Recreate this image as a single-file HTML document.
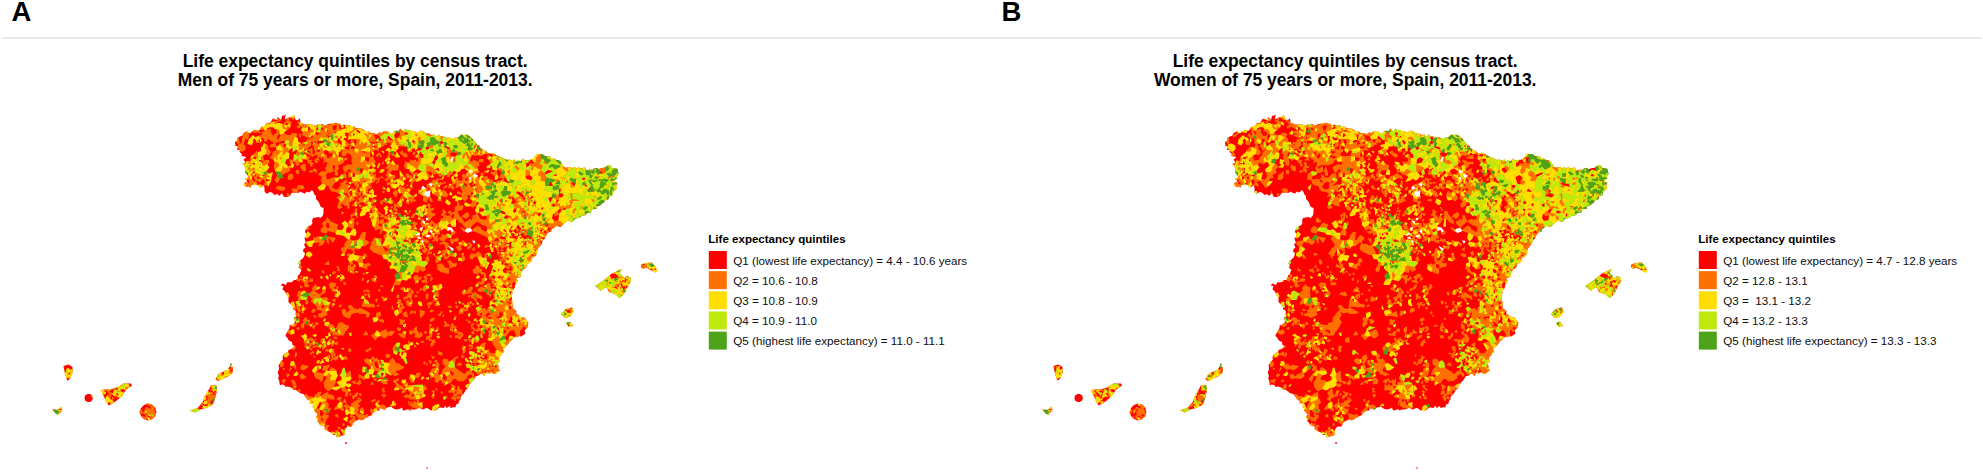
<!DOCTYPE html>
<html><head><meta charset="utf-8"><title>Life expectancy quintiles by census tract</title>
<style>
html,body{margin:0;padding:0;background:#fff}
svg{display:block}
text{font-family:"Liberation Sans",Arial,sans-serif;fill:#000}
.pl{font-weight:bold;font-size:27.5px}
.ti{font-weight:bold;font-size:17.45px;text-anchor:middle}
.lt{font-weight:bold;font-size:11.55px}
.li{font-size:11.65px;fill:#0d0d0d}
</style></head><body>
<svg width="1983" height="472" viewBox="0 0 1983 472">
<rect width="1983" height="472" fill="#fff"/>
<text x="11.5" y="20.6" class="pl">A</text>
<text x="1001.6" y="20.6" class="pl">B</text>
<rect x="2" y="37.1" width="1980" height="1.7" fill="#e6e6e6"/>
<text x="355.2" y="66.9" class="ti">Life expectancy quintiles by census tract.</text>
<text x="355.2" y="85.9" class="ti">Men of 75 years or more, Spain, 2011-2013.</text>
<text x="1345.2" y="66.9" class="ti">Life expectancy quintiles by census tract.</text>
<text x="1345.2" y="85.9" class="ti">Women of 75 years or more, Spain, 2011-2013.</text>
<g>
<g transform="scale(.5)" fill-rule="evenodd">
<path d="m460 730 2 1 1-2-1-2-2 1zm-315 15 0-11-8-5-10 3 3 15 5 15 5-5zm320 0 1-10-6-3-5 8-10 4-9 5-5 10 6 3 10-6 10-4zm-240 62 10-7 10-10 7-11 12-8-2-4-15 0-12 8-15 4-18 1 4 9 5 11 6 11zm-55 -16-1 5 1 5 5 3 5 0 4-3 2-5-2-5-4-3-5 0zm255 19 5-13 4-17-2-10-10 1-5 9-7 12-5 13-10 11-15 5 10 4 10-6 12-3zm-303 4-7 6-10-1 7 8 5 2 8-9zm166 -4-6 6-3 8 3 8 6 6 8 3 8-3 6-6 3-8-3-8-6-6-8-3zm1014 -270 10 5 2-5-5-9-7-6-14 2-6 3 0 4 4 3 7-2zm-792 -170 5-1 2 3 4 3 7-5 1 7 0 5 1 2 4 4 5-4 5 1 2 2 3 3 6-2 3 4 6-6 3 7 4 1 3 0 6-3 4-6 3 1 5-1 5 1 3-3 4 2 6 2 4-4 3 2 4-2 3-3 3 4 1 4 4 4 0 6 3 3 3 4 2 6 2 3 5 2 0 7 0 4-2 5-4 4-4-2-5 1-6 1-2 6 1 4-3 5-5 1-2 4-4 3-1 5 3 4 0 7-4 0 1 6 2 4-4 4 3 6-4 3-1 5 4 3-1 5-2 4-5 5-3 2-2 5 3 3-2 5 5 5-2 4-2 5-3 2-1 7-3 2-4 0-4 4-5 1-4-1-3 6-7-3-4 4 6 1-2 7 4 3 3 5 2 4 3 3 0 6 0 4 3 3 4 4 2 3 0 5 4 1 2 4-1 4 2 5-5 3 2 6-1 4-4 3-6 2 0 5-2 4-2 4-3 4-1 4 3 3 3 5 4 3 3 1 1 6 4 2-2 3-4 3-6 2-1 4-4 2-5 4-2 5 1 4-3 3-3 5-3 3 1 5 0 4-2 4 0 4 2 5-2 4 2 4 1 6 1 5 3-2 6 1 2 4 3-1 6 1 2 2 6 4 3-1 5 4 4 3 2 1 5 1 3 4 3 3 2 4 6 2-2 6 8 0-2 7 3 3 1 4 4 4 3 4-4 5 3 5-1 4 4 2 2 5 5 2 5 1 0 6 7 4 3 1 5 2 1 4 6 0 2 5 7-3 5-1 3-2 1-7 1-5 4-4 8 0 2-5 0-2 6-4 3-1 5-3 3 2 6-1 1-2 5-2 4-3 6-1 1-5 5-3 4-2 5 0 0-5 6 1 4 2 3-3 5-2 6 0 4 3 2 1 5 1 7-2 3-2 2 6 6-1 4-2 3 3 5-2 4 0 5-1 4-3 5 2 3 2 5-2 4-1 4 2 3 3 4-1 5 1 4-2 3-3 4-1 7 1 2-5 3 5 7-4 1 4 7-2 3 1 1-6 5-2 1-5 3-3 0-5 3-4 3-2 3-5 2-4 4-1 1-7 4-4 2-3 3-3 3-4 2-4 6-2 4-4 4 0 4 5 3-6 5 1 6-3 3 3 6 0 4-5 4 0-4-3 1-4-1-5-2-3 6-4-3-5 2-5 4-3-1-3 7-3-4-7 4-1 3-4 3-2 3-5 2-3 4-3 3-3 3-2 6 0 2-3 4 2 5-3 4-3-2-6 4-4 3-4-1-2 1-5-2-3-2-3-3-5-5 0-3-1-5-4-4-3 1-4-4-4-4-3 0-5 0-5-1-4 0-5-1-5 0-2 2-4-1-5 3-2 3-5 0-3 2-5 4-4-5-6 10-2 0-5 1-3 1-4 3-4 4-1 3-3 0-5 5-3 3-2 3-3-1-7 4 1 4-3 2-6 2-3-1-5 3-3 5-6 2-2 1-6 3-2 3-4 1-4 3-5 1-1 6-2 1-5 5-2 2-4 4 0 7 2 4-4 3-4 4-1 3-5 4 2 5 2 5-6 3-1 5-1 4-2 2-4 5 2 4-3 3-4 6 1 3-7 3-1 6 0 2-6 5-1 4-4 4-2 2-6 2 1 5-2 1-6 6-1 1-4 2-4 5-4 2-4-2-4 2-5-5-2 1-5 4-2 0-5 3-5-2-5 0-4-5-2-6 1-3-6-4-1-3 2-6 4-3 0-4 1-5 2-1-3-7 1-2 3-5-1-5 1-3 2-3-7-5 1-4 1-4-3-4 3-4-3-4 3-4-3-6 1-4 1-3-2-3-5-2-3-3-3-4-3-3 1-5-4-5 1-2-4-5-2-3 1-5-2-3-2-6-1-5 0-2 2-3 6-2 2-4 1-4 1-5 0-4 1-4-4-5 7-5-3-4 3-3-5-4 3-6-3-4 1-4-1-4-3-5-1-3-1-3-2-5-3-3-1-5-2-5 1-3-1-4-4-4-1-2-2-5-4-2-4-4-1-3-5-3-3-4-5-3-3-5-3-4-2-5 2-5-2-2 2-3 4-6 0-4 3-3 0-6-3-4 1-4-2-4-1-5 0-3-4-6 5-3-5-6 2-3-3-5-2-4 0-4-3-5-2-5 3-5 1-3-3-6 0-3-2-5 0-5-1-3 5-6-6-4 5-5-1-4 1-2 4-5 0-5-4-3 1-5-2-4 4-6-1-4 4-4-1-5-2-4 1-4-4-4 1-5-3-4-3-4-1-4 0-5-1-3-3-3 1-7-3-5 0-5-2-4 3-4-4-4 0-4-2-6 2-4 0-6 0-3 3-5 0-3-3-5 2-4-1-5 4-3-3-5-1-4 0-6 1-4-1-2-1-6-2-1-9-6 4-4-3-2-8-4 4-6 1-8 4 1-9-4 1-3 1-2 8-6-6-3 6-6-3-3 2-2 5-3 3-4-2-4 5-3 3-3 0-3 2-4 6-2 1-6-2-5 2-5 5-6-5-2 2-5 2-2 5-5 2-5 3 1 5-5 2-1 3 1 6 5 1-2 7 6 0-1 4 5 4-1 4 10 2-6 5 4 6-6 3 5 5 1 5 0 3 0 5 5 4 2 5-8 2 5 6-5 2-3 6 7 3 2-2 5 3 2-6zm704 205 4 9 6 2 8 3 7 7 8-7 5-9 5-10 5-8 0-6-8-4-6 5-5-7-5-4 6-8-7 3-13 6-17 14-16 11 5 4 6 5 4-4zm-70 40-12 3-10 10 8 8 10-3 7-10zm-12 31 5 7 9-1-6-9zm-439 242 1-2-1-2-3 1 0 2zm161 50 2-2-2-2-1 1 0 2z" fill="#ff0000"/>
<path d="m1307 540-5 1 5 2zm-6 -3-5-4-2 0 0-4-3-2-4 4-1-1 0-3-4 3 1 4-1 0 4 4 7-3 8 5zm-3 -6 3-3-2-3-3 1-1 3zm-37 30 1 2 0-4zm-18 -4 2 1 3-1 1 1 4 0-1 2 1 2 3 1 2-3 0-2-4 0 0-2 5-2-5-2-1 1 0 2-2 0-3 2-2-3-3 0-4-2-3 0-1 2 1 2-2 3 2 1 3-1-1-2zm14 6-4 4 4 1 2-4zm0 8-2 0 0 5zm-7 -1-2 2 2 3 3-1-1-4zm-3 -10-1 4 3 1 2-4-2-2zm-1 20-4 1 0 4 2 1 5 0 1-2zm-20 -8-3 3 1 2 3-1 3 1 0-4 5 2 0-3 1-2 6 0 1-3 1 0 2-3-4-3-1-2-2 0-2 4 2 3-1 1-5-2 0 2-3 3-1 1-1 2zm18 -33 2-2-2 1zm-5 38 1 1 5-1 0-3-2-1-4 1zm-5 -12 1-1-2-5-4 2 3 4zm-5 -196 3 2 2-3 0-1-5-1zm2 -18 0-2-9 3 1 1 2 3 5-2zm-9 209 1 0 1-5-4-2-1 3zm-5 23 6 1 1-1-2-3-2 0-1-2-3 1zm3 -211-2-2-4 0-1 1 3 4zm0 -17-2-2-3 2 1 5 3 0zm-8 214 4 2 2-3-2-2-5 1zm0 -228 0-6-2-1-2 1-12 3 4 6 3-3 2 7 2 1 7-4-1-3zm-11 12-6-2-1 2 1 4 4 0zm-5 217-1-1-1 1 2 1zm-6 -195 1 6 1 0 2-6-1 0zm-3 15 2 5 3 0 1-3-5-2zm-3 13 5 1 1-3-2-1-1-4-4 3zm-22 12-2 4 4 0-1-4 3-1 0-3-7 1zm-29 -4-3 3-3-4-4 2-2-1 0-4-6-1-3 0-3 1 0 7 8-1 1 5 6 0 6-2 2 2 10-2 1-1 1-6 3-2 0-4 12 0-1-4-11-2-1 1-1-11-4-1-1 4 2 9-2 0-2 3 1 8-1-1zm21 5-1-2-8 5 1 3-2 1 2 5 3-1 1-5 3-1zm-20 -49 3-2 4 4-1 7 9 0 1-4-7-4 2-4-1-2-7 3 0-2-2-4-4 4zm11 285 2 0-3-3zm-5 -31 0 3 4 0 2-1 0-2-2-1 0-2-4-2 1-1-3 1 0 2zm1 -188 2 2 3-1-1-5-3 1zm0 196-4 0-1 3 5 1 1-2zm-18 -294 9 9 3 0 3-3-2-6-5 0-3-1zm13 297-2 3 4-1zm-4 -11 2-1 0-3-2 1-2 2 0 2zm-1 -265-4-1-4-4-3 3 1 3 5-1-3 3 1 3 2 0 1-4 2 3zm-7 96 5-6-4 0-2-4-5-2-11 2-1 4-9 1-2 7 7 3-3 5 2 2 2-1 1-5 4-2 3-3 3-1 5 2zm-1 -77-5 0-2 2 1 1 5 3 3-2zm-3 20-2-2 0-6-7 3-1 3-3 2 5 5 6 0zm-10 -35 3 5 6-3 0-2-3-2-5 0zm-2 66 2 7 9-4 0-2-4-4-3-1-3 1zm-20 16 0 5 8-1-1-3 8-5-8-2 0 6-4-4zm4 19 0 4 6 0 1-3-6-2zm3 -134-6-6-2 3 0 2 6 2zm-37 5 5 1-3 7-9-2-1 1 0 14 9-3 3-3-2-6 7 0 0-8 4 0 1 3 8 4 1 1-4 2-2 6 2 4 5 1-3 8 11 2 5-8-4-6-1-5-7-4 4-9-2-2-4-1-2-3 2-2 2-7-1-2 1-3-1-2-5-2-4 5-1 1-1 10-3 1-2 3-4-2-4 2zm27 137 4 5 3-2 2-4-2-2-2 1-1-2-3-2-6 0-1 3 1 3zm-11 -18 3-2 3 1 0 2 1 1 4 0 1 1-4 2-1-2-3 1-1-1-3-1-1 1 1 6 6 2 0-2-3-2 1-2 3 4 1-1 3 1 3-2-1-3 6-2-2-3-6-2 0-7-3 1-2-1-3 3-6 0 2 6zm10 -16 0 3 1 2 6-5-3-2-2 0zm-31 42 2 3-1 3 2 4 5 1 5 4-1 3 3 3-3-1-1 1 1 3 4 0 2-2 2 2 2 0 0-3 8-9 0-2-3-3 0-1 4-1-2-3 1-1-1-2 3-2-1-2-3-1-3 3 0 6-2 1-3-1-2 1 2 3 0 2 1 2-3 1-2 0 1-3-2-3-3 0-9-4 2-1 1-2-2-2-3 1zm26 -59-2-4-5 6 6 1zm-54 -10 3 8 4 3 3 0 2-3 2 3-4 5 1 2 5 3 1 6 5 2 3-4 3 3 2 0 0-5 1 0 2 2-3 3 2 4 4-5 0-4 1 1 1 0 3 2 3-3 3-4 3 2 3-3 0-2-7-2-5 3-3 4-5-1-3-3-1 0-2-5 5 3 1 0 1-6-2-1-5 4-2-1-1-3 5-2 0-4-7 2 0 3-2 0-2-1-3-5-3 0-1-2 6-4 4 1 2-1 3 3 4-4-5-3-2 1-2-3 4-2 0 4 4-1 2 3 0 1 1 2 3 2 2 0-1-7 0-1-2-5 0-1-3-5-3 0-2-1-2 6-4 4-1-2-5-4-5 4-5 2 0 4 4 4zm26 -13 0-2 2-1 2 2-1 1zm-1 38-4-1-2-6 2-3 3-2 1 2-5 4 4 2zm-14 -33 4-2 2 1 0 2zm40 70-4-2 2 5 2 0zm-4 -10-4 3 4 3 2-1 0-2 0-3zm-20 55 3 8 4 1 5-6-1-4 2-1-2-3 2-1 3 2 1-1 3 1 2-5-3-1 0-1-2-1-4 1 1 2-2 1-3 0-1 3-1 1-1 2-3 0zm10 -103 2 1 2 0 2-2 2 2 2 1 1-4-1-2-4 0-2-1zm1 62 1 1-2 3 5 1 1-3-2-2 0-4-4 1zm2 -91-2-4-5 4 0 3 3 1zm-4 79 3-4-2-2-4-3-2 5zm0 -140 0-3-3 1-5 6 3 1zm-101 305 4-2 0 5-2 1 1 5 2 1 0 5 5 0 2 3 4-1 4 1 1 5-3 0-2 4-3 0-3-6-1 0-4 3 0 4 3 3 2 0 6 3 1-5 5 2 2-4-2-4 2-1 5 2-1 1 2 4 2 2 4-4 1-3 1 0 2 3-1 1 3 3 3-1 6 4 2 3-7 4 0 3 4 3 2-1 5-7 5-5 4 0 2 0 4 9-3 4 0 1 1-1 6 0 2-2 5 2-3-4 0-9 4-2 1-3 1-2 3 0 2 2-2 5 0 1 7-9 0-2 1-6-2-2-3 2 1 2-2 2-2-1 3-3-2-2-3-1-1 3-3 0-2-2-3 2-1 3 3 1-2 4-3 1-2-2-12-1-4 3 1 3-5 1 1-4 3 0 0-13 3-1 1-6 4 0 5-3 0 5 3 1 1-3 3 0 1-3-6-4 1-4 0-1-1 1-6-6 1 0-2-1 0-7-3 2-1 0 2 6-3 2-3-1-5 2-2-3 2-5 2 0 3 2 3-3-1-4-5-2 5-1 5 3 1 0-1-6-4 1-2-5-3-1-3 2-2 4-4 0-1 6-2 1-5-3-2 1-1 5-2 1-1 2-6-1-1 5-4-2-2-3-3 0-1 5-3 2-1-1 0-4-8 1 2-7-4 0-4 1-1 3 5 4-6 5-2 6 5 3 3-1zm25 -7 6-2 1 3-3 2-2-1-4 4-1 1zm-4 7-6 7-3-1-1-2 1-3 2-2 4-1zm-5 8 6-1 1 5 3 1 1 4-3-1-1-1-2 0-2-4-1 0zm24 4-3-3-4 0-1-2 4-1 3-2-1-4 2-3 5 2 5-3 2 6-2 2-3-2-4 3 2 3 5-2 4 7-4 2 1-6-5 1 0 3-2 3-4-1zm5 6 5-1 1 3-1 2 0 4-1 0-5-3zm38 -187-2 1-3 6 3 2 3 0 1-1 3 1 0 4 3 1 2-1 3-5-1-1 2-3-2-3-6-2-1 4 4 1 0 2-3-2-4 3-1-5zm-2 36 3 3 3-1 0-4 3 1 1 4 5-2-2-3-3-1-1-2-2 0 0-3 2-1-1-4-7 0-1 4 2 2 2-1 1 4-2 0zm12 -117-4 0 3 7 2-1 1-3zm-14 258-2 0-2 3 0 2 11 1 2-2 3 2 1-1-3-5-1 1-2-1-2 0-3 6zm9 -103-2 5 1 2 4-3zm-4 -14 3 3 4-5-2-1zm-3 -69 8-1 1-2-3-2-5 0-2 4zm4 -61 5-2-3-6-5 2-1 3 0 2zm-8 142-5 1 1 4 2 3 3-1 2 6 1-1 3 1 1-2-1-4-5-1zm-2 -187 4-3 0-5-6-5-4 2-1 2zm-26 188 0 5 5 0 2 4-3 1-2 6 2 1 5-1 1-3 3 2-2 3-5 5 0 1 6 3-1 3-2 0-4-5-4 3-4-2-4-5-3 6 3 2 2 5 2 0 1 4 3 1 4 6 3-2 0-5-6-1 3-4 4 4 1-1 4 3 3-5 9-3-3-6 6-1-3-2 3-6-1 0-1-2-3-2-1 2 3 2-2 4-1 0-1-4 1-1-4-5-2 5-1-2-1-1 4-3 1-4-1-2-2-1 1-4-3-1-2-4-5 1-2 1-1 2 3 2-1 3-1 0-2-3zm7 9 4-4-1-2 2-2 3 2-2 3 3 2-6 3zm8 -99 0 5 7-5 3 0 2-2 2-2-1-5-5-2-3 1 1 2-2 5-4 2 0-7-7-2-1 5zm8 15 0 5 3 3 3-3 0-3zm-1 -73 0 6 6 1-4-7zm6 124-3 0-3 2 2 4 2 0 1-1zm-6 -130 1 1 2-1 1-2 0-3-6 2zm3 102-4-2-2 0-1 5-1 1 3 4 4-4zm-8 170 7 2 0-1-1-4-2-1-1 0-3 2zm0 -324-1 2 1 1 7-1 0-4-1-1-2 0zm-3 167-1 5 6 0 0-3zm-2 -100-2-4-2 0-1 7 5-1 1 2 6-2 0-4-1-1-2 0zm-19 126-2-2-3 3 4 2 5 1 1-2 5 3-6 0 0 1 2 5 3-2 1-3 0-1 2-3 0-6 1-2 3-1 1-2 3 0 3 4 1 0 2-6-4-1-1 1-1-2 2-3-5-1-2 3-4-4-3 4-2 0-1 3-4 1-1 2-2 0-2 4 2 1 3-1 0 4zm6 -11 0 3-1 4-1-3zm9 -3 0 1-3 3-1-3zm0 174-1 2-4 1-3 6 5 4 1-1 4-6 0-2 2 0 6-5zm4 -99 3 1 2 0 1-3-4-3-3 2zm-1 -107 2 3 3-1 0-2-3-3zm-1 -28-6 1-1 3 3 5 8-4 0-2zm-1 -105-5 5 6 6 1-11zm-63 112-11 9 1 2 11 4 10 5 2 0 7 4 5-3 3 1 1 7-6 3 4 5 3-1 4 1 0 2-3 1 0 3-2 1 2 4 2-2 0-2 2-2 0-1 4-1-1-3 1-1 2 3-2 1-1 3-2 2 2 4 3 2-2 2 1 7 1 0 5-4-4-5 1-1-1-5 2-3 4 3-3 5 1 2 7-2-4-4 4-1 0-1 1-1 2 1 6-2-7-4 0-2 7-1-2-6-7-2-4 0-1-1-2 1 1 2 4 1 1 2-2 1 0 2-3 2-4 2 1-5 2-1-3-6 2-4 3-2 1 0 1-2 5-2 0 3-2 2 4 4 2-4 3 0-4-10-3 2-4 0-6-5 1-2-2-2-4 4-1 1-3-1-5 3 3 3-1 5 5 0 0 1 0 2 3 4 2 0-2 5-3-2-3 2-2-2 3-2 0-3-4-5-2-8-1-1-5 6-6-5-1 1-10-6 0-3zm54 -52 0 5 1 1 5-1 1-1-3-3zm-2 180 1 4 3 1 2-4zm-4 -164-2-3 4 0 2 2 5-3-2-4-4 0-1-3-3-1-1 1-2 5-2-1-6 1 4 6 3 1 0 3 3 3zm-1 -67 0 2-3 1 0 5 7 1-4 3 3 5 3 0 1-1-2-7 4-3-2-7zm6 34 2-2-2-7-3 5 1 4zm-24 301 1 4 9 14 2 0 7 6 2-1 3-4-3-5 3-1-6-6 1-1-4-7 1-2-2-9-7 2-1 3-6 2zm3 -333 1 3 2 1 4-4 2-2-2-2 0-6 3 0 3 1 0 2 3 1 5-3-5-6-5 2-1-3-3 0-1 5-3 1-2 4-3 0-3-2-1 4 2 3zm17 222-4-3-2 1 1 4 3 1 1 2 4 0 1-1 0-2zm2 22 1-4-5 1-1 2zm-4 -279 3 0-5-1zm0 130 3-7-4-2-5 3 2 5zm0 -44 2-3-4-2-2 4 1 1zm-2 -34 1-2 0-3-5-2-5 5 1 4 5-3zm1 218 0-5-4 4 1 3 1 0zm-53 143 2 4 2 0 4 3 1-5 4 1 2-3 3 3 4-2 1-4 3 0 2-4 2 2 2 4-5-1-2 3 1 2-4 5-3 1-2-1 0-3-5 5 2 3-4 3-6-1-1 0 3 6 3 0-1 3 5-4 4 0 4 5 1-2-3-3 2-1 0-3 3-4 1 0 0 4 1 2 0 1 2 0 0-1 1-1-1-3 2-2 0 3-1 2 2 2 4-2 3 2 5 0 2-1-1-3 3 1 1-1 5-1-4-4 0-4-4 2-5-3-3 0-1-1 2-3 1 0 4-3-2-5-4 1-2-1-1-2 4-1 3-3 1 5 2 1 6-1 1-5-7-5-1-5-5 2-4-1-3-1-1-6-2 0-3 6-3 1-1-1 0-4-4 0-1 3 2 2-2 4 5 1 2-3 5 0-4 3 5 3-2 1-1 4-3-1-3 1-3-1-2 0-2 4 3 2 4-1-1 3-4 1-5-1-1 4-4 0-2-4 6-1-1-4-1-2-6-8-2 3 0 5-1 1-1 5 3 1zm39 -13-7 1 1 2-4 2 3-5 0-2zm-19 29-4-2 2-2zm6 -5 1-3 2 0 0 3zm9 2 1-2 4 1-4 3zm-3 -11 0 5-2-1 0-1zm20 -135-3-3-2 1-1 3 1 2 3-1zm-8 -275 7-1-2-4-4 0-1 3zm6 405-2 0 0 1zm-5 -329 4 1 1 0-1-5-3-1zm2 332-2 2 1 3 3 0 0-3zm-16 -170 5 3-2 6 6 1-5 5 6 1 7-4-2-4-3 3-2-1 3-6-2-4-10-5-2 3zm7 -249 0 3 6 2 1-2 3 0-8-5zm6 277-1-1 4-6-1-1-5 0 0 3 1 3-2 1-2 4 0 2 3 1zm-5 80 1 3 2 1 4-2 0-3-1-1-1-6-4 3 0 4zm4 -246 2-1-2-4-2-3-3 2 1 5zm-105 24 8-2 1 3 3 2 3 0 3-7 3-1-6-7 4-3 2-2 2 3-2 4 0 5 4 1 4-1 3 5 8 4-1 2 8 8 8-1 2-4 11-10 13 9 1-1 4 1 3 6 7 1 4-5-1-3 7-5 0-2-2-4-1-1-9 7-3-8 4-8-1-3-3 0-5 5 2 6-7 2-2-2-4 0-7-12-5 4-4 1-1 9-5-3-3 5-3 0-2 2-2 1-7-12-2 1-5-10 3-3 3 0 3-1 3-5-1-4-8 0 1-4-4-5-1 0 0 9-5 4 1 7-2 2-5 1-1-3-4 0-3 2 5 5 0 3-4-1-1 1-4-2-1-2 3-3-5-7-3 2 0 7-4 3 4 2 2-1-1 5-3 0-2 2 1 3zm105 152-2-2-8 8 3 1 4-2 1-1 2 0zm-34 -13 4 1 2-1 6 1 3-5 4 2-4 4 1 3 2 2 2 0 3 5 2-1 1-4-2-2-2 0 0-7 4 4 4-1-1-2 1-4-6-3 0-8-4-2-3 2-2 4 1 2-2 3-3 0-2-3-1 0-6 2-1 2-3 1 0 2zm10 -229-1 8 1 2 0 1 5 3 0 4-4 0-1 1 5 4 1-5 4 0 3 1 3-2 0-1 1-4 3-1-2-7-3 2-5-3-1-3-3-2-4 1zm8 6 3 4-1 2-4-5zm11 -35 0-9-1-2-8 5 3 5 2 2zm-1 346-1-11-2-2-6 5 0 1 2 3-2 5 2 3 5 2 1-5zm-16 -293 2 3 3 1 1-1 3 2 4 0 0-5-1 0-5 0-5-1zm1 -76-1 5 7 2-3 8 3 1 4-6-4-3 1-3-2-1-3-3zm0 194 9-3 0-2-9-1-1 4zm0 31-1 8 2 2 4-13zm-2 -17 2 1-1 5 4 2 2-4-2-3 2-2 0-2-4-1zm5 -167-3-3-2 3 1 3 3 0 2-1zm-6 205 1 5 2 2 2-2 0-5-3-3-7-2 4-3-4-3-3 0 0-4-7-3-2 7-5 2 2 8 9 2 1-3 2-1 3 3 2 3zm2 147 3-9-4-1-7 4-1 4 5 3zm-15 -130-3 5 5 0 1 1 2-1-2-6 3 5 4 1 4-3 3-6-1-1-1-5-6 2 0 5-1 2-5-1zm-2 96 2 4 3-3 5-1-2 5 2 3 4-1 3 0 2-2-5-6-2 1-2 0-1-4-3-2 5-5-3-3-6 1-1 3 4 4-5 5-4-5-1 0-3-3 3-2 2-4-1-1-6 3-1 2 1 2 0 1 1 5 2 1 1-2 2 5zm16 -314-6-2-1 5 1 1 4 2zm-33 -18-3-1-6 4 1 5 3 1 3-2 6 5 1-1 1-6-5-1 0-4 6-1 1 4 6 4 0 1 2 2 4-3 1-3 3-2-1-7 9 1 0-7-8 0-2 5-3 0-1-1-7-3-1 3-3 1-2-3 2-3-1-4-3-1-4 2-1 3 3 2 1 5-1 1zm-32 33 2 8 6-3 1 1-1 8 4 0 3-3 4 2-1 3 4 4-2 5-6-5-3 2 0 3 9 3 1 8 6 5 6-6-1-6 0-1 6 0-2 7 2 1 6-5-3-3-2 0 0-3 1-3 3 0 4-4 0-2-4-2 0-2-4 0-1-3-2-1 0-5-2-3 2-1 0-6 3 0 0 5 2 2 3 1 2-4 2 6-2 1-2-2-3 4 2 4 3-5 3 6 1 3-1 4 2 2-3 2 2 5 4 0 1-2 6-1 2-6 1-2-1-4-3-2-1-2-3-2-1-3 0-5 3-2-1-3-3-1-1-3-5 3 1 2-2 3-1 0-1-3-3-2-3 1 0-3 5-1 1-3 2 1 5-3 5-1-3-5-1 0-3 2-2-2-4 2-5 8-2-1 0-3-3-1-2 5-8-2-2 1-1 2 1 6-3 5-6-2 1-2-3-4-4 5-1 4-4-3zm32 -7 0 6-4 0-2-2 3-3zm-17 15 7-3 1 1 3-2 4 2 1 4-1 1-5-2 0 5-1 1-2-6-2 1zm49 45-8-2 4 6 4-3zm-3 -111-3-2-3 2 1 2-1 4 1 2 7-1 1-2zm2 -4-7-5 2 4 4 1zm-6 224 0 9 6 1-1-4zm-35 59-2 1 1 4 2 2 7-2 10-2 0 4-2 1-2-1-3 2-1 1 4 2 2-3 1 2 0 3 4 0 3 2-1 2 4 3 1 0 2-3-2-2 1-2-4-1 0-2-3-1 3-3 2 2 0 1 1 3 5 0 3 3 4 0-1-8-4 0-3-3-3 0-2-4-4 1 0 3-2-3-3 0-1-3 3-1 0-3 1-3-3-2-5 2-1 3-3 1 1 4-2 1-1-4-1 0-2 5zm25 112 1 3 5 2 0-1 4 4 5-2-1-3-8 1-2-5zm1 -182 4 2 8-1 1-3-4-6-3-2-5 3-1 2-9-2-1 4-2 0 0 7 6 2 3-4zm9 208 0-6-2 0-1 3zm-8 -79 1 6 5-8-3 0zm5 -247-5-3-3 4 5 3 3 0 1-2zm-5 313 1 4 1 1 2-1 1-3-3-3zm-22 -397 3 1 3-3 5 0 1 3 4-2 3 2 1-1 2 1 5-3-2-2-1-5-3-1-3 3-2-2-5 1 1-3-1-2-5 2 2 3 3 0 1 2 4 1-1 2-3-1 0-1-3-1-2 3 0-4-5-1-1 2-3 2-4 1 0 8 3 3 2-1zm20 365-4 6 7 4 3-2 1-2zm0 -387 0 1 2 2 2 0 2-2-2-1zm-6 116-4 4 0 2 4 5 9-5-1-2 3-5-5-3-4-1-1 1zm-79 341 3-3 3-1 2 3-4 0-2 4 0 3-5-1-2 3 1 2 6-1 0-1 2 1 1 3-2 4 6 4 3-2 0-2 5-2 2 3-2 4 1 0 6-1 2-3 6 3 4 1 6-9 4 0 6 5 5-1 4 1 9-7-1-4 8-4 3 6-1 1 3 4 0 2 4-7-4-1 2-3-1-4-5-1 0-3-2-7-3 1 1 6-5 0-5 6-2-1-5-4-8-5-4-4-9 1-4-3 1-8-2-5-8-2-3 3 0 8 6 5-6 7-3 9 2 1 6-2 0-2 10-1 1-4 7 6-3 5-5-6-8 6 2 4-3 6-4-4-5 1 0-2 1-1-2-3-2-1-2-3-1-3 3-4-2-6 2-6-2-4-3-2 1-3-2-2-5 3 1 3 3 0 0 4-3-1-3 5 4 0 2 2-4 2-1-1-4 2-2 7zm12 -10-2 4-3 0 1-4zm72 -242-6 5 6 4 1-8zm-8 122 1-3-3-3 2-2 2-1 2 5 4-2-2-4-3 0 0-3-2-1-2 0-2 2-4 0 0 5 3 1 0 1zm1 49 3 4 4-1-1-7-2 0zm-4 29 3-1 3 5 2-2 0-4-2-2-4-2-4 3zm5 32-3 5 2 2 4 0 0-3zm-1 -11 3-3 0-4-4 1 0 5zm2 -17-6-3-1 2 2 3zm-3 -202 3-4 0-4-7-4-1 3 3 2-1 2 0 2-3-1-1 6 3 1zm-5 182 2 6 1 1 4-3 0-3zm6 -34-4-3-2 2 0 3 2 1 3-1zm-14 -216-5 5 10 5 5-6 1-3-3-4-1-1zm-7 192-4 0 1 4-1 3 1 2 5-2 3 1 1-1-1-3 2-1 3 0 0-1 5 0 0-5-2-1-1-5-4 3 3 3-1 4-3-7-3 3-2-2-3 2zm1 0 2 0 0 3-1 1zm9 22 5 0 0-1-2-4zm-4 37 3 4 3 0 2-4-2-1-5 0zm0 22-2 2 0 5 3 0 3-5 1-3-2-4-3 1zm5 -242-11-5-1 1 8 9zm-8 53-2 4 4 7 5-5-3-7 0-5-3-1-4 4zm-12 -18 3 6 4 2 3-1 2-5-3-2 4-3 3 0 2-6-2-4-3-1-3 5 0 3-4 2 0 1zm14 116 3 0-1-4-3-1-2 4zm-3 100-1 2 2 4 5-1 0-3zm4 -13 1-5-3-1-1 7zm-16 -28-2 7 2 1 5-2 1 4 5-1 0-2 3-3 2-4-3-4-3-1-4 0-2-4-2-2-2 3-2 0-1 4 4 2 4-2 0 6zm11 -1-1 3-2 2-2-1zm-21 118 2-2 4 3 0 5-3 1-2 3 0 2 2 1 3-1 3 5 2-2 1-5 2 1 1 2 5-1 1-4-4-2-3 0-3 3-1-1 0-2 4-1 0-2 4 1 0-3 3 3 4-1-2-4 1-6-4 0-4-8-2 2-1 8-5-4 3-4-4-3-7-2 3 7 4 2-2 3-3-3-2 1 0 2-5 2 2 4zm12 -4 0 5-2 0-2 0 1-4zm0 -51 10 1 0-6-6-1zm-5 -247 8-1 2-5-1-1-3-2-7 4-6-3-1 6 3 8 4-3zm4 132 2 1 4-5-6-1-2 1zm3 96-9 5-2 4 5 6 2-4 0-5 7-3zm1 -411-7-1-1 5 6 1zm-7 304 3 4 2-2-1-4zm5 28-4-2-2 2 3 4zm-7 27-2-2 0-1 4-1 1 1 4-3-4-3-1 2-1 0-1-6-3-1-3 6 1 1-2 3-1 4 6 5zm-33 -132 1 3-1 8 8 5 13 4 3-1 0-10 9-3 4 0 2-3 1-3-1-2-7 1-5-6-8 1 0 1 4 2 0 4 2 1-1 7-8-2-4-6-1 0-1-2zm34 -215-2 0-2 11 6 1 3-4-2-8zm-6 151 1 6 6-1 2-4 0-2-1-1-2 0zm-15 48 2 1-2 3 1 1 3 2 3 0 2-3 1 0 4-4 2 0 1 2 5-1-1-2 2-5-10 0-4 2-1 6-4-2 0-4 3-2 2-6-2-3 5-4-2-6-8-4 2-5 8-3-5-7-4 2-5-2-1 0-2 6-4 2 2 5 9 2-12 3 5 4 6-3 2 8 2 2-2 2-5 2 0 4 1 1-4 3 2 5zm19 -132 4-4-5-5 0-1-7 0-2 5 1 2 3-1 0-4 1 2 0 2zm-8 -26 2-1 0-3 5-1 1-6-4 0-3-3-4 6-1 3 0 4 2 1zm1 -35 1 1 5-7-5-4 0-1 3-3 1-3-3-5-3 1-3 0-3 7 2 2-4 8 8 0zm5 357 0-5-4-1-1 2 2 4zm-8 -63 0 2 2 1 3 0 3-2-4-3zm-3 33-1-3-3-2-2 3 3 3-3 6 4 1 1-1 5 0 4-2-3-3-3 0zm-11 -254 10 3 5-4-4-7-1 0-1-2-3-2-7 1-1 2 5 3zm4 -17 0 2 3 0 6-3-1-4-3 1-1 2zm9 420-3-4-5 1 0 2 7 2zm-41 -420-3 1 0 7 4 1 2-2-2-7 5 1-2 5 5 2 3-3-5-5 6 1 1-1 3 2 3-1 1-6 3 0 2 1 3-1 3-3 5 0 2-2-6-2-1 1-1 2-4-2-2 2-4-2-1 4-2-1 0-2 3-2 3-3 5 0 1-1-1-2-4 0-1 2-3-3-3 4-4-1-2 0-2 4-4 2-1 2 5 2 4-1 1 1-1 3-4-1-2 1-4-5-5 1zm36 -23-3-5-3 1-1-4-6 2-1 1 1 2 0 3 4 2 3-2 0 1 3 1zm-3 283 1-6-2 0-2 3zm-3 -353 3-5-1-4-5-1-2 2 1 3 3 4zm1 505 1-1-2-4-2 0-1 5zm-3 -158 3-4 0-2-3-1-2 5-5 2 1 2 5 1zm-6 73 0 7 5 2 4-1 0-5zm7 -304-6 0-2 1 0 3 9 1zm-41 53 4 3 5 2 0 1-4 4 6 1 1-3 3 0-1 5 3-1 2-3 3 5 4-3 0-5 2 0 2 4 5 0-3 4-3-1-2 2 6 6 1-3 5-1-2-6 5-2-2-6-3 0 0-8-2-1-4 3-5-3-1-2-4-2-1 0-2 5-3 0-1 3-4 0-3-2-4-5 4-3-5-2-2 3 0 2-1 5 1 1zm29 6 2-5 4 3-1 2zm-15 -4 0-1 3 0 1 2 3-1 0-3 1-2 2-1 0 8-6 3zm23 -170-3 4 1 3 5 0-2-7zm-3 229-1-1-6 2 4 4-3 6 4 4 7-6-6-5 6-2-1-3zm-4 -120 5 1 4 0-2-7 0-2-3-3 3-2-1-4-4 1 2 5-3 1-1 1-4 0-2 5zm-1 199 1 1 5 3 1-2 0-4-1-1 0-8 3-12-1 0-7 3 4 8-3 1 0 4-5 2 1 4zm-1 10 2 2 0 3-3 1 0 4 5 2 3-3-3-3 3-2 1-2 0-1-3-1 0-4-1-1-3 4-1-2-5 2 1 4zm4 52-1 4 0 2 2 1 3-1-1-5zm-10 -178 2-1 1 5 2 1 1 1-5-1-1 4 6-2 3 0 3 3 1-9-2-4-8 0-4-6-1 1-1 5-2 1-2-1-3 2 1 2 3 2 4 0zm1 -125 11-3-7-8-2-4-14-7-3 16 7 12 5-3-1-1-7-8 8-1zm11 428-2-1-5-1 4 6zm-24 -99 5 0 2 3 5 0-1 3-3 3 2 6 6-4-1-3 4-1 0-3-2-5-4 2-6-3 1-2 3 1 1-6 2-1-2-3-5-1-1 1 1 4-1 2-6 1zm13 -170 5 4 1-4-1-2-2-1zm-9 -75-1 2 1 2-1 2 2 2 4-2 0-2 3-3 1-2 4-1 2-4 0-1-6-1-3-2 2-3 3 0 2-6-7 2-1-2 0-6-1-2-5 0-1 3 3 5-4 3 0 3-1 2 2 4 2 1-3 4zm9 284 6-3-9-5 0 1 2 6zm2 62-4 3 4 4 3-2 0-2zm2 -123-2-3-5 2-2-1 4-5-2-2-3-1-1 16 1 0 3-2 1-3 5 2zm0 -16 0-5-2-1-7 3-1 3 2 2 3 1 2-3zm-3 157 3-5-4-2-3 1zm3 -177-7-2-1 1-2 4 1 1 4-1zm-1 -331-6-4-5 7 1 4 7-1zm-9 257-5 1-2 3 10 2-2 10 1 0 6-6-5-4 1-2zm-7 -276 8 3 7-4-1-1-3 1-8-4-2 0zm9 333-4 1-4 3 1 2 4 1-3 4 2 2 1 0 3-4-1-2 0-2 3 1 3-6zm-6 -205 4-2 0 5 3 2 3 0 0-4-4-5 0-2-6 1-3-4-4 0-2 2 1 5-2 2 1 3 1 1 7 2zm-7 96 0 3-2 0-2 3 3 5 3 1 3-3 0-2 2-1 1 3-3 5 1 2 5-4 2 2 2-1 1-4 0-1-4 1-1 2-1-1 2-2-1-2-1-1-2 1-2-4-2-1zm11 232 3 1 2-6-6-2-1 2zm-3 -239 1 4-2 1 3 4 2-2 1-3-1-5-2 0zm-13 -6 1-1 3 2 3 2 1 2 2 1 1-3 4 0 1-2-5-4 0-1-4 1-1-2-3-1 0-4 5 1 6-4-1-3-5 2-1-1-2 0-3 4-2 1-3 7zm14 31-1-1-5 3 0 8 4 3 4-6zm0 75-2-2-4 3 1 4-1 1 2 6 1 0 3-7zm-3 -21 3-2-4-4 2-4 0-1-3-5-2 0-2 1-1 3 3 4 0 1-6 0-1 4 4 2 2-1zm-1 164 3 0-1-4-4 1zm-8 39 1 12 3-1 6-3-5-7zm-6 -188 6-2 2 3 5 0 1-6-1-1 2-6-1-1-4 1-1 3-2 0-1 6-3-4-4 5zm14 85 1-1-1-3-4-1-1 4 1 1zm-5 62 3-1 1-4-5-1-1 1zm-3 -185 7-4-2-7-13-3-1-1-5 2-5 12 1 1 6 1 4 1 3-7zm-6 84 2 8 2-1 6-7 1-6-2 0-8-3-1 0 1 7zm2 58 8-1 0-2-7-2zm-3 -307-2 2 0 6 6 2 7-7-5-2-3 5zm-23 391 1-5-4 0-2 1-4 0 2 6 1 0 1 2 6 2 11-5-3 12-4-3-3 1 0 2 4 3-4 4-4-2-6 5 3 3 6-1 4 4 2 1 4-2 3 2 3-2 2 5-2 2-3-5-3 5 1 1-4 3 2-4-2-3-2 2-2 7 2 1 5 4 4-1 3 4 4-3 7 2 1-3-8-5 1-4 0-1 1-8-6 0-2-7-1-1-6 5-2-2 4-5 1 0 2-3 4-2 2 3 4 0 0 3-6-1-2 3 5 1 2 0 2 6 3 1 2-3 0-4 2-2-6-5 1-1-5-2 1-2 3-3-12-4-1-2zm0 0-1 2-3-1 0-1zm23 -275 4 4 4-3 0-2-2 0-2-4-4 1zm-8 171-1 9 4 0 3 2 3-2 3-1 3-3 0-5-5-2-1 4-1 0-1-6-3 0 0-9-2 0-5 5 0 4-8-2-1 5 2 5 3-1 6-4zm5 -101-1-1 0-3 3 1 2-2 5-3-3-5-3 4-2-3 1-2-5-1-3 1-2 5 3 8 0 3 1 2zm5 -82-2 5 6-1 0-1-2-2zm1 -211-3 1-4 2 1 7 1 2 6 0 2-1 0-1-3-4 1-4zm2 149-3-8-1 0 0 8zm-7 9 1 6 4 0 2-4-1-1-3-2zm-18 -105-7-2-2 0 1 5-3 4 5 6 2 0 2-9 2-1 2 2 5 3 1 2 8 4 2-1 3-6 4-4-1-2 0-10-1-1-2-6-2-1-4 7 3 2 0 6-3 0-2-4-7 2-3-2zm22 420-7 1-3 6 1 3 6 1 4-7zm-6 -274-6-2-2 1-1 6 0 1 14-3 1-2 0-4zm1 110-2 2 1 4 5-1zm-12 -210 2-1 1-6 4-2 2 1 4-7-10 1-3-7-3 1-6-5-3 2 3 9 5-1 2 2 3 0 0 2-3 3 1 3-2 2 1 3zm6 -102 2 4 1 1 4-3 0-2-3-2-2-1zm-13 68 8 12 2 0 4 2 5 0 0-3-2-4-6 4 0-3-3-4-3 3-1-7zm16 113 3-1-1-4-4 0-1-3-3 2-2 3 2 2 0 1-2 3 5 2 2-1zm-3 140 0 4 3 1 3-2-2-4zm5 -105-1-5-3-1-4 7 3 1zm-6 206 1 5 1-1 3-3-3-3zm-2 -405 3 4 1-1 2-2 0-3-2-1zm-2 106-6-1-2 3-1 4 2 4 3-1 2 4 1 1 3-3 3 0 2 0 1-3-2-1-3-1 4-4-2-3-3 0zm-6 5 2-1 1 0 1 2zm12 231 2-1-1-5-1-1-3 2-4-2-2 0-1 8 7-4zm0 -197 1-4-7 1 1 3-4 3 3 3 5-2-1-2zm-1 -128-2 0-2 5 2 3 2 0 2-5zm-5 202 1 1 4-1 0-3-2-2-1 1zm4 258-8-11-3 4 6 9 4 1zm-14 -171-8 3 3 6 2-1 1-3 3 1 2-3 3 2 0 1 1 4-1 2-5-5-4 5 2 3 0 3 5 3 6 0 0-6 2 0 0-3-1-3 0-1-3-3 2-4 0-4 2-1 2-3-1-3-1-1-3-2-2-4-6 1 3 5 3 0 1 5-5-4-1 1 1 4-3 2zm9 15-3 2-2-2 2-2zm-3 -112 0 4 1 1 6-2-2-2-1-8-4 6zm2 -43-3 8 4 3 3-3-3-7zm-4 -147 1 0 6-2-2-5-1 0-5 5zm7 512-8 2 2 3 6-3zm-9 -333 1 5 8-1 0-1-4-4zm-19 -109 3 4-1 2 3 4 2 1 1 4-1 3-1 0-2 2 0 4 4-1 0-3 2 0 3 3 2-2 0-4-3 0-2-2 2-1 0-3 2-2 4 0 1 2 3 3 1-7 3-2-1-3-3-2-2 2-2-1-3 2-2-1 1-2-4-2-2 2-1 0-2-3-4 1zm20 7-2-2 2-2 1 3zm-1 98 5 0 1-4-3-3-2 1zm3 -54 3-4-2-3-3 5zm-2 265 4-5-3-5-2 0zm0 -289-5 3 2 3 4 1 2-4zm-1 400 1 9 1 0 1-8-1-1zm-12 -277 2-2 2 3 3-2 5 2 3-4-4-4-4 3-3-1-3 2-6-2 0 4 2 1zm10 -101-2 2 2 3 3 0 1-2zm-1 -53 3 2 1-4-4 0zm3 104-4-2-3 3 1 2 2 1zm-11 152 1 4 2 2 7 2 1-1-3-12zm-1 73 0 3 3 2 8-6zm2 -394-1-6-6 5 3 4 8 6 5-1 0-5-6-4zm-10 461-2-1 0-3 4-3 0-4-7 3-2 0-3 3 0 2 5 3 1 6-1 2 6 2 1 2 5-1 2 2-2 5 2 3 6-4 1-5-2-3-4-1 0-3-1-1-5 0zm-34 -486-5 0-2 2 2 2 4 2-1 3 2 2 4 2 2-4 6 0-1-4 4-1 1 1 2-1 3 4 5-8 1 3 1 4 2 3 4 2 9 0 0-1 5 2 2-2-4-6-3 4-2-2-4-1 0-2-2-1-2-8-6 0-1 3-6 1-5-2-3-3-3 2 0 7-1 1-1-1 0-7-6 1zm49 387-5-4-4 4-2-2-3 1-1 2 5 3 0 2 8 3 1-1 1-3zm-10 -30-3 1 2 4-2 6 8 1 0-4 3-2 2-5-4 1zm-3 -378 2 3-1 2 1 4-4 6 6 6 2-2 1-7 5 1 1-2-1-6-2-3-1 2-6-7zm0 356-2 4 1 8 7-3 0-5 6-5-4-4 0-4-5-2 2-3-3-4-5 1 1 3 2 2-5 3 4 2 2 0 5 3zm2 -37 8 2 1-6-2-1-5 1zm-25 161 7 10 4-1 2 3 3 0 8-3-8-5 3-3 5 0 10-6-13-9-3 1-7-11-5 2-4 8 1 3-1 3-2 3zm30 -257 2 0 2-4-5-4-2 1zm3 6-6 1 1 3 3 2zm-11 -131 6 5 3 0 1-12-6 1-2 3zm7 45-3 1-1 2 0 2 4 1 2-1zm-3 105-2 4 1 2 2 0 3-2 0-2zm3 36-5-1-2 1 3 13 4 3 1 0zm-3 23 1-4-11-3-4 8 1 2 11 0zm-7 -120 7 0 1-4-1-3-4-1-2 2 2 2-4 3-1-1-3 5 3 4 4-2 0-1zm8 -20-6-1-2 2 2 3 1 0zm-8 231 2 4 4 0 1-1 1-5-7-2zm-8 -240 3 4 6-1 1-1-2-3-2 0 0-3 3 0 3 2 2-4-1-1 1-2-6-3-1 2-4-1-2 1 2 4-1 4zm11 170-4 3 0 4 1 2 5-2-1-6zm-22 -247-1 4-2 4 1 4 3 2-8 4 3 3 6-1 0-4 4 2 5 0 5-5-1-4-4 0-7 3 0-6 5-6 10 0 3-2 1-7-2-3-5-1-4 1-4-2-2-3-7 4 2 3-1 1-2 2-3 1 2 3 2-1 3 2zm10 45 6 9 2-1 3-8-2-2 0-3-3-2zm-1 109 7 7 4-2 0-3-4-1-1 1-3-3zm4 -200-1 1 1 4 5 1 1-2zm-27 140 7 0 0 2 3 1 2 1 3 0 0 3-3 0 0 4 4 1 2-1 0-3 2-2-1-2-4-1 1-2 3 0 0-4 3 3 2-1 3 2 1-1 3 1 2-1 0-3-4-3-1 2-2 0-2 1-1-2 2-2 5 1 0-1-4-5-4 1-3 4 3 2-3 2 0-3-4-1-3 4-4-1-4-3-3 0-3 6zm28 42-2 4 5 3 2-1 0-3-2-3zm0 46 0 5 4-2zm-15 -205-1-1 1 5 6 2 0-4-3 0-3-2 6-1 0-8 3 0 0 2 5 1 2 2 3-5-5-1-1-1-4 1-6-6-1 5 1 2-1 2-3 1zm17 372-3 1-3 5 0 3 2 2 3-1 2-2zm-10 -232 2 2 2-2 3 2-6 2 0 2 2 1-2 6-2 1 6 4 1-1-1-4 2-2-1-3 3-2 0-4 2-3-1-2-4-1-2 3-1-3 3-1-1-3-2 0-3 2-1 4-4-1-1-3-6 1-2 2 6 5 1-1 4 1zm0 -88 5-2 1 1 3-1 1-4-4-3-2 3-4-1-2 2-3-1-3 1 2 6 5-2zm8 292-9 0-4 3-4-7-14 7 3 7 7 5 4-2 4-4 7 1 6-8zm-5 -51-1 7 5 2-3-9zm-2 -210 0 6 2 1 2-1 2-5-2-2zm-1 107 5-1 1-2-1-2-4-1zm6 -96-4 0-2 3 3 2 2-3zm-6 -38 2 3 3-1 0-4-5 0zm-39 112-3 12 8 7 2 0 9 5 4 0 2 1 5-2 9 0 1-1-2-9 4-2-1-7-1-1-3-1-6 5 7 6-5 5-6-10 0-2-3-2 0-13-8-1 8 14-5 1-4-2-2-13-3-1zm29 225 1 3 1 2 4 0 4-4-2-3-6-2zm-39 -438 3 8 3 2 4 0 4 1 1-1 4 3 3-3 0-4-4-1 1-4-4-3 5-2 3 1 5 4 9-6 8 1 1-1-3-5-2 0-5-1-4 4-6-1-4 3-9-2-4 0-4-4-1 6-6-3-3 3zm5 4 1-7 6 0zm35 480-2 2 2 3 4 1 1-1 0-1-3-4zm-7 -353 0-1 4 1 2 0 2 3 3-2 0-3-3-2-8-1-5 4-1 1 2 2 0 3 5-1zm2 358 0-2-6 1 0 4 4 1 2 3 4-1 3 1 1-1 0-3zm8 -169-5 3-4-3-4 0 5 10 2-1 1-4 4 2zm-7 -117 1 1 6-3-1-7-7 4zm-9 338-7-2-1 3 0 2 3 2 5-3 6 2 4 2 4-4-4-6-6-1-1 1-2 1zm13 -23 0-2-5-1-2 1-2 0-1 1 1 2 2 0 1 1 1 3 1 0zm-3 -14-4-2-1 6 2 5 5-2 0-1-5-2 4-2zm-19 -325-2 3 3 6 7-3 3 1 1 3-2 0-1 6 2 1 6-9-2-5-2-2-4-1-2-2 2-4 6 4 4 0 2-3-3-4 0-5-7 1-3 4 0-1 0-9-2-1-3 1-1 2 1 7-2 2zm19 -70-3-1-1 1 0 2 1 3 3-2zm-4 -4 4-2-2-4-3 5zm0 260-8 1 2 4 7 3 3-4zm-2 -312 0 2 4 0 1-1 0-5zm4 431 1-3-2-2-4-2-3 4 0 1zm0 -185-6-2 0 4 5 0zm0 -216 0-2-6-2 1 5zm-33 372 7 5 4 1 2 7 4 1 2-1 4 4 3 0 2-5-3-5-1 0-5 2-1-2-2-3-1-4 1-5 4 0 2 7 5 2 0 3 4 1-1-9-4-1 1-5-4-1-3-5-4 2-3-5-4 2 0 4 4 2-4 5-1 0-3-6-5-3-1 0-5 4 0 2zm25 -423-3 1 0 2-3 1-2 3 4 2 2-3 2 0 2-1-2 5 4-1 1-1zm-15 116 0 3 2 3 5-4 2 4 3 2 6-1-2-4-1 0-2-1-1-1-2-1-3 1 0-3-2-2 2-1 1-2 0-2-2-1-2 0-3 0-2 1 0 2-5 2-1 1 3 3zm18 210-1-8-9 3 0 8 3 3zm-16 -288-2 1-4-1 1 6-2 4 1 1 5 0 2 2-4 2-1 4 1 3 4 1 3-5 5-2 1 5-2-1-3 2 2 3 3-3 2 0 1-6 2-1-2-4-4 3-2-2-2-1 1-6-5 1-1-2 1-2 3 1 2-2 0-4-1-1zm10 239 5 2-1-7-4 3zm4 29-3-2-4 2 2 3 1 0zm-5 197 4-3 1-3-2-2-5 3zm3 14 1 0 0-2zm-75 -514 3 5 5-1 2-5 6 0 4 6 0 10 2 4-4 3-4-2-8 4-2 0-2 4 5 10 4-2 1-3 4-3 1 1 2 4-6 2 1 4-1 1 1 6 4-2 0-4 5-5 5 3 7 3 5-3-3-5 0-3-6 1 0-5 6 0 7 2 0 2 5 2 1 2 4-1-1-3 5-1-2-5-6-3 1-1 5 0 2 2 4 1 1-3-3-3 3-3 2 3 4-2-1-3-3-3 0-1-1-4-3-2-4 2 1-9 5-1 3-4 7 1 2-1 0-5-3-1-6 2-1 2-4-2-1-3 1-1 2-5-6-1 0 1-6 4 1-9-7 4-1-1-2-3-2 0-2 6-1 1-1-2 2-7-7-4-1 2 0 6-1 6-3 1-1 2 2 4 5 1 2 3-3 4-5-6-2 1-1-2-3 0-2-2 4-5-3-4 5-1 1-4-4-5-1 1-2 5 1 4-4 6 1 2-2 5-3-2-4 0 1-4 3 0 3-2-1-1 6-3-7-2 0-1-3-2-3 4 2 3-1 2-3-1-2 3 3 3-7 1 1 2 3 3-2 3zm52 -5-2 2-7 0-3-4 1-1 10-3 0-2 5 1 1 2-2 5zm-13 21-1-1 2-9 16 1-1 7-4 1-4-4zm26 -34 3 3 2-1 2 1 2-2-1-5-4 1-1-1-3 2zm6 307-4 2 1 3 3 3 2-7zm-3 73-1-3-7 2-1 3 4 3 4 6 6-7zm3 -118-4-2-3 2 3 4 4 0zm-1 209 0-6-7 4 4 3zm-4 -196 4-1 0-2-2-2-2 1 0-4-3-1-4 2 3 5 3 0zm-2 233-1 2-3 0-1 3 4 2 1-2 4 0 0-5zm0 -393 1 0 1-4 2-1-1-2-4-1-1 2-3 1 1 4-1 3 4 2zm0 414-1 1-3-3-3 1 1 6 4 5 0-3 6-3zm-7 -211-2-2-8 1 1-3-2-2-3 0-3 12 2-1 13 2 1-1 10 1 1-4-4-4zm6 -179-6 7 2 4 4-1 3-4zm1 340 0-4-3-1-4 5 2 1zm-6 -74-11 6 3 4 2-1 9-6zm-11 -318 1 5-1 2 1 1 4 0 1-2-1-2 3-4 4 0 2-4-6-3 0-3 3 3 2-1-1-3-3-2-1 2-3 1 1 4-4 0zm5 163-1-6 3-2 5-1-3-5-3-1-2 2-5 1-3-2-2 9 4 2 2 0zm-1 49 2 3 3-1 2-1-2-4zm-143 -279 5 4 3-1 3-8-6-5 7 1 2-2 1-3 2 0 1 2 3 0 0 3 2 1 3-1 5 3-3 3-2-3-3 2 0 2 5 2 0 2 4-2 0 4 6-2 0-1 6-2 0 5-1 1-2 3-3 1 0 5 5 2 3-1-3-4 0-1 6 2-3-7 4 0 2 4 1 0 1-6-2-2 3-4 2 6-2 6 2 1-2 8 6-5 3 3-2 2 0 5-3 3 2 7-8-1-9 6 9 6-3 6 4 8 6 4 3-1 3 2 3 7 6 4 3-1 10 5 2-6 4-3 3 4-2 2 6 2 1-1 3 3-1 2 3 2 0 2-1 1-3-3 0-1-2-2-2 0 0 4-2 0-2 4 1 1-5 3-2-1-4 4 0 6-2 1 1 5 5 1 5-3-4-5 3-3 5 4 5 1 1 6 4-1 1-2-2-2 2-4-2-2 0-1 6-5 2 1 4-3-2-4 3-2 3 3 3-6 3 2 2-3 0-4 3 1 4-2-4-3-4 1 0 2-6 1 0-10 4 1-1-8 7 2 1-1 2-3-1-3 1-1 2 0 1 3 2 0 3-3 2 1 2-1 1-4-7-2-1 1-3-2-4-5-3 5-4 2 0 1 1 4-1 1-1 5-1 0-1-2 2-3-5-3-4 3-2-2-3 0-2 3 1 3 6 0 0 4 4 3-4 6 2 2-3 3 3 5-1 2-6-1-1 0-2-1-2-6 0-4-2-1 0-4 1 0-1-5-2-2-4 2 1-4 3-3-1-3-7 2-1 3-5 0 0 8-2 0-3 5-6 1-6-5 4-7 5-3-4-9-1-1-2 2-3-1-4 3-6 0-1-8 3-4 3-1 2 1 7-3-2-11 0-1 4-1 1 3-2 10 2 1-1 6 7 2 0-8-2-1 4-6-2-6 7-3 2 0 5-8 4 1 1-4-2-2-6 2-2 0-1 3-4-3-1 5-2-1 0-9-4-5 0-1-2-4-1 0-2-3-3 0-2 3-6 0 0 2 1 3 7-1 0 2 4 2 1 4-3 1-2-1-4-2-3 5-3-1-2-3 1-2-7-5 2-2-1-3-1-1-2-6 6 3 1-3-2-4-4-1-2 4-2 0-3 6 1 1 0 3-5 1-2-2 3-3-1-2 3-3 2-1-2-6-3 1-2-6 4 1 2-2 0-3 4-4 2 5 5-3 2 3 1 1 1-4 4 2-5 2 0 2 4 3 2-1 0-8-5-4 0-1 2-1 4 4 3-4 3 1 2-2 1-6 4 2 4-3 3 1 2-3-4-5 2-8-4 0-4-2-6 2-6 0-3 4-1-4-3 4-8-1-1-2-4 2 4 1-1 3 4 4 0 2-2 0-4-2-1 0 1 9-5 1-1 3-5-3-3 3-3-5 5-4-3-4-5-1-3 4-3 0-2 1-4-1-3 2-2 7 2 1 4 2 3 1 3 2 3-1-1-5 5 2 3 1 0 2-6 1 0 2-2 0-2-1-4 5 2 3 0 2-4 2-3 2-1-1 3-3-1-2-2-1-3 4-1 0 0-4-5 0 1 4-2 1 1 8-2 3zm126 80-5 0 3-4zm-17 13-1-3 3-2zm2 -6-2-1 3-3 1 1zm-73 -87-3-2-1-5 0-9-4 3 0 1-3 0-1 2-3-3 3-1 2-3 2 0 2-5-1-3 1-2 5 1 3-2 0 6-5-1-2 2 4 5 0 7 2 1zm39 -49-1-1-2-5 0-1 3-3 6 0-2 7zm-9 4 0 2-3 2 0-1zm-7 -8 5 3-1 3-2 0-1-1-2 0 0-5zm-31 10 2 0-1 3zm82 362 3-2 11-2 1 3 14 0 0 7 5 0 3-8-3-3-18-9-2 3-9-1-5-7-4 0-3 2 1 4 3 3-7 7-1-6-4-3-5 3 1 7 4 6 11 5zm23 -45 2 1 2-2 4 0 1 2 4 0 1-1-3-5-4 0-3 2-2-2-1 1zm5 -120-5 0-6 7-2 7 8 4 0 9 4 2 9-8-6-5-3 0 2-15zm3 -56 1-3 3 0 1-1 0-3-2-2-2 0-2 3-2 0-3 2 1 4 2 2zm-24 420 1 0 4 7 3 0-3 5 4-1 3 2 4-1 2-4 4 0 5-2-1-6-10 2 0-1-9-2-2-2 3-7-2-1 0-2 5-3-5-5 7-5 0-3-1-2-6 3 5-4-3-1-3 0 0 5-6 2-3 3-4 2 0 7 4 2 2-1 0 1 0 5-2 1zm26 -162-5-4-5 8 4 1 6-1zm0 -275-4-1-2 5 3 1 3-2zm-10 128 2-6 2 1 5-1-2-4-5-3-2 6-8-1-5 11 1 2 3 2 9 0zm-1 233-8-4 0 8 2 1 4-1 3 4 5-1 3-3-8-3zm9 -163-3-3-3 2 0 2 3 3zm-30 -328-6 1 0 5-2 3 1 2 7 2-2-6 4-2 0-2 3-1 0-3 4 2 2-3 7-1 0 3 9 2 0-1-7-4-13-2-3-3-2 3 0 3zm14 145 8-2 0-2 4-3-1-3-4 0-1 2-1-3 2 0 1-3 2 1 3-4-2-1-3 0-1 2 0 1-5 2-1 2-4 2 0 1 3 3-1 3-1 0-3-5-1 1-1 3 2 3 0 2 1 0 4 0zm10 139-4 2 4 4 2-3zm-4 17 3-1 2-4-4-2-2 6zm0 252-5 5 1 3 8 1 0-4zm2 -435 1-1-1-4-2-1-4 3zm-4 413 1-3 0-2-6 0 3 5zm-4 -384-1 3 1 3 3 1 2-3 0-2zm-15 354 0 1 6 6 3-2 6 4 5-5-3-8-8 9-1-5zm-8 -265 8 3 4 3-2 3 0 2 3 1 3-5-2-2 1-3-1-1 0-2 2 3 7-1-3-3-6-1-1 1-7-2 4-12-6-4-3 1-7 9 0 6-7 3 0 4 3 6 4 3zm20 -55-3 5 3 4 2-2 0-4zm-6 348-3 1-2 1 1 6 2 1 4-5 2 0 2-3 2-4-2-3-5 3zm7 -358-3-2-2 1 2 5 3-1zm-21 17 1 4 11 6 1-1-1-2 2-11-2-2 3-5-6-3 1-3 6-1 0-6 1 0 3-5-1-4-2 0-3 4 1 5-3 0-1 4-4-3 1 4-4 1 4 4-1 1-2 5 5 2-3 4-5-1zm14 42 5-6 0-5-7 1 1 10zm-4 342 2 4-2-1-9 8 3 3 3 1 0 2-3 2 0 2 4 0 3-6-1-2 8-5 0-1-1 0-2-3 1-2-1-3-4 0-2-4-4 3 0 4 4 0zm-10 -298 1 9 3-2 2 0 1 0 1 0-2 3 0 2 3-1 3 2 1 0 1-1 1-2-3-4 3-2-1-3 3-2-1-6-4 1-2 4-3 0-1-3 2-1 3 0-1-8-6 2-1 3 2 4-4 1zm9 -123 7 1 0-4-2-2-3 1zm1 -30 3-2-1-4-3-1-2 2zm-2 441-3-4-4 1 0 3 3 2zm-1 -37-2 0-2 5 5 0zm0 -83 1-2-1-4-5 0-1 4 3 4zm-12 51 1 1 11-1 1-1-2-12-8 6zm7 -503 2 3 3-2-4-2-2 0zm5 259-2-3-6 0 0 4 5 3zm-16 302 4 3 2 5 2-1 2-4 3 1 2-1-2-5-4 1-1-4zm8 -533 2 2 5-3-5-2zm-5 494-6 3 0 1 2 6 6 1-2 9 6 0 1-1 0-6 2-1 2-3-5-3-1 1zm-26 -114-2 0-1 6 5 0 0 6 2 0 5-1 6 2 2-1 7 0 4-8 2-1 6-9 0-1-11-4-3-4-9 2 0 3-2 2 0 2-4 6 9 1 2 4-2 4-3-4-5-1-1-2-3 1-3-3 6-2-3-7-1-1-3 0-5-3-5 7 4 1 2 4 5-4zm27 -401 6 1-2-6-3-1-1 1zm0 454-3 2-1 5 9 0 0-1 0-3zm3 -362-3-4-6 3 3 7 6 1zm-4 447-4 8 8 1-1-6zm1 -233-4 1 1 4 3 1 3-1 0-2zm-2 297 2 1 1-5-3 0zm0 -9 2-3-2-3-3 1 0 5zm-1 16 1-2-2-4-3 0 2 6 1 0-1 3 4-1 0-1zm-2 -439 4-3-5-4-2 7zm-1 383-5 4 3 5 7 1-4-10zm2 -251 0-3-1-1-4 0-2 2 2 5zm-2 -272-2 1-2 7 5-3zm0 321 0-1-6 1-1 3 4 3zm-12 250-3 6 1 1 4-1 1 5 3 3 6-2-4-5-3 5 0-8-1-3zm11 -65-5-2-5 5 8 5zm-2 -404-8 3 1 3 5 2 4-5zm-1 463-2-1-3 2 2 4 5 0zm-4 -548 5-2 0-2-5 0zm-2 225-1 4 3 2-2 2 2 4 1 0 3-3-1-3-2 0 1-4zm-3 -241-1 2 3 4 4-5 2-4-1-2-2 0-2-3-3-1-5-3-2 4 1 2 4 4 4 0 2 2zm3 521-3 2-3 6 2 1 7-2 2-1zm3 -255 1-1-4-3-3 1 1 5zm-2 16-3 2 3 5 2-3 0-3zm-18 110 3 6 3 0-1 3 2 2 2-1 1-3 2-1 4 3 2-2 2-4-3-2-4 2-1-1-4 2 0-3-5 1 5-5-3-1-5 1zm12 150 8 4-1-8-5 2zm-13 -370 16 4 3-6-1-3 2-8-10-4-2-2-2 0-8-9-3 8-4 1-3 4 3 6-5 4-1 6 2 2 9 2zm1 -16 2 8-3 3-4-4 1-8zm11 -171 3 2 4-1 1-4-3-1-3 1zm-7 432 2 4-1 2 3 4-2 0-3 5 4 0 2-4 5 4 4-3 0-3-4-5 0-3-2-2-1-8-4 0 0 5zm5 9 0-3 4-1-1 2zm1 -39 6 2 2-5-8-1zm7 -91-5 0 0 7 1 1 5-6zm-11 148-2 1-2 6 14 1 0-2zm-3 -160 0 4 4-1-1 4 5 4 3-6-4-4 4-2 2-6-6-2-7 0-1 2-2 3zm3 205 4-5 5-10-1-3-8-1-2-2 3-7-7-6-5 7 1 5-6 8 1 4 0 5 8 9zm-9 -307-2 6 2 7 3 3 1 0-1-13 9 11 6-10-15-3zm18 72-3-2-4 2-1 3 1 2 6-2zm-3 53-4 2-1 3 6 2 2-4zm-34 201 6-4 1 4 11 1-11 5 2 3 5 1 1 3-4 8-3 1 5 7-1 2-5 4-2-3 0-11-2-1-6-2-4 3 0 2 7 8-2 3 3 7-2 3 4 4 2 4 3-3 1 1 6 0 4-11 3-1 0-7-5 1-1-3 5-1-6-6 5-1 1 7 1 1 6-12-7 2 2-4-2-3 2-2-5-5 0-4 3-3 4 3 9 0-1-6-1-2-10-3-1-4-6 2-9 6-1-1 3-6-1-2-4 1-2-1-2 5-3 0-2 3 0 4 3 0zm7 37 3 1 2 5-4 1-1-6zm21 -228 0 6 3 2 2-5-3-3zm3 256-7 1 6 3zm-32 -243 4 0 6 2-1 4-6 1-1 3 1 4 6 2 5-3 7-3-2-7 8-2 0-1-4-4-4 7-2-2 3-5 5-3 0-5-10 2 0 2-4 5-3-5 6-3-1-5-2-3 9 0 4-2-5-5-11 2 2 4-5 9-4-8-6 6 1 4 3 1zm25 89-2 0-3 4 0 3 4 3 2-2 1-3zm-13 27-2 2 1 4 9-1 0-2 6-6-3-4-5 3-4-1-2 1zm5 -206 8 0 0-1-1-8-9 7zm8 320-8 0 1 3-3 2 0 4 5 0 0 2 5 3-4-6 0-2 4-4zm-8 -147 6 0 2-3-6-3-3 5zm-7 -4 4 0 2-4 2 1 2-3-2-3-2 3-2-2 2-3 0-1-3-2-2 2 2 3-1 1-2-3-4 1 3 4 1 1zm-20 -101-3 5 6 4 2 0-2-8 5-2 5 0 4-2 0-5 10-4 0-7-7-2 0 2 1 3-5 7-11-7 6-7-3-7-1 0-7 8 1 5-7 6-1 3zm12 -106 6-1 2-1 1 0 1-2 4-4-2-4-4 0-5-4 0-2-4-2-3 3-4-1-2 3 0 3 4 4 3 2 4-1 2 2zm11 47-5 4 5 4 1 0 1-2zm-15 205-5 1 2 8 3 4 6 2 3 4 3 1 4-14-3-2-1-2-12-2 9-7-4-4zm16 -62-4-5-3 3 0 5 3 1 3-2zm-34 3 2-4 3 2 2-2 5 2 1-1 1-1-1-3-5-3-9 2 0 2-4 2-2 3 3 4-1 6 9-7 1 1-3 5 1 5 4-1-1 4 4 0 1-2 0-2-3-1-1-3 3-3 1 1 2-1 3 1-5 2 1 3 5-1 1-1 4 1 6 2 0-3-9-3-1 1-2-1 1-5zm14 -435 1 3 3 2 3 0 2-6 2 0-3-1-5 4zm6 472-2 2 0 2 4 3 2-3zm3 -36-4-3-2 3 2 2 4-1zm-2 -36 2-2 0-1-2-3-5 1 1 5zm-1 -308-1-4-7-1 0 4-5-1-4 4 6 2 4-4 6 4zm-6 339 3 1 2-4-2-1zm-2 -50 3 5 3 0 1-4-5-2zm-4 -7 3 2 4-1 0-2 4-3-6-3-3 2 0 2zm9 50 1-1-6-4-1 3 3 3zm0 38-1-1-5 1 4 4 1-1zm-2 -63-5 5 3 4 1 1 2-5 1-4zm0 55-4-2-2 3-3 0-1 4 4 1 2-3 2 0zm-10 95 1 0 2 7 6 0 0-2-6-5 5-3-3-4-6 1-2-2-1-1-4-3-2 3-1 0 7 10 3 1zm1 -467 5 2 0-5 3-1 1-2-5-1 0-1-4 0 0-1 4 0 1-3-1-1-4 1-3-1 3-5-7-2-2 2 0 5 3 1 2 6 2 0 2 2zm4 318 3-2 0-3-4 0zm2 -93-5 0-2 2-1 4 2 1 6-1zm-25 96 5 5 2-3 1-5-1-3 4 2 0-6 6 2-4 5 7 1 0-2-2-4 1-5-6-1 0-3-2-1-4 1 0 2-3 2 2 4-1 2-4 2zm7 -88 1 5-1 1 2 3 3 1 7-3-5-4 0-2 3-3-4-4-4 1-2 2-1-2 0-2-1-1-5 1-6-2-2 3 0 2 6 3 2-4 4 1-1 2zm12 -317-10 1-6-2-2 3-3-1-6 4 2 4 2 0 6-4 5 4 3 0 5-3 1-1-1-2zm-4 212 3-4-2-5-1 1-5 9zm1 274 0-2-13-3-3 5 0 4 6 3zm-6 -125 5-1 1-6-4-3-1 1-2 3zm-3 0-2 0-4 3 2 4 2-1 1 4 4 1 2-5-5-1zm3 -277 1-2-3-3-8 4 0 4 2 4 5 4 3-1 1-2zm1 421-8-6-5 3 1 5 3 4 9-3zm-2 -451-1-1-6 2-1 2 5 2 3-3zm-14 84 0-7 13-1-2-7-12-1 0 7-11 0-1 3 3 3-1 3 2 0 5-1zm4 -68 4 4 4-4-2-2zm3 309 5-1-2-4-1-1-3 3zm-2 -56-1 1 0 5 6-3 0-1zm3 -16 1-3-1-2-4 3 0 4zm-5 -18 3 0 2 0 0-2-3-6 1-2-5 0 2 3-2 5zm0 88 4-6-3-1-1-6-2-3-3 0-3 2 3 4-2 1 3 4 2 5zm0 -358-2 1 3 7 2 0 1-6zm-3 320-3 5 6 3-3 1 0 7 3 1 3-5-1-4 2-3 0-8-6-3zm5 195 0-2-5-2 1 6 2 0zm-8 -149 7 1 0-4-3-5-2 1-3-1-1 3zm3 4-1 3 3 4 2-3-2-6zm-2 -391 5 2 1-2-2-5zm1 414 4-1 0-5-2 0-5 2zm-7 -339-8-3-1 9 4 2 3-3 2-4 3 4 0 3 4 3 4-2-1-4 1-2-3-9zm10 27 0-8-6 0-1 3 3 6zm-74 -81 0 2-1 2-2-1-5 2 5 7 3-3 2 0 2 2 1 6 4-1 4-5 6 5 4 2 0 2-7 3 0 4 3 1 4-1 6 1 1-1-3-8 5-2 2 2 2-3 9-2 1 0 7 0 1 3-2 4 2 5 7 0 1-1 0-6 3-7 0-3 3-2 3-5-3-3-8 0-3 4-3 0-4 0-7-4-7 2 1-4-4-6-3-1-1 1-1 5 2 4-5 0-2 5-5-7 0-8-7 2-2-1-5 4-5 2-1 1zm36 2 1 1-1 4-2 2-2 5-2-5 2-7zm30 436-1 9 2 1 3-5 0-3-1-2zm2 62-3-6-5-2-3 4 4 2-1 3 3 2-1 4 1 3 4 0 3-5-2-3zm2 -118-1-2-5 0-2 6 3 1 4-3zm-4 79-6 4 9 8-1-11zm-6 -31 2 4 3-1 3-6-2-3-2 1-1 3zm7 -78 1-3-2-3-3 2 0 4 0 1 2 1zm-8 -381 4 2 2-2-1-2 1-1-1-4-1 1 0 4-3-1zm-3 122 4-1 3-4-1-6-4-2-5 2-2 9 2 2zm-2 382 1 1 5-6-3-4zm-14 -488 2 4 9 3 5-7-5-4-1 1-2 3-3-2 1-3 5-3 1 1 0 1 5 3 1-2 1-5-2-2-3 1-1-1 2-2-1-4 3-1 0-1-7 3-2 6-3 0-1 5-4-1-1 1zm18 407-5-2-3 5 2 3 6 2zm-7 -328-3 3-6-4-2 1-1 7-5 3 7 7 8-5 2 1 5-5 1-3-3-4zm5 415-6-1-2 4 2 3 1 1 5-5zm-1 -360-4-2-2 2 2 6 1-1zm-33 -85-2 8-4 2 0 3 7 4 3-6 1 0 3 9-4 1-2 4 0 8 2 4 10-8-6-9 2-3-1-9 3 0 7-10-1 8 4 2 5-6 4 0 1-5-1-4-6-3-3 2-1-5 3-3 0-1-6 0-2 1-3 0-1 3 8 9-1 1-11 0zm23 406 7-4 1-3-2 2-6 4zm-2 49-3 3-1 2 6 5 0-5 3-2-1-3zm-1 -526 4-2 2 0 0-1-5 1-1 1zm-12 140-3 5 12 5 5-1 2-2 1-5-13-2zm15 364-4-1 2 5 3-2zm-5 -2 3-3 1-3-1-5-6 1-2 4 2 6zm1 -416-5-6-2 6 4 2zm-9 -83-1 0-2 5 1 1 2 0 1 3 4-1 1-1-2-3-2 0zm-2 132 4-5 2-6-6-4-5 8zm-3 -124-2-1-3 1 0 1 3 5 5 0 2-3-2-5zm-5 -4 5 1 0-1-4-2-1 1zm-10 11 7-3 0-1-2-2-2 3-2-1-1 1-1-2-4 5zm-27 116 7 5 0-1-1-5-1 0-1-3 2-1 1 2 4 2 3-2 0-3 4-1 3 5-2 3-1 3-5 0 0 5 6-4 0-1 10 3 0-2-5-7-1-6 3-3 7 0-8-6 5-2-7-5 0 7-2 0-2 4-2 0-1 3-5-2 1 4-3-1-3 1-1-2 0-2 2-1 3 1 3-6-5 0-2-3-4 2 1 3-1 2-3 1 0 4 2 1 1 3-3 2-2-2 0-2-2-1-5 0 1-6-4-1-1 0 3 4-4 1 2 3 2 0-1 3 2 2-3 3 0-3-3 0 0-1-3 2-2 4 3 1 1 3 3 1 1-2 5 4 2-7 3 1 1-1zm33 -62-6-7 2-3-4-5-3-1-3 8 4 3-1 9 7 3zm-14 28 4-2 3 0 4-6-1-4-5 0-5 1-2-10-4 3-1 6 6 3-4 4 3 5zm1 49 0 1 1 2 1-1zm-1 -123-1-2-3-3-2 2-2 4 3 1zm-7 79 2-4-2-1-4 1 1 2zm0 -72-3-4-2 0-6-1-5 2-2 1 1 0 1 2 8 1 1-2 5 3zm-10 21 8 0 0-7-2 0-4 3zm0 27 1 5 4 0 1-11-1-3-3-2-4 5-3 1-1 3 3 3zm-17 14 1 1 5 0-3 4 1 1-3 3 0 3 6 1 0 1 5 1-3 4-1-1-2 6 4 3 4-2-2-5-2-1 6-3 1-4 0-3-3-2-4 1-2 3-2-4 3-2-1-2 4-3 0-1 3-1 0-3-3-1-1 2 1 3-4-1-1-2 3 0 2-6-5-1-1 1-1 5-2 0zm-19 -34 3 7 1 0 0 1 4 3 3-1 5-4 0-8-4-2 4-12 5 2 3-9-2-3-4-4-6 3-2 4 1 3-2 2-1 12-4 0-1-11-4 0 1 4-4 4 6 4zm15 64 3 3 0-1-2-3zm3 -13 0-2-3-2 1 6zm-33 388 1 3 0 4 2 1 3-2 0-4-5-2zm-1 15 3 2 3-4 1-3-3 0-1 1-8 0 4 4zm1 3-11 2-2 3 1 1 10-4zm-4 -1-2-3-5 1 2 2zm-12 -1 1-3 3-2-7 3-1 6 5 1 1-2zm-12 9-1 2 4 2 2 0 2-3-5-2-1 4zm2 26-5 2 1 4 2 0zm-6 -10 4-1 0-2-4 0zm-13 17 0 9-2 3 1 6 3 1 4-5 2-4 3 0 1-3 3 1 1-5-2-4-7 1-1-1 5 0 0-4-6-2-3 2 3 3zm11 14-1 3 1 2 3-8zm-3 -29-1 3-1 1 1 3 4-1 1-2-1-3zm-1 -1 2-3 1 0 1-1-4 1-2 2zm-10 18-2 0-2 4 3-1zm-10 18 4 1 0-3-3-2-2 2zm-5 8 0 3 5-2-4-1zm-3 0 1-2-3 1zm-113 7-2 0 1 4 2 0 1-2 2 0 2 1 1-1 1 3 1 0 2-3 3 2-5 2 1 2-1 1-5-3 0 5 1 1 2-1 2 2 5 0 1-9 1 0 4 2-1 2 2 2-1 2 1 2 4-1-1-3 2-1 1 1 3-2 1-7-2-2 1-3-4-1 2-4 1 0 0 3 2 2-1-6-4-3-1 1-1-1 1-1-1-2-9-2-5 1 5 2 1 2 4 0 0 5-2 0-4-3-3 0-3 5 1 2-4 3-2-1 1-4-3 0-1-1-1 4zm25 8-4-3 1 0 1-1zm-14 -7-2-1 1-3 2-1 1 1zm-35 -51-3-3-5 2 1 2-1 3 2 2zm-14 18 3-3-3 0-1 2zm-4 -19 3-2 1-2-5 3zm-7 14-3 4 4 2 1 2 3-2 0-4-3 0zm-4 -9 4-3 1 1 3-1 0-2-9 3zm-4 16 0 5 1 1 3-4-1-2-2-1zm0 -18-2 1-1 2 4-1zm-16 4-1 3 2 1 2-1 0-4 1 0 3 5 4 4 0 2-4-2-3 4 7 4 3-3-2-2 4-1-1-2 1-3-1-1-5-1 0-2-1-3-12 0zm10 23-5 0 2 4 2 0zm-13 -17 3 7 1-1-1-3 0-2-2-1zm-2 -6 1-1-4 0zm-68 -31 4 1-1-6-3 0-1 0zm0 3-3 2 1 2 2 1 3-3zm0 -22 2 0 1-2-4 1zm-6 11 1 5 2-3zm0 -11-2 1 1 5zm-10 95 1 0 3-3-2-2-3 2zm-11 -2 1-2 2-3-5 0-1 1z" fill="#ff7000"/>
<path d="m1306 541 0 2 6 3 3-6-1-1-2-1-1 2-3 0 1-2 4-2-3-4-2 0-3 1-7-3-2 4 4 4 4-1zm-16 -12 1-1 3 1 2 0 1-3-10 1zm-31 27 3 1 0-1-4-2zm0 12-5-2 3-2 2 1 0-4 3 0-3-5-2 2 0 2-1 2-3-1-1 4-7-1-1 3 2 6 3-1 2-2 6 2zm-4 7-5 2-1 3 2 2zm-2 -19 1-2-2-1-2 2zm-57 14 2-2 2 3-1 3 3 1 1 2-2 4 1 1 4-4 2-1 0-5 3 0 1-4 4-1 1 1-1 2 2 1 1 2-7 0-3 4 5-2 2 4 4-1 2 0 0 2 1 3 3-3 8 2-1 4-6-2 0 3 6 3 5 0 1-2 3 0 2 3 3-2 3-4-5 1-2-2 0-2-2-2-2-7-5 1 1 5-5-3-5 0-3-3 2-7-2-1-3 2-1-3 4 0 1-4-3-5-3 2-2-2-7 5 1 1-2 2 2 3-2 5-7-4 5-1 1-3-1-1-10 7zm20 -8-4 4-1-5 3-1zm20 -3 0 4-3 2 0 1 6 2 1-3-2-2 2-3 1 0 1 2 2 1 2-3 3 0 1-2-2-2-3 1-2-1-5 0-1 1 1 2zm7 -5 4 1-2-4zm0 -13 2-4-7 3 0 4 4-3zm-5 2-2 0-5 3 0-2-5 2 3 2 2-1 1 2 3 1 1 3 3 0 1-3 2 0 2 1-4-4-2 0zm-8 -163 0 1 1-1 0 1 4-6-3-4 1-1-1 0-3 3 3 3 0 3zm0 -13 1-3-1-1 0-2-3-1-5 2 3 4zm0 203-2-2-2 2 0 3 2 0 2-1zm-8 -194-4 1 1 5 3-2zm-2 179 1-2-2-2-3 2 0 2zm0 30-1-2-2 0 1 1zm-21 -226 4 1-1-4-1-3 0-1 6 2 3 4 3-5 2 2 3-1 0-3-3-3-3 3-4 0-1-3-1-1-4 1-2-2-4 3-2-3-1-1-3 4 0 4 5 1 1-2 4 1-2 3zm8 15 4 1 1 1 5-2-3-3-2 1-2-2-3-1zm8 20 1-2-4-2-2 2 2 2zm-1 6 0-2-4-2-2 0 1 6 1-2 2 1zm-28 -9 6 1-1 3 4 2 2-2-1-3 1 0 3 2 2-2 2 3 4-1 1-2-1-4-4 0 0 3-2 0 0-3-7-1 2-3-5-3-3 0-1 2-6 0 0 8 2 1zm13 186 0-3-4-2-1 1 0 2 4 3zm-2 -213-2-2-4 0 0 2 4 2zm-4 36-1-2-5 0 1 2 2 2 2-1zm-23 -1-3 5-2 0-3 5-2 0-2 3 2 1 5-1 2-2 1-4 6 5 0 2 3 9 4-1 1-4-3-2 3-2 1 0 0 4 3 2 2-1-1-2 1-2 1-3-1-3-3-1 0-4-2-4-2-1-1-2-11-1zm11 12-6-1 5-2 1 0zm6 -49-5 2 3 6 3-2 0-4zm-7 -19 3-4-5 0 1 4zm-72 19-5 3 3 7 4-4 1 0 3-4-4-4 1-1 5 0 4 4 5-1-1-3 2-1-1 8-5 1-1 1 4 3 1 4-2 1 2 3-2 2 4 3 1 8-5 3-3 0-1 4 0 1-4 6 6 2 0 4 3 1 4-2 3 4 3-4 1-5 3 4 3 0-1-8 2-3-7-4 3-8 2-1 6 1 5 0 3-1 6 1 1 2 9 2 0 2 11-1-2-9-3-1-6 7-3-5 1-6 7 2 2-8-1-2-3 4-4-4-2 0-2 4-2 1-5-9-1 0 0-5-3-4 4-1 2-1-1-8-1-2 1-1 2-8-3-3-4 4-5-4 5 12-1 1 0 6-7 2-1 3 1 1 6 0 0 3 0 6-3 8-7 0 1-6-4-4-1 0-5 3-3 0-1-1 1-1-1-4 3 1 3-3 3 4 3-4 1-5-2-4-4 1-2-9-9-8 4-1-5-8-3 3 0 4-10 6 4 12-6 1-1-2-6 7 9 3zm18 -5 3-6 1-1 4 3-1 3-2 0-2 3zm0 -2-4 1-1-1 2-2zm-2 16 4-1-1 3zm5 2 2-1 0 2zm43 -11 3 0 0-3 1-1 2 3 1-1-1-4-2-1-2-1-4 2 0 3-3 1-3-1-1 8 1 1 4-4 2 0zm-6 -21 5 2 1-5-2-3-6 1zm-27 75-1 1 0 4-2 6 6 4 3-1 0 4 3 3 3-3 1-6 3-2 5 3 5-3 2 1 3-2 0-5-3-2-1 1-6-1-1 1 1 2-4 4-4-5-3 2 0 5-3 0-1-3 1-2 0-3 7-5-4-3-1-4 11-4-1-1-13 0 1 4-3 2-1 7zm28 13-3 1 4 2zm-7 2 0 2 2 1 1-4zm-16 185-1 4 3 1-2-6-1 0zm-12 11 1 2 4-1 0 2 4 0 1 2 3-4-2-1 3-4-3 0-2 3-7-1zm5 18 1 3 0 1 2 3-5 2 10-1 0-3-4-5-1-2-5 2zm0 -303 5-1 2-5-3-2-6 1zm-15 101 2 4 8-1 3-5 7 2 0-2-4-2 1-5-8-4 2-2-1-8-5 0-3-2-4 8-2 1 0 2-1 12zm15 188-1 1-2-1-2 1-3-2-1 1-1 2 3 3 5-1 1-2 1 2 3-1 1-2zm-11 -2 0-3 3 0 1-5-2 0-3 4 1 1-3 0-2 2 3 2zm-118 -297 2 6-2 3 1 3-1 4 2 6 9-5 3 2-3 5 1 3 9 2 2-1 2 1 4-1 7 6-2 4-7-2-1 4 0 3-2 2 1 6 4 0 4 2 2-3-1-7 1-1 6 3 4-6 2 2 0 2 4 3 4 0 1 5-3 3-3-1-3 3 3 4 0 2 2 2 5-5 2 4-6 3 4 3 5-3 1 2 0 4 2 1-2 3 1 2 0 3-2-1-2 1-4 0-1-1 4-4-1-3-6 0-2 4 3 3-5-1-2 3 4 3-1 5-3 3 4 4 6 0 1-2-5-2 0-1 2-2 4 4 5-3 11 3 1 4 1 0 4-2-2-5 4-1 3 3 1 1-5 2-2 6 3 2 4 0 1 1 5 1-5 4-1 2 2 3 11 0 1-5-4-6 2-8 3-1 1-4 2 0 2 0 5-5-1-6-12 2-3 6-4-3 4-6 0-3-2-2-5-10-3 7-7-4 5-4 6 1 3-2 3 1 3-7-4-6-3 0-2 1-8-2 1-6 2-3-1-3 0-6-11-2 3-7-5-2-2-3 1-5 5-3-1-2-8-3-2-3-4-1-1 8-7 0 2 7-2 3 6 5-1 5 7 3-4 7-5-2-1-8-8-2-2-5 0-13 2-5-1-8-4-1 1-5 1-1-4-3-1 0 1 2-2 0-1 2 0 4 3 1-2 4 5 9-11 0-4 4-5 3-6-6 2-4 4-1 0-2-3-6 1-2-1-5-1 2-6-3-2 0-1 2-2 1-3-3-5 3 3 4 4-3 2 4-6-1-3 4zm79 84-3 4-2-3 3-3zm-9 4-4-1 3-3 1 2zm-61 -90 3 0-2 8-4-2 0-4zm2 18-5-4 5-5 1 1zm86 47 2 12 5 0 1-7-5-5zm8 -9-5-6-2 8 5 0zm-13 -67 2 2 3-1 5 0 1-1-3-2-5 0-2-3-2-1zm-39 116-3 4-2-3 2-3-1-3-2 0-1 5-2 2 3 4 2 0 1 4 3 1 1 4 2 0 1 3 3 1 5 1-3 3 2 3 1 0 2-1 0-1-2-4 1-1 2 0 1 2-1 2 4 3 1-2-2-3 2-1 1 2 4-2 1 3 3 3-5-1-1 4 2 0 4-3 4 0 2-7-4-1-5 1-1-2-5 0-1 0 1-3-4-1-2 1-2 1-1-5 4-1-1-4 4 0 0 2 3 1 3-1 1-1-2-6-6-2-7-7-2 5-3 2-3-2-3 3zm5 9-4 1 0-4 2-4 2 1-1 3zm24 -109 5-5-1-3-6 5zm-25 132 1 2-1 5 3 2 4-1 3-2-2-4 3-1 0 4 4-2 0 2 3 1 3 2 3-1 1 2 2-4-2 0-1 1-4-5-4 0-2-2 2-3-1-1-1-1-5 2 0 1-2 1-4-3-1 2zm19 -137 3 2 3-5-3-1zm2 148-4-1-1 2 2 3 3-1 1-1zm-13 -1 5 2 1-5-2-1zm-9 -157 4 5 3-1 2-10 1 0 4-6-4-1-3 3-4 7-5 2zm9 180-3 4 0 2 4 1 2-4-1-3zm-5 -19-1 2 2 4 5 0 0-3-2-3zm-55 18 2 4-3 2 2 4 4-3 0-2 1-2 3 1-1 1 1 5 3-2 0-2 3 0-1 2-2 6 10-6 1 1 4 3 0 1-7 0-3 2 1 4 3 1 2-1 4 2 1-6 2 1 3-4 3-1 3 1 0 5-2 0-3 4 0 2-1 1-4 2 2 4 4 2-1 2 4 3 2-2 0-5 7-4-1-2-3-1-3-6 3-2 3-1 0-2 2-1 1-3 3 1 2-2-1-1 4-2-1-3-4 0 0-2 6 1-5-4 1-4-5-4-5 0-2-5-4 4 2 1-1 5 4 3-2 3 1 3 4-1 0 1 5 2-3 3-3-1-1 4-3-3-3 0-2 2-2-2-2 1-1-4 3 0 0-3 4-3-1-5-6 4-2-2 2-3 2-1 0-5-2 0-3 2-2-1 1-2 2 1 1-3 6-1 0-2-4-4-2 2-3 0 0-2 4-1-2-3-2-1-2 2-3 2 0 4-2 1 0 3-4 4-2 3 2 3 3 3 0 1-4 0-1 3-3 1-2-2-2 0-1-1-1-2-1-2-4 4zm42 23-3 2-2-2 1-1zm-18 -20 3-1 1 1-1 3-2 1zm26 16-4 5 3 1 3-2-2-8 4 1-1-2-3 1zm-8 -58 2-2 3-8-8-5-2 1-2 5-1 5 2 2zm0 -11 1 4-2 0zm3 -65-1-5-3 0 0 4zm-7 12 3 0 2-2-3-3-3 2zm0 244-3-2-2 3-4-1 2-5-6-4-1 2-3 0-2 3-1 0-1-6-6 3 1 7 2 1 2 5 2 0 2 6 2 3 2-1 1-9-3-1 0-3 1-1-1-2 3-3 0 1 3 5 0 4 2 1 3-1 1-2 3 1 0 1-3 3 4 3 3-3-1-3 2-1-3-5zm-3 -3 1 0 0-2-4 0zm-6 -235-7 4 1 3 4 1 3 5 2 1 3 0 0-6-1-7-4 0 0-4-3-2-5 3 0 1zm-34 -5-2 1-1 5-1 1 1 4 4 0 2 3-4 2-1-2-6 0 0 2 2 3 5-1 0 3-3 3 7 4 0 4-8-2-2-3-5 5 4 3 3-4 3 9 6-7 11 3 1 6 5-3 2-3-1-2 2 0 4 1 1 5 3 0 2 5 5-2 0-4-4-2-1-6-5-2-1-2 4-5-2-4-1 0-3 3-2 1 1 4-5 3-2-4 3-6 0-3-8 3-2-2 0-4 4-3-1-1 3-6-2-3-5 1-2-3-2 1zm7 6-5 1 0-1 0-3 3 0zm30 48-5-4-3 2 3 6 3 1zm-6 85 3-3-3-3-2 1zm2 11-1 0-2 0-3 6 2 2 4-1zm-1 -222-7 3 0 3 5 5 3-4zm-6 70 5-4-2-2-6-1-1 2zm-45 62 1 4 4 1 5-5 1 1-1 2 7 6 5 0 1-1-6-5 3-2 4 5 0 1 3 8-3 1-1 4 0 2 2 2 2 5 1 0 5-3 2 1 2 0 2-2 1-5-8-1-3-2 5-4-2-3 5-1 4 3 2-2 1 5 3-1 0-5-4 1-6-5-5 4-3-4 1-3 5-8 2 2-6 7 6 1 6-4 4-8-2-2 0-6-3-1-6 4-1-4-7-5-1 2 2 8 4 2 0 1-7 4-2-5-4 0-5 2-1-5-5-1-6 1-1 2-7 5 2 3zm26 -4-3 2-1 1-1-1 0-3zm-20 1 8-4-5 5-2 0zm40 106-5 3 2 6 4-7zm-22 -46 5 3 0 2-3 1-2 0-2 3 0 2 4 2 2-1 5-1 0-2 3-2 1 1 1 2-5 2 1 2 3 2-1 3 3 2 0 1-1 4-3 3 0 2 2 2 1 0 2-4 2 3-1 1 1 5 2 0 3-5-3-2 3-8-2-2-3-8-2 0-1-2 5 0 1-2-5-3 2-2-6-3 0-1-4-1-3-3-3 1zm17 -191 2 0-3-5-1 1zm-1 249 1 3 1-5zm-4 106 4-4-9-3-2 3-1 5zm1 -288 1 0 2-7-2-1-8 7 2 4zm-34 -16-2 3 4 4 2 3 6 1 0-6-5-1-1-3 2-4 4 3 6-2 6 1 0 2-1 6 2 2 6-1 6 0 0-2-3-4 2-5-9-1 0-3-7-4-9 1-2 2-2-1-5 3-2 2zm23 201 4 8 4-1 0 3-3 5-3 0-1 2 2 6 6-5-1-1 2-6-1-5 3-1-6-2-1-2-4-2zm6 77 4 1 1-5-6-2-1 1zm4 -42 0-4-1 0-5 5 4 1zm0 -39-3-2-5 5 7-1zm-15 -2 6 1 2-3-3-3-2 0zm2 52 6-2-1-6-2-2-4 0-2 6zm2 -175 3-1-3-7-2 4 0 2zm-25 78-1 1-6 3 4 4-1 5 7-2-1 5 1 3-4 2-3-6-4 5 2 2 3 2 1 2 2 1 2 4-2 3 2 5 3 2-6 2 3 4 3-4 1 3-4 2 3 7-4 6 2 1 4 2 3-1-3-8 3-3 1 3 0 6-1 1 2 3-5 2 1 1 2 3-1 2-3 0 0-2 1-1-3-3-4 1 0 2 1 2 0 4 4 0 2 2 3 1 2-2 1 0 5 1 0-1 3-4-1-2 1-1 2 4 3-1-3-5 4-3-1-2 1-4-3 0-1-2 1-1 1-4-11 0-1-2-3-1 1-3 3 3 4-5 0-3-2-1-3-5-8-4 4-3 2-1 3 3 5-3-3 7 5 2 6-5 0-1-3-7-6-2-2-5 4-4 1-5-2-2-6 0 2-4-3-4-4 2-2-4-8 1zm23 57-2 2-2-1-1-2zm-17 -17 2-2 3 0 0 2-2 1zm7 32-1-1 1-2 0-2 4 0-1 5zm-7 -53 2-6 2 3zm11 83 1 4 3 2-6 2 0 2-2 3 2 4 3-2 0-3 3-1 0 6 5-3-4-8 2-3-3-7zm3 61-7 1 0 2 5 6 2 0 5-5zm-13 13-2 0-3 2 0 3 0 6 7 5 1-2 4-4 0-3 6-3-1-3-4 5zm13 -192-1-4-6 0-1 3 2 2 4-1-2 2 1 4 2 1zm-11 150 1 5-2 8 3 9 7-9 0-3-7-4 2-3 4-1 2-2-3-2-3 1-2-2-2 0zm5 -174 2 1 3-1-1-3-3-1zm0 -91 1-6-2-2-3 3-1 4-1 0 0 5 3 0 1-3zm-5 -74 1 0 4-4-6-1-1 1zm0 158 0 2 3 5 1-4 0-2zm-15 -68 0-4-3-1-2 3-3 1 0 1 0 5 2 1 3-1 3 2-3 6 8-3-2-5 3-1 2 2 4-2-2-4 1 0 1-5 1 0 1 4 2 2 2-2 1-4-4-1-2 0 0-3-4-3-5 0-1 3-1-1-5 2-1-2-1-1-6 3 1 1 5 2 2 0 0-2 6 0 1-1 2 1 1-1 2 3-2 2 0 2-4-1-2 1 0 3-3 0zm7 31 6-1 6-2-2-2-6-2-1 0zm7 279-5 1 2 5 3 0 3-2zm-12 -394 1 1 6-4 2 6-7-1 0 2 2 4 5 1 1-4 1 0 3-6-1-2-1 1-4-2 0-6-1-2-6-2-2 3-5-2-4 6 3 2 6-5zm14 90-3-1-3 4 6 2zm-2 -59-1-4-2-3-2 1-2 3 0 1-1 5 3 1zm-1 387-5 0 1 3-3 1 3 1zm-7 -250 3 3 2-1 1-4-2-1-4 1zm-5 -30 2 8 4 5 1 0 3-1 0-3-1-2-4 0 1-4-3-4-2 0-3-3-7-1-2 5 6 6zm5 143-7-5-2 1-1 6 1 4 5-4 4 1 2 2 3-5-3-2-1 0zm-5 -267 7 2 3-1 0-3-5-4-1 2-3 1zm1 340 5-2 1-3-1-4-1-1-6 2-1 5-4-1-3 3 3 4 6 0zm-2 43 1 1 5-1 1-2-1-6-10-2-1 2 1 1-3 6 1 0 5-2-1-2 6-1-2 1zm-3 -274 10-8-3-2-10 0zm-18 202 3 1 4-2 3 5 5 1 2-4 2 0 2 3-2 3 1 2 1 1 3 0 1-3-2-3 4-2 0-2-5-2-2 1-1-4-2-1-2 0 0 5-8-1-3-4 0-7-3-2-3 2-2 4 2 4 0 3zm26 -7-2-4-2 0-1 3 0 1 5 2zm-6 -272 2 5 3-1 1-5zm0 128 0 5 5 0 0-6-3-3-1-1 2-3-2-4-5 3 0 1 2 4 0 3zm-2 -28-5 4 3 8 1 1 6-4-2-7zm-6 38 2 1 1 4 5-5-2-3-4-1-2 2zm6 219 1-1-2-5-4 4zm0 -392 1-1-2-5-4 1-2 2 1 4zm-14 42-1 2 0 1 4 5 3 1 0 4 2 1 3 2 2-1 2-3-3-1-1-3 2-4-4-2-1 1-3-1-1-2 2-1 0-1-4-3 1-1 4 0-1-5-4-2-1-3-5-4 5-4-1-2-4-1-3 4 1 3-2 1-1 6 1 1 0 2 3 2 1 3 4 2zm13 368-1-1-3 0 0 2 2 1zm-1 -222-3 0-1 1-4 11 1 2 2 0 6-12zm1 -183-3-2-4 4 1 2 3 1zm-6 399 5 0 0-5-3 1zm-9 -39 4 1 0 4 2 1 3-1 4-6-8 1 0-7-4 1-4-3-3 2-2-2-2 1-1 1 3 6 1 0 2-4 4 2zm6 45-2 0-2 3 3 3 3-6 3 1 0-2-1-1zm-19 -9 1 5 0 1 6 1 5-3-2-3 3-3 0 2 3 1 5-3 2-4 0-2 1-3-1-2-3 0-2 4-3 2-2-3 0-4-3-2 3-2-4-3-1 4-4 1 1 4 7 2-3 3-3 0-2 4-3-3-6 2 0 1 3 2zm9 1-3 3-2-1 2-4zm10 -184-1 1 0 5 1 2 3-1 2-3zm2 22 2-3-1-3-3 0-3 2zm-7 -46 0 4 4 1 2-8-3 0-3-4 3-2 6 1-1-5-3-2-3 1-4-2 0-1-8 1 4 11zm8 -109-2-2-2 0-3 4-4 0-4 2 8 8 3-2 1-4 3-1zm-2 -118-5-4-1 0-2 5 3 5 4-2zm-7 409 1 4 3 0 1-3-4-1 0-2 2-4-3-2-3 2 2 3-2 1 0 5zm-5 -298 8 2 0-1-1-5-5 0-1-5-1 0-6 7 0 1-3 8 4 6 4-2zm-1 -24 4 1 2-4 0-2-6 1-1 2zm2 -95 1 1-2-4zm-4 201 5-3-4-6-2 2 0 2zm1 -193-2 5 3 3 2-5-1-2zm3 250-4-3-4 4 0 3 6 0zm-7 56 4 1 1-4-5-2zm-21 -269 5 3 2-3 4 2 1 2-5 1 0 4 3 2 5-8 4-2 3 2 2-3-1-4-4 2-2-1-1 0-3-1-2-3-3 1-1 6-6-5-4 2zm22 -49-2 0-3 7 2 2 4-3 0-3zm-4 110 5-3-6-3-2-2 3-3 2 0 2-1-3-9-1-1-5 5 2 3-3 4 2 2-6 4 5 5 1-1zm-6 308 0 3 3 3 2-3 3 5 1-1 2-4-1-1-1-4-3 0-2 2-2-1 2-4-5-2-4 6 2 2zm6 -349 3-4-1-2-1-1-2 1-2-3-3 4 3 1 1 3-2 3 1 3 2 2 3-1zm-1 277-2 5 1 1 3-2 1-4zm1 -334-3-6-1 0-2 2-3 1-1 3 1 1 5-1 2 2zm-8 1-1 3 5 2 1-4zm0 379 2 6 3-1 0-6-4 0zm-5 -321 1 4 3 0 4-4-3-2-3 0zm1 -82 5 0 0-4-2-1-4 4zm4 433-4 1-1 1 4 5 2-5zm-1 -405-3 0 2-2-1-3-3-4-5 2 0 3 5 0 0 5 2 4 2 1 3-2zm-10 422 3 5 7-4 0-1-4-3-6 1zm10 -321-11-5-2 5 4 4 7 0 2-2zm-2 357-9 5 2 4 3 3 1 0 1-7 3-3zm-4 -46-1-4-4 0 0 5 3 1-1 2 4 1 4-2 0-1zm-2 -375 0 6 2 1 3-7zm-5 269 2 0 3-2 0 4 2 1 2-2 1-5-3-1-2 1-4-1zm6 -297 1-3-1-3-4-1-2 7-1 1-1 5 5 2 6-4 0-3zm-7 174 3 2 5-1 0-4-6-4zm6 -195-2-9-4-1-2 3-2 0-1 6 9 3zm-4 -5-1 2-2 1 0-3zm-2 406-4 0 5 5 0-4 2-1 2-3-1-1-4-1zm-14 -352-6 6 3 3 4 0 2-3-2-6 6-2 2-4 6-2-1-5-3-6-8 3 1 5-9 5 1 2zm12 21-8 3 1 1 5 3 4-3 0-3zm-3 -62 4-1 1-3-2-1-5 1zm4 219-4-7-4-1-2 1 0 5zm-1 -125-1-3-10-2-2-3-7 3-1 3 1 1 6 0-1 5 4 1 2-2 7-1zm-6 -82 6 0 0-8-2 0-6 3zm3 -45 2-1 0-1-2-1-2 2zm1 214-6-1 1 6 5-2zm-14 -206 4 7 1 0-2 5 4 2 2-1 1-3-2-3 0-4-3-2 5 0-3-5-5-1-4 4zm-1 381 1 2 2 0 3-3-4-3zm-4 -207 7 1 1-1 0-14-4-1-4 2-4 7zm7 187 1-3-1-1-2-1-2 3 0 1zm-4 -289-1 0-3 3-1 4 8 7 1-6-3-1zm-5 426 3 4 2-1 2-4-5-1zm-4 -387 6 1 1-2-4-6-1 1zm-1 -22 2 3 6-1-5-3zm-2 -92-5 8 5 3 2 0 3-6 0-2 4-2-6-3zm4 344 0 5 5-1-2-4zm-7 -300-1 2 5 7 4-1 4-4-4-5-1-5-8 0-1 1zm7 90 2-2 0-3-8-7-3 7 6 5zm2 96-1-4-5-3-1 7 3 3zm-8 247 7-6 0-3-11 1 0 2zm5 -415-3-1-2 5 2 5 5-6zm-15 122 1 1 4-4 5 1 1 4 2-1 1-7-3-2 5-5-3-3-1-3-7 2 2 4-5-1 1-3-4-3-1 1-3 5 0 8 3 1zm7 311 8-5-6-4-3 3 0 6zm-37 -442 11-4 4-6-6-5 7-5 2 1 4 1 2 5 6 1 5-2-2-9 6-1-4-8 1-2-6 1-2 2 2 3 1 4-5 0-3 3-3-6-2-1 1-3-5-8-2 6 1 3 2 3 0 2-7 2-3-2-6 2 5 9-4 3-6-3-5 1-1 10 1 2zm29 -36 7 0-1-8-7 5zm-3 48-2 1 0 5 6-2 0-2 5 0-1-7-5-3 0-3 2-4-7-2-4-4-1 0-5 15 1 4 8-3 1 0zm4 17 0 1 2 0 3-4 0-1-2-1zm-2 395 1 3 4-1-1-6-2-1-5 4zm-3 -369 2 9 3-1 3-6-5-3 1-4-3-1-3 3-1 1zm-1 196 3 0 5-5-2-7-4 0zm1 -79-3 5 0 2 3 0 5-4-1-2zm-3 169 6-2-5-2-2 2zm-3 -391 9-2-1-3-5-3-2 1zm7 393-4-1-2 3 2 3 5-1zm-1 -303-3 1-1 2 6 3 0-5zm-6 237 4 5 3 0 1-2-3-5zm6 202-6 1-7 4-1 7 1 1 4 0 10-8zm-7 -343 4 1 4-5-2-1-4 0-2-3 3 0 1-5-2-1-1 0-2 5-2 1-1 5 4 2zm-4 278 2 3 5-1-2-4 4-1 1-5-4 0-2 6zm-1 -163 4-1 3 2 4-1-4-9-6-1-2 1 0 2zm8 78-5 4 0 1 3 1 3-1 1-3zm-2 -68-3-1-3 3 0 4 2 1 3 4 4-4-1-1-4 0zm-7 -202 2 0 2-4 4 0 1-2-3-4 0-1-3-3-1 1-6 0-1 0 5 5-2 2zm3 339-4 4 2 2 4-4zm-5 -260 4 6 1 0 2-7-6-1zm5 319-4 3 1 2 3 2 1 0zm-7 -125 3 2 5-2-1-2-6-2zm7 88-3-4-3-1-4 3 4 5 5 2zm-7 -397 2 4 5-2-3-5zm-1 101 0-2-4 0-1 2 3 5 2 1 7-3 0-2-4-1zm5 38-4 1-1 3-2 2 0 3 5-1 1 0 3-4zm-15 266 8 3 0-5-2-1zm1 -307 5-1 2-2-2-2-8 2zm-6 22 4-4 2 1 5-3 2-8-5 0-1 3-4-1-2 2 3 3 0 2-4-1-2 1zm0 -129-10 5-1 3 3 4-2 1-4 7 1 1 11-4 2-3 6 4 5-2 1-3-6-13-2 2zm-43 -60 6 5 2-2 2-4 1 5 4 2 0-4-4-4 4-3 1 7 3-1-1 5 2 2 2 0 3-5-2-1-1-4 3-1 3 3 1 1 0 3-3 3-2 0-2 4 3 3 2-1 2 6 4-5 2-7 6 0-2-3-4-1-2-10 5-3 2 1-2 4 3 4 4-1 2 4-3 3 1 1 6 4 3 0-2-5 0-2-2-2 1-2-5-2 5-9-6-2-2-3 3-3-6-2-10 4-3-3-5 0-4-2 0 5-1 3 4 6-4 2-1-1-8-2 0-1-6-1-1 8-1 1-6-5-2 1 3 8 2 2zm30 -10-2-4 2-2 3 2 0 2zm7 157 5-5-4-2 0-9 2 7 3 2 4 0 0-8 2 8-4 6 1 1 4 1 3-5-2-3 1-1 0-4-3-3 3-5-7-1-3 4-3-1-8 4 0 4 3 2zm2 -41 6 3 2-1 1-8 1 0 1-7-2 0-2 2-5-1 0 2-5 1 3 7 3-6 3 2zm-17 99 0 1 0 7 2 2 1 3 1 1 4 0 0-4 2 0 1 2 2 1 4-5-2-2-6 0 0-1 4-3 1 1 5-1 4 2-1 2 3 1 1 1 1-4-3-1 1-3-3-3-7 2-2 1-3-3 3-3 1-2-2-2-4 2 1 5-4 1 2 7-3 2zm16 296 5 5-1 2 0 4 6-1 1-2-1-4-3 0 0-3zm5 -31-2 1-1 5 1 1 6-4-2-3zm0 17-8 9 0 2 4 2 1-2 5 1-1-11zm-24 -263-3 0-2 4 6 2 3-2 5 3 7 1 4 8 2-1 1-3-1-6-2-2 3-2 1-2-4-2-3 4-2-1-5 2-1-3-4 0-1-2-2 0zm24 298-1-1-7 2-1 4 9 6zm-3 -192 3-2-1-4-2-4-6 0 0 5 2 2 0 1zm-4 -154 4 4 3-2-4-5zm2 25 2 1 2-4-3-1zm-3 -45 4 1 0-4-4-1-2 3zm-5 350 3-5-2-3-4 3-3 3 4 3 2 8 7 0 2-1-2-7-3 0zm1 -105-1 3 3 3 4-2zm4 -253 1-1-2-4-4-1-2 1 0 2zm-14 100 8 1 5-2 0-1-4-7-8-1-2 2zm4 -73 6 1 2-1-4-4-3 1zm-1 -126-6-2-7 8 7 0 0 6 4-2 2 3 8-7-7-4zm7 55-2 1-3 3 3 3 3-3zm-3 364-9-3-1 5 8 11 3-9zm-28 -292-2 4 8 3 3 4 1 3 3 2-3 3 2 3 2-1 2-5 1-1 3 2 4 0 1-6-3-2 0-4 6 2 1-4-4-3-2 1-2 2-3-2 3-7-2-3-7-2-2 2 1 6 2 3-1 4-5 3-1-7zm14 319 1 3 3 0 5 4 3-15-12 5-4-1-2 4 2 2zm4 -229-5 1 3-6-2-3 7 1-1-5-9 2-7 6 5 5-4 9 2 2 5 0 3-4 4 0 2-1-2-6 2 0 5-6-1-1-4-1-3 2zm-5 152 5-3-1-6 7-2 1-5-5-1-5 6-4-2-7 3 1 5 4 1 2 3zm11 -186-3-1-4 3 2 2zm-5 -158-4 6 4 1 3-4 1-2zm-1 247-2 3 1 3 5-3zm3 -305-3-4-1 0-2 1-2 3 0 2 2 2zm-2 145 2-2-1-2-1-1-3 1-1 3zm-8 54 2 0 3-3 2-1-2-5-2 1-2-2-2-1-1-3-3-1-1 7 3 0 1 2 3 1-1 3zm1 -118 3 3 2-1-2-5zm-5 204 7 0 2-3-2-5-1-1-3 6-3-7-2 7 1 2zm0 -191 2 0 1 3 3 2-2 2 0 5 4-2 1-2-2-3 0-4-2-2 2-1-2-3 3-2-1-2-5-1-3 3 0 2-2 2zm6 380 0-4-4 0-1 3zm-6 -331 7-4-2-3-3-1-2 1-2 4zm5 -21-3-1-4 2 4 3 1 1 2-2zm-1 88 0-3-4-1 0 5 3 0zm0 203 0-7-6 0-1 4-3 3 0-9-2 0-3 7 4 3 0 4 5 1 4-3zm-28 -339 0 3 4 1 1 1 7-5 1 0 1-3 3-1 1 4 4-2 1-2 1-3-3-4 7-4-6-6 0-1-7-10-1 0 0 8 2 4 5-1 0 10-3 0-5-4-3 1-1 4 0 3-1 2-6 0-1-1-5 2 0 4zm27 392 0-7-4 2-4-1-1 3 0 3 2 2 5 0zm-6 -116 0 4 3 2 3-2 0-6zm3 -150 2-2-1-4-4 1-1 2 1 1zm-2 -101-3-1-1 1 3 5 2-2zm0 133 1-3-3-1-3 2 1 2zm-13 -60-3-4-4-1 0 3-1 2 1 3 2-1 3 3 2-1 3 1 0 2 2 1 8-5 0-6-4 1-6-6-1 1 0 5zm5 -71-2 5 4 1 4-2-3-6zm-8 161 11 2 2-3-4-4-9 3zm8 -127-1 1 4 2 2 0 0-4zm-1 -59-3 6 1 1 1 3 3 2 3-2-3-4 1-2zm2 73-4 3 0 1 2 3 3-5zm1 43-4-3-1 2 3 5 1-1zm-4 -181-2-5-3 0 0 5-2 3 0 2 9 0 1-3zm3 299-1-1-2 1-2 4 3 4zm-3 -83 3-2-1-4-5-2 1-2 0-2-3-1 0-2-2 0-3 2 0 2 1 1 2-1 3 3-1 4 2 1 0 2zm-1 76-3 5 1 0 5-2zm-18 -159 0 2-2 2 0 4-2 2 1 2 5 2 2-5 2-1-1-3 2-2 1 5 3-1 3-4 1 1 6-3-3-4-3 1-1-2 0-4-3-1-7 7-2-1zm10 337 1 1 9-1 0-1 0-2-7-3-1 0zm10 -152-2-9-7 2-1 5 4 7zm-19 -332-4 0-4 5 0 1 6 0 5-3 2 4 3-1 5 3 1-5-4 0-1-3 6 3 3-3-1-6-4-1-1-2-1-4-2-5-5 10-3 2 3 4 0 3-1 1zm17 249-1-15-6 1-1-1 1-2 1-5-4-4-1 0-4 4 2 7-4 2 1 6 8-1zm-6 -118 1 1 2 0 1-3-2-3zm-25 29 2 5 4 2 1 0 1 2 1 9-5 2 1 4-6 11 1 1 6 1 5-4 3 0 3-3 0-3 4-1 2 4 1 0 4-2-8-7 0-1-5-3 3-1 2-7-2-1 0-1 7-3-5-3-2 2-2-2-3 2-4-1-1 1-4-4 1-1-1-5-4 0zm17 9-3 6-1-2zm-1 17-5 1-1 0 4-5 2 1zm3 329 3 2 1-2 4 0-1-6-4 3 3-4-3-3-2 1-2 7-3 2 1 3 1 0zm2 -306 4 1 2-3-3-4-4 4zm-9 -237 11 3 4-6-2-3-4 4-5 0-5-3-1 0zm10 62 4-1-4-7-2-1-3 5 0 2zm1 239-7 13 5 2 3-14zm-2 -62-2 1 2 5 3-3 0-2zm-3 -77 2 3 3-2-3-3zm-2 -71 0 5 4 1 2-3-1-4zm-3 -13 0 8 6-2 2-1-7-5zm1 143 1 8 3-2 2-5zm-2 20 1 5 5-1 0-5-5-1zm-1 -104 4 3 3-1 0-6-1-2 1-1 0-2-3-1-1 4-1 1 2 3-2-2-3 1zm-3 336-3 4 12 6 1-1-7-10 0-5 2-3 1-3-1-3-7-1-2 0-2-1-4 1 0 2 4 2-1 2-2 0 0 4 1 1 2 0 1 3zm3 -302 4 1 1-4-2-1-3 1zm-1 -117-1-3 3 1 3 0 1-3-1-1-4 0-5 2-2 4 4 2zm5 61-1-8-4 0-2 3 0 4 1 1 4 1zm-4 -61-1 5 5-4zm-9 196 8 1 3-4-9-7-5 2zm3 -97 0 10 6-6-2-3 3-2-1-2-1 0 2-4-3-2-2-1-2 3-2 1-1 1zm5 179-5-4-3 6zm-2 -199 1-3-2-2-3 0 0 4zm-4 344-4 7 2 2 5-2-2-7zm-8 -399 2-1 2 0 5-5-3-2-6 1 0 3-3 2zm6 -39 2-3-5-3-1 1zm-4 -15-2-3-5 2-1 2 0 1 2 2 4-1zm-8 382 6-2-2-7-5-5-5 7 1 4zm5 83-6 5 1 2 6-3zm-6 -422 3 2 2-7 2 0-3-5-2 4 2 1-3 1zm1 478 4 2 1-4-2-1-5-6-3 4 2 4zm-1 -170 3-4-1-3-4-2-6 1-1 2 2 8zm-13 -213-3 4 3 2 5-6 2 5-2 3-4 1 0 2 2 3 0 6 4 5 3-3 1-8 2-2-1-7 4-2-1-5-2-1-2-4 3-1 0-4-4-3-3 2 2 3 1 2-6 5-6-2-1 4zm11 387-4 0-1 3 3 4 4-3 1 0 0-3zm-23 -467 5-4 3 1-2 3 1 3-2 4 6 1-1 3-1 1-2-1-3 3-6 1-2 3-1 1-1 5 3 1 0 3-5-3-2 1 0 4 2 3 4-2 2 2 0 1-2 2 1 3 2-1 2 2 5 2 0 1-2 2-4-1-1 2 1 3-4 3 0 2 4 1 3-3-1-2 2-3 2 3 2 0 1-5 2 0 6 2 1-3 4 0 3-2-2-2-4 0 0-7-2-5-3 0-1 3-2 0-2 2 1 4 2-1 3 1-1 3-4-3-2 1-1-1-4 0 0-2-1-1 1-2-1-6 2-4 3 0 1-1-2-4 4-2 3 1 2-1 0-7 4-2-2-3-6 0 1-5-3-1 3-9-6 1 1 4-2 0-2-2-5-2-4 9 3 2zm19 207 0 5 3-1 3-6-4 1zm-15 200 6 0 0-8 1-1 5 2-2 2 3 4 6-3 0-2-7-1 4-9-1 0-1-4-1 0 0-3-3-2-2 0 1 5-4 2-1 1 0 2-2 3 2 4-3 4-2-3-2-1-2 5zm15 -429-1-4-1 0-4 3 3 3 0 3 0 2 6-1 0-4-1-1zm-5 10 3 6 5-4 0-1-6-3zm6 -43-1-1-5 1 0 1 6 3zm-4 16 2 0 1-5-2-3-3 1zm-2 -42-5 0-2 10 9-9zm1 559-1 1-2 3 3 0 1-3zm-23 -411 4 2-4 6-2 5 2 3 10-3 0-2 2-4 5 0 2-2 0-3-2-3 6-1-2-8 1-3-5-1 0 2 0 2 0 1-4-2 0 2 2 3 2 0 1 1-1 3-3-3-3-1-4 3-1-2-2 1 0 2zm22 308 0-7-5 1 3 7zm-11 -394 6 4 3-3-1-3-7 0zm-9 -29 16 2 2-6-1-2-7-2 0 2-10 3-1 2zm17 292-1-3-3 0 2 5zm-7 -29 1 1 3-1 1-5-2-1zm-37 -288 7 2 1-1 9 1 2-2 6 3-3 7 1 2 2 0 2-7 1 1 2 3 2 1 7-4 1-2-3-8-5-5 2-2 5 3 2-1 1-5-5 0-10-3 0-3-9 1 0 1 7 5-1 3-7-4 0-2-2-1-2 0-1 3-3 1 0 1-4 2 2 6-6-1zm10 -5 0-5 3 0 1 2zm25 273 1 2 1 1 4-2 0-2-3 0zm-7 46-3 7 3 0 4 0 0 4 2 3 5-4-6-4 1-2-3-3zm0 154 8-1-1-5-6-2zm7 -231-4-2-2 6 4 0zm-9 -201-1 11 1 1 8-5 0-7zm5 510-7-2-1 3 7 5 2-5zm-9 -290 6 2 3-9-1 0-9-1zm-9 -38 5 1 6 3 2-4-8-10-1 7-5-1zm-9 -146 1 5 3 1-1 5 1 1 3 1 2 2 4-3 4 2 3 0 1-1-2-4-5 0 0-1 4-5 0-2-7-2-2 6-4 0 0-9zm-5 169 4 6 4-1 4-3 7 3 5-11-1-1-8-1-2-1-3-2-4 2zm20 -221-5-1-2 4 6 7 4-6zm-5 128 0 6 3 0 2-4 0-1-3-2zm-1 -21-1 4 2 1 0 4 2 1 3-3-2-4 0-2-2-2zm4 61-2-7-4-1-4 4-3 5-8-1 0-2 1-6 3-4 0-4 0-2-6-6-7 6 3 3 2 4-3 5-4 2 8 6-2 4 9 8 4-1 1-8 10 2zm-9 -74 7 2 0-3-2-5 3-3-2-2-3 0-3 1 0 3 1 2zm-15 431 2 3 0 4 1 1 4 0 2-3 5 2 1 0 6 0 1-1-4-5 2-1 0-6-1-2-2 1-3-2-4 2 0 4 3 3-3 2-2-1 0-3-3-2-2 1zm19 -529 2-2-1-4-2-2-5 2 0 1 2 3zm-66 1 2 0 2 7 2 1 1-1 4-1 5 3 4-1 0-5 2-1 1 4 2 0 2 2 2 1 1 3 0 1 5 6 1-6-1-1 0-3 4 0 1-5 8 0-4-4 1-2 3 1 2-3-2-3 2-3-1-3-3-1-1-1 2-3 2 0 2 0 0-3-3-3 0-4 1-1 7 1 1-3 4-1 1 0 3-3-1-3 2-3-3 0-4-2-2 2-2-3-4 1-2-1-1 3 3 1 1 4-4-1-5 1-2 0-3 4-3-1-7 6 2 4 3 1 0 4-4 0-2-2-2 0-1 5 5 3 3 0 2-2-1-4 5 2 1-6 3 2-1 2-3 2 0 2 4 4-1 2 1 3-1 1 1 4-3 1 1-5-3-3-6 8-2-3 0-4-2-1-4-5 1-3-4-1 2-3-4-2-2 3-1 3 5 3-2 2 1 2 6 3-2 3 1 2-2 2-4-5-3 1-1 4-4-1 4-3-2-3-1-7-4 2 5 5-5 1 3 5-1 1-6-3 2-3-1-4-8 1 2 6zm55 152 6 2 3-5-6-2-2 0zm5 -48 3-4-1-2-5 4 2 2-2 2 1 4 1-1zm1 -21-5 3 0 3 6-2zm1 165-2-1-2 1 0 2 1 2zm-7 124 3 6 3 0 0-7zm-31 108-1 1-1 3 9 3 9-6 1 1 6-2 2-2 7 3 2-1 3-4-2-3-9 0 2-5 4 1 5-5-1-5-10 1-1 0-8 0 0 5-2 2-8 3 6 8zm36 7-5-5-2 4 4 3zm-4 -411-2 0 1 5 2 0 2-3zm-9 466-2 0 0 3 5 4 3 0 0-4 2-4-4-2zm-1 -437-1-1 1-3 2 0 0-5-3-1-1 4-4 1-1 1 5 3-6 3 0 1 2 1zm-2 469 3 2 1-6-2 2zm-1 -356 3 0 2-2-1-2-4-2-4 5zm-1 41-4 1 1 4 3 0 2 1 3-1 0-4-2-2 0-1-6-3-1 1zm-1 -296 6-4-4-3-1 1-3-3zm4 128 2-3-4-4-4 3 0 1zm1 476-3-3-3 0 0 4 2 1 2 0zm-6 -164 5 3 1-3-4-1zm1 12-2-1-3 3 1 3 4 6 1 1 3-2 1-4-5-3zm-12 -243 1 3 13 2-6-11-5-1zm14 339-4-2-5 4-2 5 4 5 2 0 5-4zm-9 -210 2-4 3-2-1-6-1-1-2 0-3-4-4 1-1 1 0 2 6 2-2 3 1 1-5 6 1 0zm0 277-3 2 1 2 4-3-1-1 3-5 0-2-4-2-1 1zm4 -549 0-6-1-3-3 0 0 8zm-3 232 3-2-1-3-1 0-3 0-1 3zm-9 -200 4 9 3-1 3-4 0-4zm9 354-4 5 2 2 1 0zm-20 37 6 5-3 7 2 3 9 0 5-11-2-2-1-6-13-1-3 1-3-2-9 9 7 4zm14 -432-1-5-4-2-1 1 0 7 2 1zm0 553-5-4-1 0-1 3 1 2 5 0zm-2 -257 1-2-3-2-3 1 4 4zm-1 71-2-1-2 3 0 4 5-2zm-7 26 2-3-4-5-2 4zm0 -154 1-1 0-4-1 0-3 4zm-1 112-3 0 0 1-1 6-5 0 0 5 5 0 1-4 5-1zm-6 -63-3 2 2 3 0 3 1 0 5-1 2-4 0-1-4 0zm3 79-1 1-3 4 1 3 2 2 4-1 1-3zm-9 -31 6 3 5-7-2-3-3 1-4 0zm3 73 7 1 0-6-3-2 0-3-2 0-6 3-1 1 5 2zm2 -100 1 0 4-6-1-2-4 1-3 5zm-2 -70 0 2 5 5 1-1 0-5-2-3-3 0zm-1 -290 3 0 2-4-2-3-3 1zm5 596-6 0 5 3zm-32 -53-2-7-2-1-2 2 3 2-1 6 7 0-1 6 3 3 0 3 4-3 1 0 7-14 2 2 11-5 0-1-10-2-2-5-6 5-2-3-3 0-9 5 7 7zm23 -526 7-1-3-4-4 2-3-4-5 5 0 3 7 1zm3 292-2 0-3 5 7 3 1-6zm3 67-3-3-3 6 3 2zm0 -268-7-4-10 8 4 6 8-1 3-3zm-5 315 3 2 2-4 0-1-3-2-2 1-1 2zm-7 134 4 0 2-1 5-7-2-5-5 0-6 11zm11 29-1-2-6 0-1-1-3 3 7 4zm-2 -536-2-7-1 0-4 5 2 2 4 1zm-5 405-1 4-2 1-1 4 2 1 3-2 3 0 1-1-4-7zm1 -467 2 0 1 0-2-3zm-3 307 4-2 0-1-4-3-2 1zm1 135-2-4-1-1-3 2 0 3 5 2zm-1 38-6 0 1 3 3 4 2-1zm-10 -23 3 2 3-4 2 1 2-2 0-2-4-1-1-3-2 0-2 5zm8 -131 1-1-1-2-2-1-3 1-5 7zm0 -278-1-6-2 0-2 4 0 2zm-2 421-5 2 5 5 1-1 0-6zm-4 119 0 4 4 3 0-1-3-3 2-3-4-7-1 2zm-4 -106-6 7 1 4 3 2 4-2 2-5 2-8zm-4 -64 3 4 2 1 3-3-2-3zm-9 -400 1 6 2 0 3-3 1-5 3 5 4-4 2-14-4-1 0-3-5 0-1-2-4 0-4 3 1 2 4 2 1 3 5 1 2 3-4 4-4 0 2 5zm2 213-6 1 0 6 6 5 5 0 2-7 5-3-4-4zm6 171-1-4-4-1 0 5zm-6 -150-4 1-3 3 0 4 6 4 2 0 4-4 1-2-2-3zm-4 39 6 1 1-2-5-5-3 1zm1 -80-4 6 1 7-2-1 2 3 4-2 5-6zm-2 98 2-3 1-1-3-4-3 2-2-1-2 0-1 4 0 3 3 3 1-2-1-3 2-1zm-7 -296 2-2 4 1 3-2 0-8-5 3-2 0-4-2-3 6 1 2zm3 403-5 4-4 0 6 7 2 4 5-3-1-4 2-3zm-4 -355 0 5 1 1 5 1 1-10-6-1zm-4 279 11-7-5-3-6 3zm1 29 3 3 5-4-3-1-1-4-3 1zm-11 -321 9 7 2-1 0-2 6-2-1-1 1-3 0-1-3-1-1 1 0 2-2 2-6 0 1-2 0-5-1-1-1-3 4-1-4-6 0-5-4-4-4 2 0 4-3 7 0 6 6 1 1-1 4 0-4 5zm4 17 2 8 6 1 2-1-1-3-4-4zm6 -65 3-4-4-1 0-2-3 3 1 2zm0 357-3-2-3 4 2 3 4-1zm-8 2 3-8-4 0-2 2zm0 132-8 8 3 2 4 0 4-4zm-2 -101 0-4-1-2-3 1 2 6 1 0zm-3 -36-3-2-3 1-2 3 5 7 0 2 1 0 3-2 0-3-1-1zm1 123-2-5-1-1-5 0-2 8 1 2 4 0zm-2 -82-3 3-3 1 0 2 2 1 3 0 2-6zm-7 15 0 7 1 2 7-3 0-5-2-3-2-1zm-1 -425 3-1 5 1 1-4-1-3-5 4-3 1zm-4 98 2 1 5 0 2 1 4-5-1 0-2-6-4 3 1 2zm11 284-1 0-1 2 3 0zm-10 -317 8-6 0-2-6-1-2-4-4 1-2 5 6 3zm-9 -48 5 3 2-5 4 4 2-1 0-4-5-3-1 4-6-2zm-13 71 4 7-9 8 0 3 3 2 6 0 5-3 1-7 1-1 6 4 4-3-1-3-5-5-6-1-2-1 0-5-3-1 2-4 3 4 2 1 5-1 1 1 6-2 1-10-2-2-5-1-4 6-1 3-4-1 2-3 1-11-7-9-7 6 1 5 1 0 9 1-6 9-1 0-2 1 1 9-1 1-3-8-2 1-2 6 3 5zm18 391 6-6-3-5-7 4-1 6zm3 -130-2 0-2 2 4 8 2-1 1-2zm-49 -328 0 2 4 2 2-2 1-2 7-3 2 1 2-1 4 4 8 1 3 6 0 3 1 1 7-2 1-3 5-4-8-3-1-3-1-6-5-2-3 0-2 2-4 0-3-5-5 2 0 2-6 2 1-3-2-1-1 1 2 3-4 0-4 3-3 0-2 2zm44 -23 1-4-1 0-1 3zm-30 127-8 2-1 0 5 9 5-9 0-2 1-2 0-4 3-10-3 0-10 4 7 5-6 0-2 3zm-39 -29-3 2 3 6 2-4 4-1 2 2-1 5 2 4-6 1 2 6 5-6 3-1 2 2 4 1-3 5 2 1 5 2 2-4-5-5 1-5 4 2 6-3 2-2 0-1 4-4-4-6-3 0-4 3-2-1-2-4 1-1-5-4-2 1-3 0-1-5-2-1-1 2-5-2-1 0 3-4-2-3-4 2-1 4 4 1-2 5-3 1 1 3 5 0 1-1-1-2 0-1 2 1 0 2 2 1-2 5-2-4-5 2zm21 -5-2 2-4 0-1 0 2-3zm5 9 0 1-1 2-2 1 0-4zm-7 -3 1 1-1 2-3-1 0-1zm-5 6 3 2-5 0zm-1 -21 3 2 4 0 0-6 6-4 4-2 1-9-4-3 3-7-4-3-4 8-2 1 0 7-6 2 0 3-1 4 5 3zm-5 -44-4-4-9 9 0 1-2 8 8 3 4-7-2-3 4-4 4 6 4-4 3 0 0 7 4-5-7-9-1 0-4 2zm7 98 4 3 2-1 0-4-4-1-4 1zm4 -113 1-4-3 5zm-8 111-4-5-3 4 4 2zm-10 -24 1 0 3-5-6 0 0 3-6 1 1 6 3 1 0 6 5 1 0-6-3-2zm-11 -3 4-5-1-2-3-2 3-3 3 1 3-3 0-2-6 0 3-5-1 0-5 1 0 3-2 1-3 0-2 1 4 5 2 8zm0 -80 5 4 2-2-5-3zm-2 93 3 4 4-2-3-2zm2 15 0-2-4-1-1 3 4 2zm-56 378-4 8 2-1 0-2 2-1 1-2 3 0-1 3-2 6 1 2 11-6-1-1 2-2 5-1 0 2 2-1 0-1 2-1 3-3-3-2-1 0-3-2 4 0 1-5-3-2-2 3-2 0 0 2-4 1-1 1 0 3-1 3-2 1-1 1-3-1 1-3 0-3zm14 -2 4 0 0 1-3 0zm-18 31-1 0-1 1-3-1-2 2 0 2 3 2 2-3 4 2 0-3zm-4 -8-4 1-2 3 1 2 3 1 2-2zm-2 37-4 3 1 2 2-2zm-21 9 2 2 5-2 8-3-2-5-4 4-1 0-2 0-2-1-2 0-1 0-1 1zm6 -23 5-4 1-4 0-3-1-1-7 11zm0 16 3-1 0-7-6 1 0 2-2 2 0 2zm0 -15-3 1-2 6 2 0 4-2 1-3zm-28 27-1 1 4 2-1-3 4-1 0-2-7 2zm-83 17 1-1-4-3-2 1-1 2 2 2 0 2 4-1zm-62 -66-3 2 1 3 1 1 3-3 2 1 0 3 4-1 1 1 3 1 1-4-1-1 4-2 3 3 2-3-1-4-3-2-7 0 1 4-3 3-2 0-2-3-3 2zm-2 22 4 2 3-4 0-1 2-1 4-5-3 0-2-2-2 0-2-1-2 2 0 3-2 3zm-1 4-1 3 3-3zm-5 -5 3-4-1-4 0-3-5-1 0 3-1 2-2 0 2 5 1 0zm-20 6 6 10-1-4 6-1 0 4 6-2 0-3-2-3-3-1-5-5-4-2zm11 -18 1-2 1-1-4 1zm-10 3-3 0 0 5 4-2 0-2zm-5 4 3-7-3-2-2 1-3 0 4 8zm-24 6 4 2-2-6zm-47 -49-3-1-3 2 4 10 2-2 2 2 3 0 2-2 3-8-2-2 2-2 0-6-2 3-4 0 0-2-3-1-4 2 3 4zm0 1 6-1 0 2-3 3-2-1zm-20 76 3 1-3 4 2 2 4-4-1 0-1-2 2-1 1 2 3-3-3-2 2-1-2-5-2 2 0 2 2 2-1 2-5-3z" fill="#ffde00"/>
<path d="m1304 528 2 2 2 3 3 0-1-2-6-4-2-2-4 0 2 4zm-11 6 4 0 2-4-3-2-2 1zm-32 31 1-2 0-7-2 0-2-2-5 1 0 3 4 1 2-1 2 2-3 1 0 3zm-7 -10 0-2-2 1zm-10 35-1 2-1-4-3-1-1 2-6 0 7 8 9-9zm-2 -8 5-1-1-4-2-1-4 2 0 2zm-3 -33 0 4 4 2 2-3-3-3zm-1 21 0 4 1 1 4-2-2-4zm3 -22-2-2 4-6-2 0-4 4 0 4 2 1zm-104 -121 2-5-1-5-6 0-1 3 1 7-1 2 0 2 7 3-1 5 4 3 0 1 4 1 3-3 0-3 0-1 2 1 10-3 1-3 2-1 0-1 2 1 2-1 1 2 4-2 0-2-2-3-3 1-3-1-4 3-4-2 5-5-1-2 2-3 1 2 3 2 1-1 0-4 7-2 1-3 7 2 0-4-2-1-5 2-1 1-7-6-1 6-1 2 0 2-3 1-3-3 2-3 2 1 2-6 2 0 4-5-1-3 10 1 1 1 2 2 4-3 1 2 3 0 1 1-3 1 0 2-5 0 0 5 3 1 1 2-1 3 3 1 0 3 3 0 2-6-2-1 0-2 4 0 1-1-1-3 3-3 1 1 2-3 5 2 2 0-1-5 1 0 4 2 1-4 0-1-4-2 1-1 3 1 1-1 2 2 6-1 3-9 5-4 1-4-3-2 2-3-3-2-4 2-1-3 2-1-3-4-2-2 4-4 2 4 4-3-1-1 5 1-1-5 3-5-2-2-3 0-2 4 0 2-1 3-4 1-2-2-4 2-1 4-1 0-1-4-3-3 2-3 0-2 3-1 5 3 1-1 0-6 5-4 3 1 2 0 1-1-5-2-5 1-3-6-5-1-3 1-5 4 2 0 3-2 4 4-6 5 1 2-6 4 1 4 5 0-3 5-3-4-6-2-1 2 2 7 8-2 6 2-1 2-5 2 0-1-2-3-2 2-1 2 7 3 0 1-2 2 2 3 2-2 5 1-6 3-1-1-8 0-5 4 1 4-4 2-3 4 8 0 0 4 4 0 0-4-2-1-2-5 4 2 1-4 6-2 2 2 3 2 0 4 5 0-3-8 3-1 1-3 2 1 2 4-3 2 0 9-3-3-2 1-2 0-1 1-3-1-1-4-4 2-1 3 1 3-1 1-4 1-3 4-1-1-3 2-1-3-6-2-1-4-5 1 0-8-6 0 2 8-9 1 0-2 5-7 0-2 4-5 1 0 3-5 1 0-7-10 1 0-2-5-2 3 0 2-2 0-2 3 1 5 2 1 2 2-2 7-7-2-1 7 4 6-9-2-1-2-6-1-3 1-6 1 1 12 3-1 9 2 1 2-11 5 2 4 3 4 0 6 3 5-3 1-2 7-2 2-3-2-2 0-1-1 1-2zm95 132 2 5 2-1 1-3-3-2zm-1 -12 5-4-1-1-5 2zm-3 38 5 2 1-2 1-3-9-3-3 4-4 0 0 1 9 4zm-5 -19-2 7 3 2 3-2 0-2 1-2 3 1 3-3 0-3-2 0-4-4 2-3-3-1-3 3-2 1-1 4zm4 -205 3 1 0-3zm-7 216-2 2 1 2 3 0 1-3zm0 -23-3 0 0-1-3 3 3 2 3-2zm-15 9-1 2-4 1-1 1 8 5 0 5 4-1 1-2 8 0-1-3-2-2-1 1-4-2-1 3-3 0 2-5-2-3 2-2-1-2zm12 16-2-2 1 3zm-6 -12 5-4-5-2zm-19 7 3-1 3 1 0 3-1 1 5 4 2-5-1-2-3-2 1-2-3-4-8 5zm-26 -226-4 2-5-4 1 8-2 2-3 0-1 1 3 5 0 5 2 0 3 8 1 1 3-1 3-4-3-4 1-8-1-1 1-2 3-1 3 1 3-1 3 2 1 3 3 0 0 4 2 1 4-2 0-1-6-2 3 0 3 2 1-1 4 1 2-3 2 5-1 1-3-2-5 1 0 4-3 3 5 11 2-1 0-5 2 0-2 5 2 1 3-2 5-7-1-2 2-1-1-5 2-1-1-2-4-1 2-2-1-3-4 0-1 2-4-2 1-3-1-2 4-5-2-3 1-6 3 0-1-2-3 1-6 4-4-1-3 4 1 0 1 7 3 0 1 1-2 4-1 1-2 0 1-6-8 0-1-7-1-1-5-1-1-5-4 1-2-2-1 9 2 0zm15 -5 6-3 2 3-2 4zm14 48 1 4 3 1 1-3-3-2zm-25 31 6 0 1 3 2 1 3 0 2-6 2-2-2-2-1-3-1-1-4 3 3 3-1 2-3 1-2-6-6 5zm-39 -65 3 0 1-4 3-1 2 4 5 1 1-2 6-2 0-6 2-2-5-11-1 0-3 3-1-1-2 4-4 1-3 2-3 0 2 9-4-3-2 2-1 4zm14 266-3 4 2 1 2-3 0-2 2 1-2-4-1 1zm-6 -263-3 3 0 2 2 1 6-3 0-1zm4 40-2-10 0-4-2-1-3 1-3 9 8 5zm-4 219 0-3-5 1-1 1 1 2zm-6 -208 5-1-4-5-1 0-1 4zm-8 216 0 2-2 1 5 4 0-3 1-1 3 3 2-1 2 1 1-1 0-4-4 0-1-1 2-2-2-4-3-1-1 2 1 0-1 3-2 1-1-2-3 3zm4 -1 3 1-3 3zm7 24-1-2-3-3-1 1 4 5zm-31 -261 2-2 1-6 4 5-1 1 0 4 7-3 0-2 0-1-1-8-9 3-1-1-1-6 6 1 1-3 5 0 0 5 5 0 1-1 0-4 8 4 0-4-4 2 0-4 4 0 3-2-3-5-3-1-2 0 1 4-1 2 1 2-4 1-4-2-1 1-3-2-7 1-3 3-1 1-14-1-2 4 0 7 9 2 4-2zm14 -3 8 2 0-5-5-2zm7 -25-6 1 0 5 6-1zm-2 88-1 4 2-3zm-30 -121-5-1-3 4-4 10 7 5 3-3 4-3 9 2 0 1-15 6 4 7 4 2 4 0 6-8 5-2 0-1-2-8-7-7-4 3-1 0-1-2 6-4 17 3 0-3-2-3-9-7-6 0-2 1zm-4 6-1-2 5-4 0 2zm18 73-3-11-5 11 3 2zm-1 7-4-4-6 7 6 4zm-7 -101-4-1-3 1 1 5 7 2zm-3 84 0-2-7-1-5 5 8 5zm-1 40-2-2-2 0-2 4 5 5zm-6 -16-5 2 2 5 4 0 4-2-1-2zm1 51 1 1 1-2zm-3 -146-1-1 2-3 1-3-7-2-2 7-2 2 1 3 5 1zm-2 123 3-3 0-4-4-2-1 1 0 7zm-8 -16 6 3 2-3-2-4-1 0-2 1zm4 -123 1-2-6 0zm-2 132 0-3-5 0 0 5 2 1zm-6 17-1 2 1 3 6-2zm4 33-2 5 3-4zm-7 -24 5 3 1-4zm5 20-2-2-5 0-1 3 3 1zm-4 -14-5 2 0 3 1 3 6-1 1-4zm-10 -25-3 1-2 3 5 3 3-2-1 4-2 2 5 5 6-4-2-3 2-4-5 0-2-2-1-2zm5 -78 5-8-8-4-3 1 0 9zm-5 35 4 0 2-4 4-1 0-2-2-2-5 3 0 4-6-7zm9 7-3-3-3 3 3 1zm-5 102 4-2-2-3-2 3zm-7 -90 6 3 2-3-5-4-3 2zm8 12-3-1-3 4 0 6 6-2-1-3zm-12 45 0-2 10 4-2-7-3 2-2-2-3 2-2-2-4 2-1 2 1 2zm0 22-1 3 2 3 1 0 2-4 2 1 3-5-5-2zm9 -171-5-2-6 4-2 4 9 2zm-18 58 3 1 4-8-3-7 2 1 2 2 3 0 1 4 5-4 0-3-1 0-3 0-3-2 0-2-3-3-2 1-2 5-6-3-2 2 1 8 5-2 2 4-4 2zm15 43 2-2-4-3zm-14 -108 4 1 3-1 6-7-10 2-2-1zm-6 122 1-3 5 0 3 2 2-1 2 2-2 6 5 0-2-6 1 0 3-4-2-4-1 0-4-4-1 2-4-2-1 3-4 2-1-5-3 1-3 1-2 3 0 6 3 3 4-2 4 4 4-1 2-4zm12 -37 0 3-5 1 1 5 2 0 3 6 3-3-4-3 5-3-3-3 2-2-1-3 1-5-1-2 1-1-3-4-4 1 0 2 4 2-3 3-3-3-2 1 1 10zm-9 96 3 0 1-3 3 0 4-1 1-3-1-2 2-3-2-1-4 2-5 4 0 2-3 1zm12 16 0-1-5-2-2 2 3 3zm-11 -4 4-3 1 0 3 0-1-5-3-2-2 5-4 0 1 4zm0 -189 2-4-3-2-5 1 1 7-2 3 0 5 13 0zm4 131-5 1 0 1 1 3 4-4zm-1 -5-6-1 0 4 2 1 5-3zm-20 64 5 3-2 5 1 4 7-1 2-1 1 3-3 2-1 1-3 1-1 3-1 1 0 3 3 1 0 2 2 1 2-1 1 3 3-8-4 0-1-5 4 1 3 0 2-6-4 0 1-4-3-3-4-4 1-2-3-2-2 1-2-1-1-3 2-1-1-5-7 4-1 2 0 1 6 3zm20 -92-4-2 2 7 1-1zm-1 -109-1-2-3 3zm-31 51 10 1-3 5 3 5-6 0-1 1 3 5 5-4 1 0-2 7 1 4 2 3 5-2 1-1-4-4 1-1 0-5 2-1-2-6-1 0-1-3 5-1 1-4 6 2 3-5-7-7-3 0-2 1-2-1-3 2-3 4-6-1 2-5-1-2 3-6-4-2-9 5 3 3 0 3 5 4zm24 113-2 3 4 2 1-2zm0 -13 2-3-3-2-3 1zm2 32-2-2-3 2 0 5 4-2zm-7 10 6 1 0-3-5-3zm3 -187 1-3-3-2-3 3zm-16 15 7 7 6-3 1-2-7-8-4 1zm7 -7 5-2 0-3-1-1-8 0zm3 134-4 4 5 2 0-6zm-10 21 1 5 4 1 1 2 4 0 1-1-4-4-1-2 2-2 0-1-4-3-2 1zm8 -165-1-5-4 3 1 4zm-2 317-4 0 0 3 3 5 2-3zm-5 -233-5 3 0 5 3 2 8-3-3-6zm1 94 4-1 0-4-6 0 0 2zm3 20-2-1-3 2-1 3 2 2 5-2zm-3 86 1 0 0-4-1 0zm-1 -9 0 3 1 1 1-6zm-1 54-2-6-5 1 1 7 1 0zm-4 -106-5 1 2 7 6-5zm2 38-4-9-2 0-1 5 3 3-1 4 0 2 2 1 3 0-1-4zm0 -255-3 0-4 3 0 5 5 2zm-42 99 1 0 1 2-3 9 10 0 3 2 4-8 10 5-2 6 1 6-9 3 1 3 4 0 5-6 5-2 4 0 1-3-1-3 1-3 2 6 3 0-3-9-2 2-8-2-3-9-3 4-4-2-2 4-4-3 0-3 4 0 1-3-5-1 0 3-6-2 7-3 0-1-3-2-6 3 2-6-4-2-4 1 1 5-5 1 0 5-3 1-1 5 5 1zm38 65 3-3-1-2-5 0-1 2zm-2 104 4 1 0-1-1-6-4 3zm-22 -199 3 2 1 4 3 0 1-7 6 2 2-1 5-1 4-1 0-8-1 0-6 3-2 2-5-4 0 3-3 1-1 3-6-1-1 1-6-3 0 1 1 4zm-14 -67 6 2 1 4 3-1 1-1 4 3 1-5-4-1-2-4 7 1 0-2-2-5 5 1 4 3 0 4-2 0-3 4 1 4 4-2 2 3 4 3 3-4-2-6-2-2 2-3 2 1 5 0-2-6-1 0-4 3-2-3 4-2 0-1-4-3-5-1-3 4-7 0 0 2-6 4-4 0zm32 126 6-4 0-1-7 0 0 3zm3 224-3-4-11 4-1 1 4 7 7-2zm-1 -83-2-5-2 2 1 2-3 3 0 2 1 1 4 0zm-8 47-1 5 1 1 5 3 2-1-1-4 2-2-2-3zm7 -174 0-5-6 3-2 3 4 2 2-1zm-22 -85 1 1-3 4 4 2 8-1 1-3 2-3 0-1 4-4 0-3 3-4 0-2-1-1-5 2-5-3-1 1-1 4 0 3 5 2 0 4-5-1-1-1zm12 35 0 1 4-1 3-3-1-4-5 1zm-2 243 8 4 0-9-5 2zm3 -72-3 3 3 2 4 0 1-2-1-1zm-1 -230 0 3 5-1-4-4zm5 244-7-3-4-3-4 4 2 2-3 4 3 3 3-1 1-5 1 0 5 3 2-1zm-8 32 1 2 3-1 3-3 0-1-5 0zm0 -147 5-2-2-5 2 0 2-3-3-1-1 4-3 1-1 5zm4 98-2-3-4 1-5-1-2 6 0 1 2 0 5-3 1 2zm-6 62-1 3 4 2 2-2-3-4zm5 -71-2-6-4 5zm-1 -19-3 0-2 4 3 1 3-2zm-17 98 1 12 5-2-1-3-4-1 8-6 1 5 1 1 5-1-4-6-4-3-4 2-2 2zm15 13 0-2-5-3-3 3 1 4zm-5 -361-1 2 1 3 4-1 1-1-1-2-2-1zm-3 415-4 2 2 6 3-4 2 1 3-1-2-3 3-2-2-1-2-4-3-1-2 3zm7 9 0-2-3 0-1 3 0 1zm-2 -323-4 3 1 4 2-1 2-4 0-1zm-38 -15-3 1-4 3 5 4 1-1 3 2 1 5 6-1 0 6 3 4 2 0 2-6-1 0-2-4 6 0 3-2 1-3 2 0 0 4-1 0 0 2 4 1 1-4 4 1 1-3 2-2-2-4-3 1-2-1 0 2-5 0 4-3-1-2-5 2 0 4-6-1 5-3-2-2-2-1 0-1 3 0 0-2-2-2-3 0 0-5-2-1-5-5-2 6 4 1-1 2-2-3-2 5-4-1zm36 137-8 2-1 2 1 1 7 2zm-15 80 2 4 5 2 2 2 2 2 3-2 0-5-7 2 2-4-2-2-5-2zm13 -243 1-3 0-3-2-1-4 0-1 1 3 6zm-4 9 4 2 0-4-4-4-3 1-1 2-2 1 0 4-3 0-3 4 2 4 4 1 3-1 0-3-2-3 0-1 3 0zm4 80-1-4-4-3-4 6 3 4 2 0zm-1 119-2-2-2 0 0 4 3 0zm-9 -271 6 1 1-2-5-2-3 1zm2 237-5 5 2 4 8-4-1-3zm0 97 2-3-7-1 2 4zm-6 -276 2-2-3-5-5 2 5 6zm-9 154-5 3 5 5 2 0 6-4-2-2zm-2 141 3-3-4-3-4 2 1 5 2 0zm2 61-5 1 0 4 5-1 0-3zm-7 -53 0 6 5 1-2-8-2 0zm3 28-6-2-1 4-1 0-3 4 1 2 7 0 0-3-3-2 6-2zm-13 -81 4 8 8-6-6-5zm10 -317-5 2 1 3 2 0 2-1zm-1 411-3-1-2 3 3 4 3-1zm-14 -35-4 5 1 2 4 1 2-6 7 6 2-2 1-4-3-6-2-1-5 6zm5 -106 0 3 3 3 4-5-2-1zm-1 72 2 1 3-1-3-4-1 1zm3 -269-7 1-1 1 1 2 3 3 4-4zm-2 372 2-2-2-7-2 0-3 3 0-1 1-4-1-1-4 0-1-2-8 4 1 2 6 0 3 7 3-3zm-24 -468 3-1 2 3 3-1 6 7-4-1-2 3 4 2 0 2 4 1-3 4 4 1 2 2 3-4-1-3 3 0 2-4-1-2-6-6-1 2-3-2-4 0 3-3 3 2-4-5 1 2-5 1 0-1-3-3 2-2-3-2-5 2-1 0zm16 15 1-5 1 0-1 5zm7 6-4 0 3 7 3-2-1-3zm-3 407-2 5 3 1 2-3-1-4zm-61 -367 1 5-5 1 0 2 2 4 3-1 2 3 6-2 0-2-2-5 2-4 2 0 4 5 4 1 5-3-1-2 9-4-1-5 7-3 3 6 6-4 2 1 1 4 4 1 2-1 3 3 3 1 1-1 1-1-6-5-2-3-6 0 0-2 2-2-1-4-6 4-4-2 1-4-3-2-5-1-2-4-3-2-5 5 2 7-3 4-6-2-3 4-4 1-4 5-7-7 1-1-3-8-6-2-4 5 3 4 7 3-2 3 0 3zm55 382 7-2 0-3-3-2-3 2zm1 47 6-7-3-4-8 3 2 8zm-1 -415 0 4 1 0 3 0 2-5zm0 368-2 4 4 4 3-2zm3 -48-6-1-2 5 1 2 4-1zm-6 31 0 6 2 1 3-6zm-3 -71 5 3 1-6-1-2-3 1zm-28 -340 6 0 2-5-1-1-4-6-3-2-4 0-4 1 0 3-3 5-2 0-3 6 10 4-1 2 3 4 5-4 1 3 6 1 0 2 6 1 2 4 1 0 4-1 3-2 1-4 4-2 1-8-5-1 2-1 1-4-3-1-2 2 0 3-5 0 1 5 3-1 1-3 1 0 1 4-1 2-8-2 0-5 2 0 2-4-2-3 4-2-2-5-4 0 2 7-4-1-2-3-7 1 4 2 0 4 2 3-5 7-4-1zm18 11-3 1-1-2 4-1zm7 278-4-1-3 5 4 2zm-10 44 1 1 1-1 1-6-4 2zm-1 -16 1-4-5-3 0 4 3 3zm1 -337-1-2-3 5 3-1zm-13 235-2 4 1 3 3 2 3-6-2-4zm1 229-1-9-5-6-6 4-2 9 5 3zm-7 -262 1-3-9-3-2 2 5 7 4 0zm-31 -170 5-1 2-4 3 1 1-2 5-1 3 8-6 2 2 9 3 0 5-9-2-2 2-6 0-1-6-2 0-2-11-1 0-3-2-2-3 0-2 3-4 0 0 1 4 7-1 4zm-19 -32 0-5-2 0-4-3-3 3 2 4 6 2-2 3-2 1-1 4 5 2-1 2 2 3 9-3 0-2-1-2 0-4 7-1 3 5 8 4 4-3 4 4 4 0 4-9-5-2-5-1 1 4-3 4-3-5-7 2 1-6-2 1-3-4-9 4zm33 527 3 2 5-5-7-2zm5 -352-3-4-2 1-1 4 6 1zm-9 75 0-6 3-2-2-4-4 2 1 2-5 2-1 2 6 4zm3 234-3 0-1 2 0 3 3-1zm-2 -357-2-6-5 1 1 6zm-3 -124 2-1-4-4-4 3zm-2 68-10-4 7 9 2 1zm-3 21-4 1 0 4 3 1 2-4zm-9 216-3 4 5 3 4-6-1-2zm3 -271-8 6 6 5 5-9zm-5 60 5 4 1-4-1-1-4 0zm-12 -24 1-15 14 7 3-6-7-5-10 4-11-2-4 4-3 7 10 6 4 1zm-19 -41 3 5-6 4 1 3 3 0 7-12 3 5 2 0 1 7 7 4 4-4-5-8 5-2 3 2 7-2 1-3-7 0-1-2 6-1-2-4-7 2-1 1-4 2-2-5 3-2-7-5-1 7-2 3-1 0-2 3-6 0zm25 362 6 2 1-4-3-2-4 2zm-5 -87 5-1 0-5-5-2-2 7zm3 -51-1-2-4-3-9 0-4-8-8-1-1 2 2 8 5 8 13 3zm-12 -60 6 1 0-3-3-3zm-9 -40 3 3 1 0 3 3 4 1 2-4-2-3-1-3 1-2-1-1-7 0 1 3 3 1-3 4-3-9zm13 354-6 0-2 4 7 1zm-3 -12-18 1 0 1 2 2 12 3 5-5zm-20 -263 0 2 4 0 2 4 5-3 3 1 2-5 0-2-6-3-3 2-4-1 0 4-3 0 2-4-5 1 1 4zm15 283 0-4-5-1-2 4zm-1 -298-2-2-5 4 1 2 5 0 1 0zm-9 -26-7-2 0 5 3 3 2-1 6 2 0-4 5-3-2-2-2 0-3-3-2 2zm4 101 3-1 0-4-4-1 0 5zm-19 -48-1 1 4 3-2 3-3 0-2 2 2 3 3 1-4 6 0 2 9-1 1 3-8-1 3 4 4 1 2-2 4 1 5-13-8 0-1-7 2-3-1-1-2-1-2 3-1-1 1-3 0-1 3-3-1-2zm11 -160 3-1 2-6-4-3zm-18 -71-6-5-3 3-1 3 5 1 2 2 3-3 3 5 2-1 4 5 3-2 2 4 6-3-3-2 1-3 2 0 1-2-3-3-2 4-2 0 0 3-2 2-3-7-3-2-1-6-2 1-1 5zm17 89 1-1-3-5-2 0-2 3zm-6 16 4 1 2-1-9-6-3 2 2 3-3 1 4 3zm1 102 5-5 0-2-7 2-1-4-4-2-2 1 0 4 2 1 2 2 2-1 2 4zm-2 -217 6-3 0-1-4-5 1-3 0-5-5 0-7-2-1 4 2 3 5 0 1 3-2 1-4 1-1 2 0 1 9 3zm3 202-5 1 3 4 2 0zm-3 -152-3 1-2 10 8-8zm0 117 1-4-3-2 4-4-5-2-2 3 2 3-1 1 1 4zm-9 59-3 0-1 3 0 4 5 0 0-4 2 1 1 2 4 2 2-3-2-2 0-3-3-1-2-1 1-1 4 1 2-2-2-4-2 2-1 0-1-1-3 0-2 2 3 3zm-12 -38 6 5 3-1 0 4-3 2 5 5 2-2 0-2 2-3 0-4-3-3 5-2 2-5-2-3-2-6-5 0-1 1-5-5-1 2 0 2-3 4 1 1-2 3-5-1-1 2 6 6zm6 -5 5 0 0 5-7-2zm10 257-3-2-4 3 6 11 3-3zm-2 -276-2 0-1 2 6 5 0-5zm0 228 2-5-3-2-4 1 1 3zm-34 -154-3 3 3 6 5 0 1-3 3-1 3 4 4 2 3 19 3-1 5-13-1-2 2-1-1-4-3 1-2-2-2 2-3-1-1-5 1 0 5 2 1-2 4-1 4 1 1-1 2 0 2-2-1-3-3 1-2 0-3 3-2-4-2 0-1 3-5 0-1 2-3-3-2-1 2-3-2-2-2 3-3 0 0 3-2 2-3-1 1-2-1-5-10 0zm24 10 1 3-2 1 0-1zm6 5 1 4 4-4-4-2zm5 20-5-5-4-1 1 16 4 0zm-8 -118-1 4-1 1-2 3 2 3 5-3 1 0 2-4 2-1-1-5-1-1-2 2 0 3zm-7 57 3 2-1 3 4 2-4 0 0 2-1 1-1 3 1 1-1 4 4 0 0-2-1-2 2-2 2 0 2-4 0-3-2-2-1-2 2-2 2 2 1-7-2-1-3-7-4 4-1-1-1-3-3-1-3 3 2 3 0 3 5 1 2 1zm2 206-2 8 5 1 3-1 0-3zm-4 -290-1 1 5 3-1 2 2 2 2 1 2-2 0-3-3-2 0-2-3-1zm4 280-3 0-3 1-3 4 4 6 4-2 3-6zm-17 -202-1 3-3 3 2 1 4 1-2 5 9-2 0 3 4 0 1-2-2-4-1 0 1-3-2-4-4 1-1-5-5 3-1-4-2-2-5 6 2 1zm5 217 0 7 6 3 1-1 2-6-6-3zm8 -193 0-4 1-1-1-3-5 2 1 2-1 2 1 2zm-8 -145 3 3 4-2 2-4-1-1-8 3zm-10 -94-8-1-9 7 0 1 3 4 5-1 0 7 2 1 2-1 0-7 3-2 1-5 10 9 2 0 2-4-2-6-10-3zm12 231-1 0-10 0 4 4 4 1zm-1 -63-3-3-2 1-1 2-1 0-2 3 1 2 2 1zm-1 14-1-5-3 2 1 4zm-3 -31-5 0-1 2 0 2 5 2 2-1zm0 -117-2-3-6 3 3 3zm-5 102 2-1-2-5-2 4zm-2 -82-2 0-2 2 0 4 2 1 6-4-1-2-1 0-3 2zm0 129 0-4-4-1-3 1 5 5zm-17 304 2-4 0-5 8 0 4-5-6-3-1 3-4-2-2 1-2 4-2 0-3 4zm7 4-7-1 1 4 5-1 1 1 4 2 2-2-2-3zm2 -384-4 3 5 1 2-1-2-2zm-8 346 3 5 3-2 1-3-6-2zm3 -230-8-14-5-1 2 13 5 3zm-5 239-2 0 1 5 1 1 3-1 0-4zm-2 -445-2 2 1 5 5-2 1-3zm1 -9-5 3 0 4 3 1 1-2zm-8 129 4-3-3-3-3 2-1 3zm-3 -112 2-3 0-2-3-1-2 5zm-8 49 5 3 3-1-3-6-4 0zm2 -55-2-4-4-2-1 2 0 10 7-5zm-7 125 4 5 2-6-2-1-2 0zm1 -8-1 3 4 2 1-2-1-3zm0 197-5 3-1 4 10-1-2-4zm1 144-2 0-3 5 2 5 5-6zm2 -398-4-2-4 2-1 2-3 1-2-2-2 0-5 2 0 1-4 6 1 2 5-1 1-1 4-1 2-5 3 5 5 2 3-5-1-2zm-5 49-3 3 1 3 3 0 2-2zm-8 342 5 2 3-2 1-3-6-2-3 0 0 3zm-4 -243 6-4-1-10-7-3-5 2 0 5 0 1zm-6 51 0-4-4 0-1 2zm-15 -53 8-2 0-10-3 0zm3 -126-1-3-6 0 3 4 3 1zm-3 486-5-3-1 0 0 5 1-1zm-17 -108-4 6 5 4 7-1 2-7-2-4-2-8-2 0-2 2zm5 122 2-2 0-4-1 0-1 0-2 2zm-2 -395 2-1 2-4-8-7-4 0 6 11zm-8 -85 3 2 1 5 5-1 1-3-1-3 0-2-6-4zm0 -30 6 2 4-4-4-7-6 6zm2 45 7-4-5-3-4 4zm4 -81 2-4-1-2-7-1 2 4zm-8 338-1 5 5 5 2-5-3-5zm1 213-2-1-1-6-4 1-1 4 3 0 2 4zm-3 -585-4 1 1 3 6 0zm-3 -20-3-1-3 4 1 5 3 0 1-2 3-2zm-7 392 1-6-6 4 0 1 3 2 1 0 3 3 4-1 1-4-2-2zm0 -363 3-2 0-1-1-1 2-4-7-3-2 3 1 4 3 4-2 1 0 5 2 1 3-3zm-1 409 1-1 1-6-2-1-3 1-2 2zm-3 -426-2 0 0 5 2 1 3-3zm-7 -5-1 6 2 1 4-2 0-1zm-1 21 4 2 2-5-2-1zm2 -8-4-3-4 1-1 2 1 3 4 1 7-4 0-2-2-2zm-26 320 2 1 5-6 4 9 5-10 3 4 0 4 2 1 5 0 0-3-2-3 3-1-1-2-9-1-2-4-2-1-4 2-5-1-5 2zm22 88 3-6-3-1-3 2zm-2 -18-4 0 3 6 2-1 1-4zm-4 11 4-2-1-3-4 2zm-1 -208 4-6-9-1 0 3zm-2 -214 0-7 4-8-8-3-1 1-1 5 2 4-6 5 2 1zm-2 33 1 0 3-6-3-1-2 1zm-7 -10-5-6-1 4zm-8 397 3 1 4 0 1-1-5-5zm-6 0 1-4-4-2-2 6zm-2 13 2-2-1-5-7 1 4 6zm-6 -410 5-1 0-4-2-1-6 2zm-10 306 2 4 3 1 7 0 2-1 1-5-13-3zm14 -288 1-1-1-5-2-1-3 2 0 2zm-25 15 7-5 5 1 5-1 0-5 1-2-7-3-2 5-1 1-5-4-4-1-2 13zm12 206 1-6-3 0-2 5 1 1zm-5 74-2 7 3 1 3-3-1-4zm3 42 0-1-4-3-3 0-1 2 2 5zm-2 -351-1-1-4-1-1 1-5-1-2 2 1 3 0 9 8-6-1-2zm-10 484-6-3-1 1 5 4zm-17 -490 3 3 4-1 2-6-2-3-8 1zm-9 32 1 6 1 1 7 1 3-9-2-1-7 1zm3 -11-2 4 6 2 0-4zm-41 42 7-1-3-5-4-2-2 6zm1 -9 3-1 2-3-1-2-3 0zm-6 -16-3 4 2 1 5 0 2-3zm3 -11-5-4-1 7-1 1 1 6 3 0 0-5-1-1zm-7 26-1 2 8 0-5-4zm-13 5 0-5-6-2-3 4 0 2 4 2zm-2 -12-1-1-3-2-4 4 4 3zm-50 411 5-2 0-2-5 2zm-13 9-2 0-1 3 5 3 3-8-4-1zm-8 19-1 3-1 1 0 3 4 1 1-1 3 2 0-4-3 1 0-2 1-3 1 0-1-3-1 1zm-11 36 2 4 4-2-1-3-3 0zm1 -23-2 1-1 4 6-2 0-1zm2 -9-1 0-1 3 1 0zm-37 47 1-1 1 1 5 2 8-4 0-3-5-2-5 2 0 2-4 0-1 0-4 1zm-81 7-5-2-2 1 4 4 2 0 1-3 4 4 1 0-2-6-3 1zm-10 -3 3-5-2-1-2 0-2 4zm-44 -60-6 3 1 5 3 0 4-4zm-21 14 5 1-1 4 1 0 2 0 4 3 1-2-1-3 3-1 0-3 1-1 1-3-3-2-7 6-5-2zm11 3-2-1-1-1 2-1zm2 11-2-1 0 4zm-15 13-4-1-1 3zm-5 -29-4 0 2 4 3-2zm-11 10 0-5-3-1 0 4 2 2zm-64 -48-4 3 4 3zm-10 -1-2-1-2 5 3 2 1 0 1-4zm-3 9-3-2 2 4 1 0zm-12 66-4 4 5-2z" fill="#bfe80c"/>
<path d="m1298 531 6 3 4-2-1-3-4-4 0 2-3 1zm-46 50-2-2-4 2 4 4zm-16 -37 3 0 0-4-5 2zm-1 -206-6-1-6 5 0 6-5-3-4 1 0 3 3 3 0 2 2 2 4-3 0-1 8-2 2-4 2 0 1 1 0 3 1-3-2-5zm1 216-7 3-1 4 0 1 7-3 1-3zm-7 -188-1-1-3 0-1 2 0 4 5-1 0-3 4 0 1 2 1-3-4-2zm0 -12 1 3-3 2-3-4-4 5 1 2 2 0 4-1 1 0 2-2 5-2zm-32 6 1 2 3 0 1 1-2 2 1 4-2 1 1 3-2 4-6 4 2 2 3 2 3-2 2 5 3 1 3 0 1-3 3-1 0 3 5 2 1-1 3-1 3 4-2-1-3 2 5-1 0-11 4-2-2-5-3-1-1 0-1 3 0 4-2 1 2 4-3 0 0-4-3-1-2-3-7 2-1 4-4-2-1-3 4-3 4 0 0-5 2 1 2-2 0-3-2-1 6-2 1-4-8-2-4 1-3 1-3-1zm12 3-1 2-2-1 0-2 2-1zm10 205 4-2-1-2-4 0 0 4zm-3 -178-2 4-1 5-1 2 5-3 1-5 1 0zm-3 -47 5-5 1-2-5-4-3 3 0 7zm-3 218 5 3 2-3-3-2-2 0zm-17 -152-1 2 3 2 0-1 5-1 4-4 4-2 2-4-2 0-5-2-7 6 1 3zm3 -9 2-2 1 2 3-3 2-3-2-2-3 1 0 2-3 0-2 1 1 3zm-17 -61-6 2-2-4 0 5 0 1 1 7 8 1-1 1 0 4 3 1 2-2 1-4 0-1-3-1-1-5 5 4 2 0 2-5-2-3 5-4-2 7 5 7 5-3-1-4-5-7-2 0 1 0-6 1-1 2-7 4zm-3 22 7 10-3 5 1 1-6 6 3 1 10-1 2-1-5-11 1-1-3-6-1 0 0-3 4 2 1 2 5-1 0-2 4 1-2-5 2-2-1-3-5 0-1 4 5 2-2 2-4-1-1 1-3-2-6 1zm18 214 1-2-4 0zm-3 -158-1-2-2-1-2 2 1 2 6 0 0-1zm-9 8-3 0-2-1 0-3-7 1-1 3 2 3 0 2 4-4 7 0zm-12 -4 6-6-2-3-8 3 1 4zm-6 -54 2 4 6-2-2-6-2 0zm-4 -24-2 0-2 2 6 6 5-2 0-1zm1 89-2 1 0 2 3-1 0-1zm-9 -64-1-7 2-4-8 0-5-2 0 1-1 4 4 2 1 2 7 4zm-5 74 3-4 1 0-2-2-2 1zm-12 208 3 0 1-2-1-4-3 1zm-7 -25 1 6 1 0 3-3-1-1-3-2zm3 -4-1-2-1 2 1 1zm-11 -292 3-3-2-4-5-2-3 1-3-3-1 1 9 8zm-23 4 2 3 1 0 4-3 6 6 11-5 0-3-18-3zm19 35 3 1 1-1 0-5-1-2-6 3-3 4 2 1zm1 10 1-2 1-5-6-1-2 3-5-1-1 1 1 7 2 1zm-14 16 2 2 3 0 3-2 0-7-4 0-2 1zm-13 -31 0 6 1 3 6 0 4-8 3 1 5-2 1-4-8-2-3 0-5-2zm-1 -41 5 6 8-8-2-1-5-2-2-4-5-2-3-3-3 0-1 2 1 2-1 3 2 3 6 1zm-3 127 5 1 6-3-1-2-8 1zm6 -14-2 0-5 4 0 2 3 1 3-3zm-9 -6 3 5 2 0 2-6-3-1zm-30 41 7 2 1 3 2-1 0-2 3-2 1-1-1-2 1-3-5-4-1 1-4-4-3 2 2 3-2 2 1 2zm8 -14 2 3 2 0 1-7zm1 -6 0-5-4-1-3 4 5 2zm-15 57 2 2 2-2 3 0 2-3 3-2 0-3-4 1-1 2-7 1zm12 -123-5-2-4 4 3 2 3 0 3-3zm-5 52-4-4-3 5 4 1zm-5 95-5-3-1 5 5 0zm-1 -9-1-2-3-3 0-2-3-2-2 6 2 1 0 5 1 1 4-2zm-2 15-3 0 1 4 3-3zm-13 -208 6-3 5-1-1-5-3 3-2-2 0 3-4-2-2 2 0 3zm-2 199 3-4-7 0 1 3zm-13 -163 7 1 4-5-9-2zm-15 22 0 3 5 4 2-2 6-3 3 0 3-3-2-4-4 1-2-2 1-6-1-3-6 0 0 2 1 5-1 2-2 0-5 3 1 2zm7 -67 4 3 3-2 0-2-2 1-5-2zm0 353-4-2-7 8 0 3 12-4zm0 -329-3-3-5 2-1 4 2 2 6-1zm-7 54-1 3 0 3 3 1 1-1 0-6zm-3 -67 3 0-1-6-3-2-3 6-1 0-1 6 3 0zm-18 93 8 3-1 3 5 4 2-5 6-4 0-3-3-3-5-1zm8 3 1-3 3 0 0 3zm7 -112 4-1-5-2zm-4 353 4 3 3-7-6 0zm-1 -224 7 0-2-5-6 0-1 1zm4 145-3 3 2 2 2-2zm0 12-1-2-4 0 0 6zm-24 -229-1 5 4 2 5-1 1 1 3-1 1-3-2-4 4 0 0 4 3 3 1-1-1 4-2-1 0-1-3 3-4 0 0 3 3 2-1 3-3 0-4 4-3 0 1 3 2 0 3 3 5-2 2 3 2-4-1-3 5 3 2-1 1-4-1-1-3 1-3-1 2-3 0-3 5-3 0-1-4-4 2-3-2-4-3 0-2-5-3 0-1 4 0 2-2 1-3-1zm19 284-2-5-5 3 3 3zm-6 -37-1 0-3 7 0 1 2 0 5-5zm-4 -101 4-7-4-2-4 5zm-2 62-1 0 1 9 2 0 2-4zm-8 -166 1 1-2 4 2 2 6-1-2-11-7 0zm2 172 4-5-5-4-3 3-1 3zm0 58-2-3-6 0 0 3 4 5 1-1zm-7 17 4 6 1-1-1-8-2 0zm1 -271 1-4-5 0 0 1zm-13 -97 0 3 1 6 7-3-4-8-1-1 2 2zm1 444-1 4 3 0 4-3-3-2zm2 -349-4 0-1 1 0 4 5 3 2-6zm-6 -101-1 3 4 0-2-4zm1 306 1-2-3-2-3 4 1 1 2 0zm-10 -312 4 1 1-2-4-4-1 3zm-27 -6 6 8 3 1 3 3 3 1 2-2 2 0-1 3-3 1 1 1 5 1-1 8 1 1 5-2 0 2 4-1 1-3-1-2-4 0 2-4 2 1 0-7-2 0-1 5-2 0 0-3-4-1 1-2 5 1-1-2-5-7 5 0 0-2-7-5-2 3 3 3 0 1-3 1-2-2-2 0-2-5-3-1-2 3-3 1-1 2zm11 1 2 5-3 1-1-5zm-2 96 3 6 2-2 0-5-3-2zm-9 -62 2 1 6-3-1-3-7-1-1 2zm-9 -19 2 5 6 1 2-5-3-2zm-3 14 6 0 1-5-2-3-5 5zm1 202 1-1 1-5-2-1-5 2 1 5zm-7 -178-5-7 1-2-2-5-3-1-6 3 3 8-1 1 8 8 1 0zm-9 -36 4-1 3-6-4-2-4 0zm-8 12 5 1-1-6-2-2-4-1-1 4-5 1 3 8zm-3 -16 0 4 5 0-1-4zm-22 4 2 1 6-6 4 3 4-1 2-2 4 0 3-5-8-3-4-6-8 1 0 5 1 4-8 2 0 2zm7 9 7 1-3-5-6 2zm3 190 0-1-1-4-5 0 1 6zm-29 -209 1 4 3 0 2 2-6 0-1 6 5 1 3 3 1-1 3-3 0-7 3-3-3-5-4 1-1 2zm-4 142 4 2 1-6-4-2zm4 75-2-3-3 1 1 4zm-6 -14-4 0-2 1 0 2 4 7 4-3zm-10 31-2 5 3 1 1-3 2 2 8 1-2-9-5-4-4 2 2 2 2 1zm-26 -14 0 3-3 0-1-1-4-1-1 3 5 4 1 1 0 1 3 2 0 2 5 0 1-3-1-2 2-3 3 2 0 1-3 2 2 3-4 2 0 1 6 3 3-2 3 1 2-1 6-7 0-3-6-3-2 1-5 0-1-3 2-2 2 0 2-3 2 2 3 0 0 3 2 2 3 0 3-3-1-2 5-2-1-4-6 2 0-4-1-1-3 0 0 2 1 3-1 1-4-1-2 1-2-2-3-1-2 3-2 0-3 2-1 0 1-2 1-1 0-2 4-1-3-3-2 1-3-4-2 1 1 4-1 2 1 5zm5 0 1 2 0 2-2-1zm12 14-2 0-1 1-3-1 2-2 2 0 3-1 0 1zm3 -73-1 3-4-4 1-2-3-2-6 3-1 5 6 5 2-2 4 1 2-3 6 3 3-4 2 0 1-3-4-2-1 2-5-2-2-4-4 3zm2 -156 3 8 1 0 2-3 1-2-2-3 0-5-3 1 0-7-5 3-1 1 4 4zm5 262 0-6-4 0-4 6zm-5 -251 2-3-5-5-1 1 2 6zm-13 231-4 14 8 1 6-6 0-2 4-6-3-2-2-2 2-2-3-2-3 2-1 3 4 2-3 3-1-3zm9 -39-1-2-4 0-1 6 3-1 1 3 4 0 1-4zm-13 -56 5-1 0-1 3 2 2-1-1-3-4 1-1-2-2-3-5 4zm3 90-1 0-2 3 1 2 3-1zm-4 -42-4 0-2 1 2 5 2-1 1 1 4-3 0-1zm3 -219-2-4-3 2-4-1-2 1 1 3 9 0zm-10 296 10-3-4-13-1 0-7 6 0 1zm5 143 2 0 2-7-2-2-4 1-5 5zm-7 -176-2 4 1 1 7-1-1-5zm-2 -32 3 3 2-1 0-4-5 1zm-5 0-5 5 1 8 4 0 1-6-4-3 9 0-4-4zm2 -193-2 6 1 1 4-1 1-2-2-4zm-7 214 4 2 3-3-1-3-5 1zm3 -52-3 5 3 4 3-9zm-1 -64-4-3-2 1-1 3 3 2 3-1zm-10 50 0 4 6-1 1-1-5-5zm-2 305 0 5 4 0 2-3 0-1zm1 -17-1-3-2 1-3 4 5 2zm-5 -7 4 1 1-4-5-1zm-11 18-1 4 2 3 6 0 1-2-5-7zm-19 -11-3 1 1 5 5 2 2-3 0-3zm-20 -396 7-1 1-5-1-1-6 0-1 2zm-12 150-2 2 9 2 2-1-1-4 5 2 0-9-5 7zm-34 -217-1-5-4-1-2 4 3 2-2 4 5 1zm-14 8 0 6 2 3 3 1 2-1-1-4 3-2-1-2-2-1-2 1-1 3-2 1 2-4-2-2 0-2-2-1-6 0-1 3 1 4zm2 543 2 0-1-8-8 1zm-3 -358-6 6-3 6 2 1 3 0 4-3 3-5zm-12 221-3-3-4 1 0 4 5 0zm-38 -97 13 2 3-4 1-3-7-3-10 7zm13 52-3-2-1 1 0 5 2 2zm-8 -338-5-2-1 1-1 3 7 2 1-1zm-16 330 1 5 3 0 2-4zm0 0 1-3-5 2 1 2zm-39 -293 2 10 5 4 8-1-2-6-6-7zm-22 7 3-1 0-7-7 3zm-34 1 0-6-4-1-1 2 5 6zm-31 383 1 3 0-2zm-3 -3 2-2-2-2-2 1 0 3zm-3 2 2-1-1-1zm-27 39-2 4 1 3 1 0 2-1-1-6zm-7 27-3 0-1 4 4 0 0-4 3 3 2-5-3-1zm-317 22 0 2 4 5 4 1 1-1-1-1 3-3 0-1-3-1 1-4-2 2-5-1z" fill="#4da41a"/>
<path d="m949 355 2-1 1 1 4-4-8-4-2 4zm2 129-2-3-5 0 3 6 1 0zm-12 -138 7-1-3-4-3-2-3 3 0 3zm-6 111-4 5 6 4 10-4-4-6zm8 -103-3 0 1 7 3-1 1-4zm-33 108-5-7-7-1-1 8 6-2 2 5zm-5 39 4 0 0-4-9-5-1 1zm4 -188-2 0-5 7 3 4 2 0zm-43 148-3-2-2 4 4 4 2-3zm0 -89 1-4-5-2-3 2 5 5zm-14 10-2 9 4 0 2 3 7-1-1-3 1-8-2-1-4 2zm7 88-1-1-5 3 0 1 3 2 3-2 2 1 2-2-1-2zm-2 -35-3 1 0 5 4-1 1-2zm-11 7 4 6 1 0 2-5-5-2zm4 -63 3-3-5-5-3 4 0 3zm-4 107 2 0 2-3-4-3-1 1-1 3zm-3 -31-1 1 4 6 2-8zm0 23 1-1 0-1-3-3-5 1 1 3zm-1 -9 0-3-2-1-5 3 0 4z" fill="#ffffff"/>
</g>
<g transform="scale(.5)" fill-rule="evenodd">
<path d="m2440 730 2 1 1-2-1-2-2 1zm-315 15 0-11-8-5-10 3 3 15 5 15 5-5zm320 0 1-10-6-3-5 8-10 4-9 5-5 10 6 3 10-6 10-4zm-240 62 10-7 10-10 7-11 12-8-2-4-15 0-12 8-15 4-18 1 4 9 5 11 6 11zm-55 -16-1 5 1 5 5 3 5 0 4-3 2-5-2-5-4-3-5 0zm255 19 5-13 4-17-2-10-10 1-5 9-7 12-5 13-10 11-15 5 10 4 10-6 12-3zm-303 4-7 6-10-1 7 8 5 2 8-9zm166 -4-6 6-3 8 3 8 6 6 8 3 8-3 6-6 3-8-3-8-6-6-8-3zm1014 -270 10 5 2-5-5-9-7-6-14 2-6 3 0 4 4 3 7-2zm-792 -170 5-1 2 3 4 3 7-5 1 7 0 5 1 2 4 4 5-4 5 1 2 2 3 3 6-2 3 4 6-6 3 7 4 1 3 0 6-3 4-6 3 1 5-1 5 1 3-3 4 2 6 2 4-4 3 2 4-2 3-3 3 4 1 4 4 4 0 6 3 3 3 4 2 6 2 3 5 2 0 7 0 4-2 5-4 4-4-2-5 1-6 1-2 6 1 4-3 5-5 1-2 4-4 3-1 5 3 4 0 7-4 0 1 6 2 4-4 4 3 6-4 3-1 5 4 3-1 5-2 4-5 5-3 2-2 5 3 3-2 5 5 5-2 4-2 5-3 2-1 7-3 2-4 0-4 4-5 1-4-1-3 6-7-3-4 4 6 1-2 7 4 3 3 5 2 4 3 3 0 6 0 4 3 3 4 4 2 3 0 5 4 1 2 4-1 4 2 5-5 3 2 6-1 4-4 3-6 2 0 5-2 4-2 4-3 4-1 4 3 3 3 5 4 3 3 1 1 6 4 2-2 3-4 3-6 2-1 4-4 2-5 4-2 5 1 4-3 3-3 5-3 3 1 5 0 4-2 4 0 4 2 5-2 4 2 4 1 6 1 5 3-2 6 1 2 4 3-1 6 1 2 2 6 4 3-1 5 4 4 3 2 1 5 1 3 4 3 3 2 4 6 2-2 6 8 0-2 7 3 3 1 4 4 4 3 4-4 5 3 5-1 4 4 2 2 5 5 2 5 1 0 6 7 4 3 1 5 2 1 4 6 0 2 5 7-3 5-1 3-2 1-7 1-5 4-4 8 0 2-5 0-2 6-4 3-1 5-3 3 2 6-1 1-2 5-2 4-3 6-1 1-5 5-3 4-2 5 0 0-5 6 1 4 2 3-3 5-2 6 0 4 3 2 1 5 1 7-2 3-2 2 6 6-1 4-2 3 3 5-2 4 0 5-1 4-3 5 2 3 2 5-2 4-1 4 2 3 3 4-1 5 1 4-2 3-3 4-1 7 1 2-5 3 5 7-4 1 4 7-2 3 1 1-6 5-2 1-5 3-3 0-5 3-4 3-2 3-5 2-4 4-1 1-7 4-4 2-3 3-3 3-4 2-4 6-2 4-4 4 0 4 5 3-6 5 1 6-3 3 3 6 0 4-5 4 0-4-3 1-4-1-5-2-3 6-4-3-5 2-5 4-3-1-3 7-3-4-7 4-1 3-4 3-2 3-5 2-3 4-3 3-3 3-2 6 0 2-3 4 2 5-3 4-3-2-6 4-4 3-4-1-2 1-5-2-3-2-3-3-5-5 0-3-1-5-4-4-3 1-4-4-4-4-3 0-5 0-5-1-4 0-5-1-5 0-2 2-4-1-5 3-2 3-5 0-3 2-5 4-4-5-6 10-2 0-5 1-3 1-4 3-4 4-1 3-3 0-5 5-3 3-2 3-3-1-7 4 1 4-3 2-6 2-3-1-5 3-3 5-6 2-2 1-6 3-2 3-4 1-4 3-5 1-1 6-2 1-5 5-2 2-4 4 0 7 2 4-4 3-4 4-1 3-5 4 2 5 2 5-6 3-1 5-1 4-2 2-4 5 2 4-3 3-4 6 1 3-7 3-1 6 0 2-6 5-1 4-4 4-2 2-6 2 1 5-2 1-6 6-1 1-4 2-4 5-4 2-4-2-4 2-5-5-2 1-5 4-2 0-5 3-5-2-5 0-4-5-2-6 1-3-6-4-1-3 2-6 4-3 0-4 1-5 2-1-3-7 1-2 3-5-1-5 1-3 2-3-7-5 1-4 1-4-3-4 3-4-3-4 3-4-3-6 1-4 1-3-2-3-5-2-3-3-3-4-3-3 1-5-4-5 1-2-4-5-2-3 1-5-2-3-2-6-1-5 0-2 2-3 6-2 2-4 1-4 1-5 0-4 1-4-4-5 7-5-3-4 3-3-5-4 3-6-3-4 1-4-1-4-3-5-1-3-1-3-2-5-3-3-1-5-2-5 1-3-1-4-4-4-1-2-2-5-4-2-4-4-1-3-5-3-3-4-5-3-3-5-3-4-2-5 2-5-2-2 2-3 4-6 0-4 3-3 0-6-3-4 1-4-2-4-1-5 0-3-4-6 5-3-5-6 2-3-3-5-2-4 0-4-3-5-2-5 3-5 1-3-3-6 0-3-2-5 0-5-1-3 5-6-6-4 5-5-1-4 1-2 4-5 0-5-4-3 1-5-2-4 4-6-1-4 4-4-1-5-2-4 1-4-4-4 1-5-3-4-3-4-1-4 0-5-1-3-3-3 1-7-3-5 0-5-2-4 3-4-4-4 0-4-2-6 2-4 0-6 0-3 3-5 0-3-3-5 2-4-1-5 4-3-3-5-1-4 0-6 1-4-1-2-1-6-2-1-9-6 4-4-3-2-8-4 4-6 1-8 4 1-9-4 1-3 1-2 8-6-6-3 6-6-3-3 2-2 5-3 3-4-2-4 5-3 3-3 0-3 2-4 6-2 1-6-2-5 2-5 5-6-5-2 2-5 2-2 5-5 2-5 3 1 5-5 2-1 3 1 6 5 1-2 7 6 0-1 4 5 4-1 4 10 2-6 5 4 6-6 3 5 5 1 5 0 3 0 5 5 4 2 5-8 2 5 6-5 2-3 6 7 3 2-2 5 3 2-6zm704 205 4 9 6 2 8 3 7 7 8-7 5-9 5-10 5-8 0-6-8-4-6 5-5-7-5-4 6-8-7 3-13 6-17 14-16 11 5 4 6 5 4-4zm-70 40-12 3-10 10 8 8 10-3 7-10zm-12 31 5 7 9-1-6-9zm-439 242 1-2-1-2-3 1 0 2zm161 50 2-2-2-2-1 1 0 2z" fill="#ff0000"/>
<path d="m3290 533 2 2-2-3zm-12 -2 3-3-2-3-3 1-1 3zm-14 3 1 0 1 4 7-3 4 3 2-2-3-3-2 0 0-1-4-5-2 0-6 3zm-25 31 2 0 1-2 0-4 0 1-4 1 0 3-1-1-4 4 4 1zm-3 -2 2-3 0-2-5 0-1 2 1 2zm-12 14 2 3-4 1 0 4 2 1 2 1 1-6 3-1 1-2-1-3 3-1-1-4-2 0-2 2-4 2zm0 13-2 3 1 0 5-5zm-14 -20 4 2 2-2 6 0 1-3-2-2-2 0-1 2-5-2zm8 -13 5 0 0-3-2-1zm-4 -12 1 4 1 1 2-2 0-5-2 0zm-15 33 4 1 2-2 5 0-1 4 6 1 1-4-1-4-5 2 0-5-2 2-2-1-2 2-2-1-3 0zm15 -13 1-1-2-5-4 2 3 4zm-5 -199 0 3 3 2 2-3 0-1zm-1 -5-1-1-5 2 3 4 3 0zm-4 198-2 1-1 4 2 2 2-4zm-4 -187-2-2-4 0-1 1 3 4zm-4 18-2 4 0 1 4 1 0-3 1 0zm-4 -6 0 4 5 2 1-1 0-4zm-11 7 2 4 5-1-3-3zm-5 179 2-2 0-1-3 2zm-3 -182-6 2 2 5 3 0 2-4zm0 12-1-2-5 0 1 2 2 2 2-1zm-11 17-4-2-3 0 2 7 4-1zm-11 -75 1 1 8 0-1-4-6 2-2-4zm0 14-3-2-4 1-1 4 4 2 3-2 1-3 4 3 2-3-1-1-2-1zm1 13-2-6-2 0-4 4 2 4zm-8 50-2-4-2 4zm-4 -42-6 1 0 5 6-1zm-7 44 1-5-1-2-8 5 1 3-2 1 2 5 3-1 1-5zm-16 -56 4 4-1 7 9 0 1-4-7-4 2-4-1-2zm5 51 7-5-4-12 1 0-1-12-4-1-1 4 2 9-2 0-2 3 1 9 4-2zm-2 208 5 0 1-1 0-2-2-2-4 2zm-1 -7 1 0 4 2 1-3-2-1-5 1zm-4 -259 5-1 1-2-2-4-5 1-1 4zm-3 60 7-1-6-6-3 3-3-4-4 2-2-1 0-4-5-1 3-5-1-2-6 1-1 7 1 0 3 6 2 0 1 5 6 0 6-2zm4 22 2 0 1-6-8-4 1-1-6-3-6 0-1 1-4-4-4-1-2 1-1 3 2 7 9-3 6 4 5-2 1 6zm-13 -105 9 9 3 0 3-3-2-6-5 0-3-1zm13 297-2 3 4-1zm-10 -6 3 0 1-5 4-1 0-3-2 1-2 2 0 1-2 0-3 4zm0 -271 0 7 3-1 2-5-4-2zm1 53 3-4-1-2-4-1-4 2 0 3zm-13 -56 3 1-2 6 4 2 3-4-1-3-4-1 4-7-8 1zm6 -30-4-2-3 1-3-3-1 1 10 8zm-3 56 0-1-10 3 5 6-1 1 0 4 7-3zm-10 68-10 1-5 14 0 4 6 0 5-7 6-4zm-11 -1-8 1-2 3 5 1 6-3zm-1 -1 0-1-4-5-3 4 0 1zm-16 -82 11 2 5-8-4-6-1-5-9-4-4 2-2 6 2 4 5 1zm-24 117-1 4 2 4 4 1 4-1 3 3-2 5 3 3-3-1-1 1 1 3 4 0 2-2 2 2 2 0 0-3 9-12-1 1-5-7 5-2-1-2 3-2-1-2 1-3 4 5 3-2 2-4-2-2-2 1-1-2-3-2-6 0-1 3 1 6-2 2 0 6-5 4 0 2 1 2-3 1-2 0 1-3-2-3-3 0zm29 -94-2 9 3 5 6-4zm-17 -37 3-5 1 0 2-7 8 4-1-5 1-6 6 3 3-5-2-1-1-2-6 0-2 2-3 0-5-2-3 1-2 3-4-2-4 2 0 4 5 1-4 7 3 7zm8 111 2-1 1-2 3 4 1-1 3 1 3-2 0-2-1-2-5 2-1-2-3 1-1-1-3-1-4 5 2 3-4 2 4 3 2-1 0-1 6-2zm8 -29-1-5-4-1-1 0 0 2 4 5zm-8 21 2-3 1-2 4 1 1-5-3-1-3 3-6 0 2 6zm2 -37-5 6 6 1 1-3zm-1 58-5 2 1 2 2 1 4-3zm-24 43 4 8 3-4 2 2 1 0 2-3-1-4 2-1-2-3 2-1 3 2 1-1 3 1 2-5-3-1 0-1-2-1-3 1-2-2-1 1-4 0 0 3 2 1-1 3-1 1-1 2-3 0zm20 -197 1-4-1-1-3 1-2 3-5 2 2 1zm0 45-8-4-3 1 0 9 6 2zm-43 37 7 7 6-4 4 1 1 11-2 0-2-1-3-5-4 0-1 1-7 4 0 2 4 3 3 0 2-3 2 3 3 0 0 4-4-2-3 3 1 2 5 3 1 6 5 2 3-4 3 3 2 0 0-5 1 0 2 2-3 3 2 4 4-5 0-4 1 1 1 0 3 2 3-3 3-5-2-3-4 2-3 4-5-1-3-3-1 0-2-5 5 3 1 0 1-6-2-1-5 4-2-1-1-3 5-2 0-5-2-2 0-1 3-4-5-3-2 1-2-3 4-2 0 4 4-1 0-3-3 0 0-2 2-1 3 2 2 0 1-2-3-5-3 0-2-1-2 6-4 4-1-2-5-4-5 4-5 2zm21 33-4-1-2-6 2-3 3-2 1 2-5 4 4 2zm-14 -33 4-2 2 1 0 2zm26 60-1 1 0 4 5 3 1-4zm-1 15 4 0 1-1 0-4-6 1zm4 -93-2-3-5 4 0 3 3 1zm-2 74-5-3-2 5 2 1zm-4 -47-3 0 0 3 5 1 1-1-1-2zm-3 -7 1 2 3 2 2 0-2-8zm-38 58 3 0 5-6 6 3 0 4 3 3 3-3 1 2-1 2 3 2 3 0 1-1 3 1 0 4 3 1 2-1 1-1 5 1-1-5-3 0-2 3-2-2 2-3 1 1 2-1 1-2-2-3-6-2-1 4 4 1 0 2-3-2-4 3-1-5-1-2-2 1-8-3 3-7-3-3-9-1-2 3 1 2-5 9zm36 -14-2 8 5 0zm-29 206-4-1-4 3 5 8 4-1 2 0 4 9-3 4 0 1 1-1 6 0 2-2 5 2-3-4 0-9 4-2 0 3 2 2 3-1 1-2 6-8 0-2 1-6-2-2-3 2 1 2-2 2-2-1 3-3-2-2-3-1-1-1-4-1-1 4-3 1-2 9-1 0-2-3 2-3 0-4-4 2-2-1-3 2zm20 4 1-2 3 0 2 2-2 4-4-2zm-1 -10 2 0 1 2-1 1zm4 -119-1 6 4 3 2-2 1-5-2-4zm5 -35 0-5-2-2-2 4 1 3zm-6 29 4-5-2-1-5 3zm-6 -72 8-1 1-2-3-2-5 0-2 4zm7 188 2 0-1-2zm2 -152-1-4-7 0-1 4 2 2 1-1 4 0zm-8 -102 5-2 2-4-6-4-2 2zm-29 165 5-1 2 2-5 5 0 1 6 3-1 3 1 3 5 1 5-1 4-3-3-5 6-1-3-2-3-2-1-4 1-1-4-5-2 5-1-2-1-1 4-3 0-1-2 0-7 3-3-2 4-4-1-2 2-2 3 2-1 2 5 2 0-4-2-1 1-4 5 3 1 3-3 1 2 5 1 0 2 0 1-3 2-1 2 6 1-1 3 1 3-5-1-1-3 0-4-1-1-5-5 0-2-4-3 0-1 2-4-1-2 2-1-1-1-4-2 0-2 1-1 2 3 2-1 3-1 0-2-3-4 1 0 5 5 0 2 4-3 1-2 6zm31 -52-4 4 1 3 5-4zm-3 24 3-2 0-3-3-2-2 6zm-3 -30 0 4 4 0 2-3-2-4zm1 -150 0-5-6-5-4 2-1 2 7 9zm-6 287-3 4 0 5 3 1 1-3 3 0 1-3zm-2 -243 0 5 6 1-4-7-1-6-1 0-5 3 0 1 2 3zm6 123-3 0-3 2 2 4 2 0 1-1zm-4 36-1 2 3 2 2 0-1-2zm0 -61-2 2 1 4 2 1 2-3zm-3 -50-2 7 3 2 3 0 2-3zm-70 195 4-2 0 5-2 1 1 5 2 1 0 5 5 0 2 2 3-9 7-1-3 4-1 0 2 4-2 3 2 0 1 6 3-2 5 2-1 1 2 4 2 2 4-3 3 1 3 2 3-1 7 4 3-7-5-1-1 0-4-2 4-2-4-4 5-1 1 3 5 0 1-6 2-1-2-4 2-3 2 1 4-1 0-5-3-3 0-1 7 0 3 0 1 1 0-2 0-1-1 1-6-6 1 0-2-1 0-7-3 2-1 0 2 6-3 2-3-1-4 2 4 9-5 0-2 2-3-2-4 3 2 3 5-2 1 3-5 1-1-1-3 3 2 4-4-1 0-3-3-3-5 0 0 3-5-1 1-4 2-1 2 1 4-1 3-2 3 0 4-5 7-5-3-4 2-5 2 0 3 2 3-3-1-4-5-2 5-1 5 3 1 0-1-6-4 1-2-4-6 5-2-1-3 0-1-6-5 0 1 5 4 1-1 6 2 2 0 2-3 3-1-1-1-3 1-2-5-3-1 1-6-3-1 0-2 3 0 2 4 4 0 2-6-1-2 6 7-2 0 4 3 4-3 2-2-1 1-4-3-1-4 4-1 1-4-2 3-8-2-3-3 0-1 5-3 2-1-1 0-4-9 2-7 5-2 6 5 3 3-1zm42 22-1 4-2-3 1-1zm19 -322 12 0 0-4-3-1-3 2-1-4-1 2-3-2zm9 248-4 2-1 3 1 0 2-1 2-4 1-5-2 2zm-7 -83-1 5 6 0 0-3zm-2 -98 1 2 6-2 0-4-3-1-4 3-2-4-2 0-1 7zm-21 116-2 4 2 1 3-1 0-3 3 0 2-4 0 11-2 1 6 4 2-2 1 0 2 4 4-4-2-2 6-3 3-9-4-1-1 1-1-2 2-3-4-1 0-3-2-1-2 2 1 6-3 3-1-3-5-1-1-3 3-2 0-3-2-1 1-1 2 0 2 4 4-4 0-1-7-4 0-2 7-1-2-6-3-1-3 5-1-1-3 1 0 2-3 2 1 2-2 3 2 3-3 5-2-1-1-3-5 0 1 3 3 2 5 5 1-2 6 0-1 2-4 1-1 2zm20 4-2 2-4-2 1-2 2-1zm-3 164-1 2-4 1-3 6 5 4 1-1 4-6 0-2 2 0 6-5zm5 -195 2 1 1 0 0-6-5 3zm1 -76-5 3 0 5 2 1 5-8zm-5 69 4 1 1-3-2-2-4 1zm-2 94 0 5 7-6-3-3-3 1zm2 -231-5 5 6 6 1-11zm-6 242 1-1 2-4-5-7 4-5 1 1 3-3-4-6-4 3-4 6 0 3 2 1-2 8 1 3zm-5 -107 2-1 2-3 5 0-3-7-3 2-4 0-1 4-2 3zm5 -63 3-2 1-6-6 1-1 3-3 0-1-3-3-1-1 1-1 5 5 0 0 3 2 2zm-8 -55-4 0 0 4 2 1 3 4 3 0 1-1-2-7 4-3-2-7-7 1 0 3zm2 42-1 6 4 0 1-4-2-3zm2 -17 2-1-2-7-3 5 0 3-4 3 1 2 1 1 5 1 2-3zm-65 72 10-9 1-1 13 9 1-1 4 1 3 6-2 5-1 1-10-6 0-3-7-4-11 9 1 2 11 4 10 5 2 0 7 4 5-3 3 1 1 7-6 3 4 5 3-1 4 1 0 2-3 1 0 3-2 1-2-1-2 0-1 3 3 2 0 4-1 1-2 2 2 3 5 2 3-6-2-2 0-5 1-1 0-2 2-2 2 3 2-1 3 1 2-4-1-2 1-5 4-1 2-3 2 0 2-2-1-1-4 0 0 2-2 0-1 2-3-4 2-5-5-1 6-4-1-2 6-5-3-4-3 0-1-1-4 4-1 1-3-1-5 3 3 3-1 5 5 0 0 1 0 2 3 3-2 1 0 4-1-1 0-2-2 0 0-3-4-5-2-8-2-4 3-5 3 3 6-3-1-3-8 2-1-2 7-5 0-2-1-4 5-1 2 5 4 1 3-7-11-5-1 0-3 7-1-1-9 7-3-8 4-8-1-3-3 0-5 5 2 6-7 2-2-2-4 0-7 4-5-12-4 1-1 9-5-3-3 5-3 0-2 3 9 11 1 1zm51 37-1-2-3-1 1-2 2 1 3 4zm-37 259-1 3 5-4 4 0 4 5 2-6-1-1-1 0 0-2 1-3 2-1 1 0 0 5 2 1 2-1-1-3 2-2-4-1 1-3 3-1 0-2 2-3 0 5 1 1-2 4 3 1 2 5 2 1 6 0 4-4 5-1-4-4-2 0-2-3-5-2-3 0-1-1 2-4-1-2 6 1-2-6-4 1-2-1-1-2 4-1 3-3 1 5 2 1 6-1-1-2 2-4 4-4 0-3 2-1 3-4-3-5 3-1-6-6 1-1-4-7-1 0-10 4 10 8-3 6-4 2 0 3-5 2-4-1-3-1-1-6-2 0-6-5 1-9-3 0-6 4 6 6 0 10-2 1-2 4 5 1 2-3 4 0-3 3 5 3-2 1-1 4-3-1-3 1-3-1-2 0-2 4 3 2 4-1-1 3-4 0 0 2 3 3 4-2 1-4 3 0 2-4 2 2 2 4-5-1-2 3 1 2-4 5-3 1-2-1 0-3-5 5 3 4-2 3-2 1-1-3-6 0-1 0 3 6zm7 -7 2-2 2 4zm13 -22 3-5 0-2 7 2-7 1 1 2zm-1 -20-3 5-2 0 1-4zm21 -360 3 1 0 2 3 1 5-3-5-6-5 2-1-3-3 0-1 6zm10 250-5 1-1 2 5 1zm-8 74 8 4 0-9-5 2zm3 -112-3 5-5-1 3 6 3 0 6-5zm-3 -151 3 0 2-3-4-2-2 4zm0 168-1 1 0 3 4 2 2-3zm2 -48 2-2-3-3-3 3zm0 59-4 4 1 3 1 0 2-2zm-1 -171-3-1-6 1 4 6 4 1 2-3zm-3 183-3 3 1 3 3-1 2-2zm1 133-2 0 0 1zm-1 -328 1 0-1-5-3-1-1 5zm1 -41-2-1-5 5 5 2 2-2zm-3 372-2 2 1 3 3 0 0-3zm-27 -144-2 7 1 0 2 2 5 1 1-5-2-2 0-2-4-2 3-4 4 3 3-1 3 4 0 1 4 3 0 2 3 1 3-6-1-1 4-6-1-4-2-2 4-3-2-4 1-2-3-2-4 6 6-2-4 4 1 2-2 1-7 0-1-6-4-2-3 2-2 4 1 2-2 3-3 0-2-3-1 0-2 2-1 4-3-2-4 1 0 2 2 3 4 1 2-1zm18 -2 1-4 1 0 1 1 0 2 1 3-3 0zm8 -236-5 0-2 4 1 3 2 1 4-4 2-2zm-8 -30-1-2-8 5 3 5 2 2 4-1 2 3 7 1 0-2-3-6-6 4zm1 350 1 3 2 1 4-2 0-3-1-1-1-6-4 3 0 4zm-1 -357 0 3 6 2 2-2 0-2-6-3zm-5 294 1-1 2 1 7-3 0-4-2-2-3 2 0 1-4 4-2-3-3-1-2 2 0 3zm0 -262 1 2 3 2 4 0 2-5-7-1zm-2 215 0 2 5 3-2 6 6 0 0-7 2-2-10-5-1 2-7-3-3 2 5 4zm-7 -195-5 2 0 2 5 3 4-2 0 6 4 1 3-2 0-1 1-4 3-1-2-7-3 2-1 3-3 1-1 2zm5 -4 3 2 4-3 0-1-3-1-4 2zm1 310-2 5 2 3 5 2 1-5-5-5 5-2 0-5-2-2-6 5 0 1zm3 -79-4 1 2 5 1 1 2-1 1-4zm-83 -210 0-1 3-1 5 4 1 0 3-4-5-5 0-1 6-3 1 2 4-1 2 2-1 3 5 2-1 3 3 3 1 1-1 3 7 2 0-1 5 2 0-1 5 1 2-4 2-1 1-6 3 2 4-4 1 2 2 1 0 4-1-1-4 3 2 5 4 0 1 1 4 1 4-9 4 4 1-5 3 1 1-1 3 2 4 0 0-5-1 0-5 0-4-1 1-5-4 0-2-6-4 6-1-2 5-5-7 0-2 0-3-1-2-3-3-2-1 0 2 6-2 1-2-2-3 4 2 4 3-5 2 5-9 2-1-2 2-5-2-2-3 0 0 2-5 1 1 4-1 1-5-2-2-2-3 3-5-2 8-3-4-5-6-2-2 1-3 6-1-3 1-5-3-1-3 2-3-3-3 0 0 5 4 1 1 1-5 3 4 3-5 0-2 4-2-4-3 1-1 2-4 2 0 2 3 0 2-1 2 3zm38 8-4-3 4 1zm5 -5-2 0-3-3 3-3 2 0zm-8 -3-1 1-4-2 5-1zm48 159-1-10-1-2-7 13 5 1zm-11 -235-1 5 7 2-3 8 3 1 4-6-4-3 1-3-2-1-3-3zm9 188-4-5-5 1-1 8 1 2 9-3zm-1 166-1-2-4 0-3-6-5 3 0 4 3 3 2 0 6 3zm-3 -142-3-3-2 0-1 5 4 2zm-24 55 0 3 3 3 5-5-2-6 4 5 2-3 3 2 2-1 3-6-1-1-1-5-6 2 0 3-6 1 0 3-3 1 1 4zm18 -42-5-4-2 0-3 1 6 6zm-7 16-3-6 0-4-7-3-2 8 3 1 4 7 2-1 3 3 2 3 4-4 1-2zm-4 -231-5 2-1 3 6 0 1 1 8 0 1-2-2-6-7 1zm-8 37 5-3 1 5 5-1 1 1-2 4-3-1-1-3-5 3 1 3 3 0 1 2 2 1 9-6-1-1 2-6-5-2 0-9-1 0-3 3-3 1-3 2-2-2-4 2-2 3 3 3zm18 155-3-2-5 3 3 7 5-2zm-17 -165 4-3 1-3 3-2 0-3 8 1 0-5-13-1-1-1-7-3-2 3 4 4-2 4 4 3-1 4zm11 84 1-4 4-3 0-1-9-2-1 12zm-3 -128 2 4 4 1 1 0zm-3 368 6-2-2 5 2 3 4-1-2-7-2 0-1-4-2-1zm0 36 4 4 5-2-1-3 1-2-4-4-3 2 0 2 6 2zm-17 -109-3 2-1 1 4 2 2-3 1 2 0 3 4 0 3 2-1 2 4 3 1 0 2-3-2-2 1-2-4-1 0-2 2 0 1 2 5 0 3 3 4 0-1-8-4 0-3-3-3 0-2-4-4 1 0 3-2-3-3 1 0 4-2 1zm14 61 4 4 6-5-3-3-6 1zm5 79-1 6 2 1 3-4-1-3zm-16 -51-9-1-5 0-1 1 3 4 3 0 2 2 0 5 2 1 3-3 0-3 3-3 3 1 7 3 3-2 2-3 1-4-6-10-5 0 0-6-2 0-4 4 3 4 1 0 4 6-1 1-3-1zm9 -41-1 3 2 1 1 6 5-8-3 0-3-3zm-4 -245-3-3-3 0-2 7 6 5-1 3-4 4 0 2 4 5 9-5-1-2 3-5-5-3-3-1 2-4 5 3 3 0 1-2-1-2-4-2 0-4-3 0zm7 319 2 0 1-3-3-3-2 1 1 4-3 0-1 1 3 5 1-1zm-3 13-2 1-1 1 2 5 2 0 4 3 1-5-4 0-2-4 6-1-1-4-1-1-5 1zm-14 -417 0-4-5-1-1 2-3 3 2 3 3 1 1 2-1 3 3 2 5-3 0-3-2-1-2-3 4 0 1 3 4-2 3 2 1-1 2 1 5-3-2-2-1-5-3-1-3 3-2-2-5 1 1-3-1-2-5 2 2 3 3 0 1 2-1 1-2-1zm17 -18-2-4-1 1-1 3zm-10 357-2 1-1 2 2 8 2 1 1-2 2 5 4-1-3-5 1-4-6-5 5-2-1-2-6 0zm-3 -137 7 5 4-2 0-5-10-2zm9 -16-1 0-6 5 6 4zm-65 246-3 9 2 1 6-2 0-2 9-1 0 2-7 5-5 3 0 3-3 1 1-4-2 0-2-2-3-1-2 3 0 5-4-2-2 0-2 4 6 4 3-2 0-2 4-2 3 3 5-1 8 4 4 1 6-9 4 0 6 5 5-1 4 1 9-7-1-4 8-4 4 6 1 0 2-4-1-4-5-1 0-3-2-7-3 1 1 6-5 0-5 6-2-1-5-4-8-5-4-4-9 1-4-3 1-8-2-5-8-2-3 3 0 8 6 5zm59 -378 3 1 2-3-7-5 0 5zm3 397 0 2 1-2zm-1 -38 2-1 0-3-6 1-1 2zm-6 -94 0 1-1 5 2 2 4-2 2-4 0-2-3-2zm6 -53-3-1-5 2 4 3-2 1 0 3 2 0 3-1 0-3 1-3zm-5 119 3 5 2-2 0-4-3-2zm1 22 3-3 0-4-4 1 0 5zm-24 -91-1 3 1 2 5-2 3 1 1-1-1-4-2 0 1-3 3 3 3 0 0-1 5 1-1-7 2-1 0-3 4 4 1-3 3-2-6-3-2 2-2-1-2 1-4-1-1-3 2-3-5-2-1 3 1 2-2 3 3 1 3 0-1 4 4 3-1 4-3-7-4 3 1 2-4 1-4 0zm23 -290-5-1 0-4-4-1-6 4 1 5 3 1 3-2 6 5 4 1 1-3-3-2zm-3 270 2 4 4-2 0-3-2-1-2 0zm5 -113 1-3-1-1-6-3-1 3 3 2-1 3zm0 -211 0-4-2-1-4 4 1 1zm-2 46 2-2-4-4-2 0-3 2-2 2 4 2 2-1zm-9 41 6-3-1-2-1-1 0-6 6 0 0-4-2-2 0-3-3-1-4 0 0 6 2 1 0 2-3 1-5-6-2 0-6-7-6 3 2 6 3 1 6 0 0 3 1 2 4 2 1 3-2 4zm-7 222 5-2 2 1 1 0 0-3 3-2 2 1 1-2-2-4-4 0-2 2-2 5-4-2-2 1 1 4zm3 -161-5 5 10 5 5-6 1-3-3-4-1-1zm8 -31-2-6-4-1-6 2 0-5-7-5-3 2 0 3-2 3 1 4 10 2 1 2 6 5zm-3 263-5 3 5 4 1-2 1-3zm-32 126 0 2 2 2 4-2 0 4-3 1-1 1 4 3-1 1 4 5 2-2 1-5 2 1 1 2 5-1 0-1-3-2 0-3-3 0-3 3-1-1 0-2 4-1 0-2 4 1 0-3 3 3 4-1-2-4 1-5 4 2 4-7-2-5-6 3-8-2 0 1 3 8-2 1-3-1-2 1 0 6-2 0-2 0 1-4-3-3 5-7-4-3-7-2 3 7-2 2 3 3zm22 -76-1 2 2 4 5-1 0-3 1-2-1-2 3-8-2-3 2-3-1-1-4-1-3 0-1 5 4 5 2 1-4 3 0 1-2 1 0-1-4-2-4 2zm-2 -256-1 1 8 9 4-5zm4 -164 1 1 4 0 1-1 0-3-4-1zm3 221 0-5-3-1-4 4 3 3-2 4 4 7 5-5zm0 -30-3-1-3 5 0 3 3 2 3 1 2-6zm-13 -42 3 5 8 4 3-3-7-12-2 1-4-8-1-3-5-2-3 6 2 3-2 4 0 5 4 1zm0 236 2 4 5-1 0-2 3-3 2-4-3-4-1 0-2 6-2 2-2-1zm10 -350-8-6-4 1-2-7-3 0-2 0-2 11 5 1 1 2 6 3 8-3zm-2 407 0-6-4-1-2 0-4 6zm-12 -240-4 4-1 2 7-1 3 3 4-6-2-4zm5 99 2 0 1-1 0-5-2-2-4 1 0 3zm-6 21 2 4 2 1 4-5-6-1zm2 -9-3 2 3 4 2-2zm-3 59-1 3 4 2 2-2-2-3 2-3-1-1-3-2-2 4zm-22 -146 3 2-3 3 4 3 0 2-5 3-1 0-1-2-10 1 0 1 1 3 6 1 3 6-2 4 13 5 3-1 0-10 9-3 4 0 2-3 1-3-1-2-7 1-3-4 6-1-3-4 5-4-2-2-1-1 2-5-5-1-2 2 1 1-1 3 1 3-3 4 0 3-7 0 0-3 2-3 1-7-3-2 2-6-2-4-2 0-2 3-2 7-2 0-1 2-3 1 2 5 3-2 2 1zm11 21-6-2 0-7 5 1 2 1zm-52 -83-2 7 3 1 1-1 4 1 4 4 1-2 2-1 3-3-1-1 6-3 1 1-5 4 1 4 4-3 0-5 2 0 2 4 5 0 3 7 4 1-2 5-4 2 2 5 9 2 0 1 8 3 3-5 8 3 4-2-2-6-3 2-6-3-1 5-9-2 0-1 8-3-5-7-4 2-4-2 0-4-2-4-1-1-1-5-3 0 0-4 0-1 6 3 0-7-6 1-2-1-4 3-6-3-1 2 1 4-1 2-3 0 0-3 1-3-3-1-4 0-1 3-4 0-3-2-4-5 3-2 4 1 1-1-1-4-4 3-4-2-2 3 0 2-1 5 1 1 0 3zm1 1 4 1 1-2 3 0 3 3-4 1-2-1-4 3zm24 2 2-5 4 3-1 2zm40 183 1-3-1-1-2-1-2 3 0 1zm-9 -176 1 6 6-1 2-4 0-2-1-1-2 0zm4 205-2 2-4-1-1 2 2 4 3 1 5-1zm-5 -17-2 8 6 5 2-5-2-2 0-1 4-1 0-2-1-2-6 0 5-2 0-3-3-1zm2 -52-2 5 3 4 2 0 2-4-2-3zm-9 -158 1 3 3 2 3 0 3-7 3-1-6-7-2 0-2 3-2 0 0-3-4-2-1-2 3-3-5-7-3 2 0 7-4 3 4 2 2-1-1 6 2 1 0 5 1 0zm6 -28 3 8 3-1-2-5-4-3zm0 -64 5-1 1-6-4 0-3-3-4 7 3 1zm-1 -31 1 1 5-7-5-4-2 6zm-5 -43 5 3 5-2-6-3zm3 22 2 10 4-3 1-3-3-5zm-7 97 2 0 5-4-4-7-1 0-1-2-4-2-2-3-3 1-1 1 0 3-1 1 5 3-1 3 6 4zm1 259 1-1 3 0 0-4-4 1-2-1-2 4zm-1 -191 5 0 0-1-1-2-5-2zm-42 -80 3 0 1-6 3-2 5 1-2 5 5 2 2 5 2 0 5 4 5 1 4 0-2-8-6 4 0-6-4 0-1-3-3 0-4-5 6 1 2-1 0-3 5 0-1 4 2 1 3-1 2-2 0-4-2-1 1-2 4 2 3-2 5 0 2-2-6-2-1 1-1 2-4-2-2 2 0-4-1-2 5 0 0-3-4 0-1 2-3-3-4-1-1 4-4 0-2 5 1 0 0 4 3 0 1 1-1 3-4-1-2 1-4-5-5 0-8 4 0 1 4 4-1 2-5-1 0 2 0 2zm24 -16 0-3-2-1 1-3 1 0 3 5-1 3zm18 -9 2-2-1-3-1-1-2-4-4 0-2-7-3-1-2 2-1 5 1 3 6-1 1 4 3 1zm-3 277 1-6-2 0-2 3zm-2 -10 0-2-3-1-2 4 0 2 2 1zm-1 -325-2-2-4-1-1 5 2 3 5 1 1 0zm-7 289 0-9 3 0 5-5-2-7-4 0-2 11-4-8-6-1-2 3 1 7 4-1 3 2 0 3-5 2 1 4 3 1zm6 -191-6 0-2 1 0 3 9 1zm-6 41 0 2 2 1 2 0 1-1 0-3-3-1zm-1 -104 2 1 4-2 0-5-7 1zm3 -52-3 4 1 3 5 0-2-7zm-13 450 4 0 2 2-4 2-1 0-1 4 1 1-3 3 1 2-4 3 1 1-2 3 1 2 6-1 0-1 2 1 4-1 0-3 4-1-1-4 3-4-2-6 2-6-2-4-3-2-2 1 0 4-2-1-2-1-4 4zm11 3-2 4-3 0 1-4zm-4 14-3-1 2-2zm2 -149-3 1 0 4 1 1 4-2 1-2 0-1zm1 59 2-1-1-5-4-3-4 4-2-1-5 2-4-2 0 9 1 0 3-1 2 1 5-2-1-1 1-3 4 0 0 1-4 4 3 2 3-1zm-12 -176 6-2 3 0 4-6-2-4-8 0-1 1 1 6 2 1 1 1-5-1zm11 135 1-2-2-4-5 4zm-6 -152 6 5 1-3-1-4-4-1zm0 310 4 5 1 0 2-4-6-2 1-6-5 0-2 2 4 6zm5 19-2-4-4 1-2 4 6 2 1 0zm-14 -108 2 6 6-4-1-3 4-1 0-3-2-5-5 4-1 3zm4 -253 0-6 1-1 2 4 2 0 2-4 0-1-9-2-1 4-2 1 0 2-4 4 1 3 3-2 2 2zm-9 292 7 1 2-5 2-2 0-3 5-3-9-5 0 1 1 5-6 3 0 3-3 3zm15 56-3-3-4 3 4 4 3-2zm-13 -166 1 0 3-4-1-2 0-2 3 1 1 2 3 0 3-1 0-4-7 2 3-5-5 0-4 1-4 3 1 2 4 1-3 4zm4 -224-7 1-1 3-6 0-2 2 1 3 1 1 7 2 1 3-1 2 3 5-4 3 0 3-1 2 2 4 4 1 2-3 1 0 3-4-2-4 8-2-6-3-3 3-2-7 1 0 3-4-3-3-5 2 0-4 5-2 2-2zm5 -95-6 2 2 2 7 1zm0 211 3-3-5-2-2 4zm3 127-3-1-6 3-1 3 2 2 3 1 2-3 3 0zm-18 -292 3 0 8-1 7-4-2-4-14-7zm18 95-2-2-5 4 5 3zm-2 323-6 3 4 4zm-23 -202-1 4 1 0 3 2 2-1 5 2 3-2-4-4 2-4 0-1 6-2-1 9 1 0 6-6-5-3 1-3-4-4-5 1-1 3-5 1-1 3 3 4 0 1zm20 91 3-3-1-3-1-1-4 4zm3 -381-1-1-3 1-3-2-1 5 1 1zm-23 231 3 5 3 1 3-3 0-2 2-1 1 3-3 5 1 2 5-5-1-1 2-1 0 1 4-2 0-1-6-2-2 1-2-4-4-2-2 0 0 4 2 0 1 2-1 1-4-2 1-1-1-4-4 4 1 2zm16 -29-2 1 1 4 3 1 2-4-2-2zm0 203 3 1 1-6-4 0-2 2-3 1-2 6 4 0zm3 124 0-7-4 0-1 3zm-1 -203-2-4-3 0-1-6-5 3 1 4-1 1 2 6 1 0 2-5 2 3zm-21 -120-1 3 1 2 3 0 6 4 2-2 2 1 3-3-3-3-4 1-1-1 2-5 5-3 1 1 3 0 2-4-6-1-5 2-1-1-2 0-3 5 0 5zm11 11 4 2 1 3 4 1-1-6-1 0-1-3-4 0zm5 26-1-1-5 3 0 8 4 3 4-6zm-4 218 3 0-1-4-4 1zm-15 -151 1 2 1 0 5-2 1 0 5-3 1 0 2-7-1-1-4 1-1 3-2 0-1 6-2-4zm2 84-1 4-2 1 1 6 4-1 3-3-1-1 1-2 4-1 4 0 1-1-1-3-3-1-4-5-2 9zm13 46-1-2-3 2 2 4 1 0zm-2 18 1-4-5-1-1 1 2 5zm-14 -198-1-1-5 2-5 12 1 1 6 1 4 1 3-7 4 5 8-4-2-7zm13 264 1-2-1-4-3 0-3 3 0 4zm-6 -179-4 4-1 0 1 8 8-4 2-1-1-4-1-2zm-3 129 7 5 2-7-8 0zm-51 31-2 3 1 3 8-1 5 4-6 2 8 4 2-1-2-4 2-4 5 1 1-3-2-3-4-1 0-2 3-1 1 2 6 2-1-3 0-2 12-1-3 15-2 0-5 4-1 6 3 4-2 3-1 0 1 9 1 0 1-7 2 0-2 7 2 1 5 4 4-1 3 4 4-3 7 2 1-3-9-6-3 1-1-2 0-3-3-5-2 4-2 1-2-5 3-2 3 2 3-2 2 5 3 2 2-8-6 0-2-7-4-3 2-3-1-12 7 13 5 1 2-3-5-2 1-2 7-8 1 11 1 0 3-1-2-10-2-1-1-1-17 1 0-7-8-11-3 4 5 8-4 0-3 1 0 4-4 0 0-3 1-1 0-7-4 2-4-1-1 3-5-2 0-4-7 3-2 0-3 3 0 2 5 3-3 5zm7 -14 1 5 5-1 2 1-1 5-4 0-3-4-2 4-2 1-1-5 2-1 0-3zm44 -489-3 1-4 2 0 4 2 1 5-1 2 3 4-1 2-5-7-2zm-34 60 6 6 1 8 6-2 4 5 2 0 4 2 5 0 0-2 10-5-9-7-3 1-7 6-2-3-3 3-4-7-3 0 2-9-6 0zm34 80-2 1 0 8 6 1 0-8 0-1zm-12 150 1 2 0 3 1 2 4-4-1-1 0-3 3 1 2-2 5-3-3-5-4 5-2 0-1-2 3-4-5-1-3 1-6-2-3 0 2 7 5 1 2 3zm11 -79-2 5 6-1 0-1-2-2zm-2 8 0 4 2 1 4-1-2-5zm-11 -160 4-3 8 4 4-4-1-2 0-10-1-1-2-6-2-1-4 7 3 2 0 6-3 0-2 2-7-4zm15 55-3-6-3 1 0 6 5 2zm-3 405 1-3-7-1-2 3 5 1zm-6 -208 1 4 5-1-4-5zm5 -153-2-4-3-1 0-5-4 2-1 3 2 2-6 1 1 3 3 3 2-3 1-3 6 3zm-1 34 1-5-3-2 3-3-6-2 1-2-3-3-3 1-1 2-2 3 4 2-1 3 5 1 0 2 3 3zm-40 231-2 8 7 1 2-1 3 2 8-6-10 1 3-4-1-5 6-2 4 2 0-9 4-1 1 4 4 1 2-3 5 2 3-4 0-2-4 0-4 3-1-2-4-1-1-3-2-2-5 5-5-4-2 2 2 7-7 4-3-1-2 7zm35 -314 3-1 1-5-2-2-2 1-3 6zm1 208-4 1 0 4 3 1 3-2zm-6 73 1 3 2 1-1 7 0 2 5 0 0-6-3-4 3-2 0-10-2 0-5 5zm6 -182-8-5-3 1-2 3 1 5 4 3 9-1zm-4 25 0-3 3 0-1-4-3-1-1 0-2-1-1-8-4 6 0 1 0 4 1 1 6-2 0 2-1 1-2 4 1 1zm-22 -97 3 1 2-4 2 3 4 1 1-3 4 0 3-3 3 0 2 0 1-3-2-1-3-1 4-4-2-3-3 0-3 2-2 2 1 3-1 0-3-1 2-2-2-4-2 3-1 4-1-2-4 4 0 1 4-1 1-1 2 2 0 1-4 3-2-1-4 1zm16 213-2 0-2 12 12-6-4-4zm6 -318-2 0-2 5 2 3 2 0 2-5zm-23 303 0 1-5-2 2-3-3-4-5 1 1 3-3 5 4 2 2 0 6 3 1 0 1-3 7-2-2-3 3-4 0-2 2-3 3 2 0 1 1 4-1 3 1 0 4-3 0-2-3-3 2-4 0-4 2-1 2-3-1-3-1-1-3-2-2-4-6 1 3 5 3 0 1 5-5-4-1 1 1 4-3 2 0 3-8 3 3 5 0 1 1 3zm16 -240-2 2 1 3 2 0 2-1 1-3-1-1 1-2-2-4-3 3zm-18 -3 2 0 0-1 1-9 5 5 7-2 2 2 4 0 1 0-3-8-3 1-6-5-8 5-5 1-2 3-2 3zm14 -58 1 0 6-2-2-5-1 0-5 5zm-1 77-2 2 1 2 3 3 1-5 0-3 2 1 1-2-1-3-4-2 2 6zm1 39-5 0 0 4 4-1 2 2 3-4-2-3zm-2 10 3 0 2-3-2-1-1 0-2 1zm-1 1-2 3 2 3 1 1 4-5zm-3 227 2 5 4 1 2-4-1-4-3 0zm5 -148 2-3-2-3-4 2 0 2zm-13 14 2-2 2 3 3-2 5 2 3-4-4-4-4 3-3-1-3 2-6-2 0 4 2 1zm6 -255-1 2 0 1 9 3 1-2-4-5zm3 147 1 2 3 0 1-6-4 3zm0 -46 3 2 1-4-4 0zm0 251-8 4-1-1-1-5-5-3-2 3 0 1 5 4-4 2-4 5 13 0 2 1 7 2 1-1zm-6 170 3 4 5-1-2-3 2-2-2-2zm8 -363-3-4-2 5 4 2zm-9 -123-1-6-6 5 3 4 8 6 5-1 0-5-6-4zm-21 80 6 9 3-2 0-3 1-1 1-3-2-2 0-2 2 0 2-6 2 3-1 2 3 4 2 0 2-3 5 2 3 0 0-5-4-2 2-5-4-4-2 3 1 2-2 2-1 0-2-3-4 1-1 2-7 3 0-2-4-1 0-3-5 0 0 2 2 2 1 4-3 2zm5 -8 1 1-4 4-2-3zm19 57-2 4 2 3 5-2zm4 277 0-7-5 0 4 7zm-11 -40 0-1 4 0 5 2 0-4 2-5-3-2-4 1 0 2-4 3-2-2-3 1-1 2zm5 -98-5 1-2 4 7 2 2 3 3-1-3-8zm2 -186 0-3-5 1 1 4-1 3 1 2 2 0 2-2 3 0 0-4zm-2 157-4-1 1 16 4 0 4-10zm-2 -253 5 2 2-2-4-6-3 5zm6 347-4 1-6-2-3 1 2 4-2 6 8 1 0-4 3-2zm-4 -156 2-4-5-4-1 0 2 8zm1 6-6 1 1 3 3 2zm-4 -86-3 1-1 2 0 2 4 1 2-1zm-3 -146-3 3 2 4 5-2zm0 251-2 4 1 2 2 0 3-2 0-2zm-3 -224-3-8 1 0 6 5 2-2 1-8-4-2-1-5-9 0-4 7 2 5-2 3 1 1 2 4zm0 151-1 4-2 2 3 3 3 1 1-2-1-3 1-3-3-3zm4 -8-6-1-2 2 2 3 1 0zm-8 231 2 4 4 0 1-1 1-5-7-2zm4 -264-1 3 4 2 1-4-2-1zm-6 46-6 1 1 3 5 2-3 4 3 4 4-2 0-1 4-2 1-3-7 0-2-1 2-4zm-21 271 2 5 0 4 4 6-6-1-2 0-2-1-4 1 0 2-2 0-1-1 1-5-5-1-2 3 1 3 0 2 1 2 5 2 0 3 4 1-1-8 3 1-1 2 2 3-1 1 1 4 6 3 1-1 7 9 4-1 2 3 3 0 8-3-9-5-2 1-3-4 1-3 5-6 1-4 1-1-7-10-4 1-5-2 4-4-2-3-6-2zm26 -123-4 3 0 4 1 2 5-2-1-6zm-31 -232 5 6 6-1 0-4 4 2 5 0 5-5-1-4-4 0-7 3 0-6 5-6 10 0 3-2 1-7-2-3-5-1-4 1-4-2-3-4-1 0-3 2 2-5-5-3 1 5-1 2 0 4 3 3-3 4 1 2 3 2-2 2-1 4-2 4 1 4 3 2-6 4 1-6-3-1-1-5-5 2-2 3 2 5zm28 52-5-1-2 1 2 4-1 5 4 1 0-4 4 0 1-3zm-3 60 5-4-7-1-3 3 1 1zm4 -102-1-3 2-4-1-1-8 3-2 3 0 4 2 1 7-1zm-6 -60 0 2-2 0 1 4 2 2 3-4 0-6 1-5-6-4 0 5-3-3-3 2 1 3 2 1 2 3zm-10 126 0 3 2 2 2-1 2-2 3 2 1 2 3 2 0-4 2-1 0-3-4-3-1 2-2 0-2 1-1-2 2-2 5 1 0-1-4-5-2 0-1-4-4 0-1-4-4 3 3 3 0 2 5 1-3 4 3 2-2 2-2-1 1-2-4-1-4 4 3 1zm10 96 4-2-4-3zm2 162-3 1-3 5 0 3 2 2 3-1 2-2zm-2 -230 3-3-1-2-3-1-2-2-3 2-2-2-1 4-5-1-1 3 4 2 3-2 2 2 2-2zm-1 39-4-4-2 0-4 4zm-7 9 5-1 1-2-1-2-4-1zm-17 -108 1 0 6 4 2 3 3-1 4 2 6-1 1-3-5-2-2 1-2-2-3 1-2-2-7-1 0-2 3-1 0-3-4-3-2 2-1 2-2 2 0 2-2 1 2 5zm22 14 1-2-3-1-1 1-2 3 3 2zm-3 34 3-2 0-1-3-2-3 4zm-6 96 3-6 0-5 3-2-1-8-5 1-1 5 0 2-2 1-3 6 0 3 4 4zm0 -243-1 6 1 2 6 0zm-20 -20-2 2 2 2 4 2-1 3 2 2 4 2 2-4 6 0-1-4 4-1 1 1 3-1 2-5-6-2-3-3-3 2 0 7-1 1-4-1 0-6-3 0-1 3zm23 192 3-9-3 0-3 5zm-3 -162-1 6 4 0 0-4zm-12 454 2 4 4-1 3 1 3-8-4-5-6-1 1-1-2-2-4-2-3 5 7 1 1 6zm11 -99-4-8-14 7 3 7 7 5 4-2 5-4zm-4 -269 2 2 2-1-1-6-1-1-2 1zm-11 206 6 0 1-1 7-2-9-7-4 0-1 1zm-9 -140 9 6 3-5 3 8 7-4 0-4-2-2-1 0-4-2-2-5-2-2-4-1-2-2-7 2-2 3 3 6 7-3 3 1 1 3zm3 356 1-5 4 3 7 2 2-3 1 2 3-2-4-6-6-1-1 1-5 0-2 2-3 0-1 5-3 0-1 2-6 5 3 5 1 0 0-3 9-5 1 0zm10 -30 0 2 3 5 4-5 0-2-5-1zm-23 -303-3 12 5 5 3 2 2 0 9 5 4 0 2 1 5-2 3-4-6-11 0-2-3-2 0-13-8-1 8 14-5 1-4-3-7 0-4-3 6-9-1-2-8-4-7 10-3 0 2-15-1-1-5 0-6 7-2 7 8 4 0 9 4 2 9-8zm22 -108 6 1 2-1-2-2-1-1-2-2 1-2-3-2-3 5zm4 398-3-1-1 6 2 5 5-2 0-1-5-2 4-2zm3 -329-3-4 0-5-7 1-3 4 1 3 6 4 4 0zm-28 271 4 2-4 5 4 3-5 4 3 2 2 7 4 1 2-1 4 4 2 0 3 2 8-1-3-5-4-2-1 1-3-5-1 0-5 2-3-5-1-4 1-5 2 0 3-8-3-7-6 4-2 1zm-155 -396 3 4 0 3 4 3 4-2-1-4 1-2-2-8 0-2-3-3 4-8-2-3 7 1-2-4 2-4 3 0-1 6 3 1 1-2 4-1 4 4 6 3 1 0 1-1-1-2 1-7-4 3 0 1-3 0-1-2 2-3 2 0 2-5-1-3 1-5 3-1 0 4 2 1 3-2 0 6-5-1-2 2 4 5 0 7 2 1-1 8-3-3-7 4 0 3 3 1 7-3 0-1 6-3 0 6-1 1-2 3-3 1 1 3 3 0 1-2 6 2-3-7 4 0 2 4 3 0 2 1-2 8 6-5 3 3-2 2 0 5-3 3 3 8 1 2 4-1 2 1 7-3-2-12-6 7-4-4 9-4 5 0 6 1 8-3 2 0 5-8 4 1 1-4 7-3 1 9 2 4-4 3-4-2-8 4-2 0-2 4 5 10 4-2 1-3 4-3 1 1 2 4-6 2 1 4-1 1 1 6 4-2 0-4 5-5 5 3 7 3 5-3-3-5 0-3-6 1 0-5 6 0 7 2 0 2 3 1 0 7 4-2 4 1 3-8-2-5-6-3 1-2 1-6-5-4-8 5-1-1 2-9 16 1-1 7 2 1 1 4 2 1 3-4 1 1 4-3-3-3 0-1-1-4-3-2-4 2 1-9 5-1 3-4 7 1 2-1 0-1-4-1 3-7-1-5-4 1-1-1-3 2-2-1 0-3-3-2 3-3 1 4 4 3 3-3 0-4-4-1 1-4-4-3 4-2 1 4 4-2 4 3 9-6-1-6-4 4-6-1-4 3-8-2-1 1 0-1-4 0-4-4-1 6-6-3-3 3 5 6 4-6 2 2 5 0 1 0-9 9 0 2 3 2 2 4-6 4 1-9-7 4-2-1-4 4-2 0-1-2 2-7-7-4-1 2 0 6-1 6-3 1-1 2 2 4 5 1 2 4 6-1 1-1 10-3 0-2 6 1 1-3 6 0 2-2 1 1-1 3-1 3-4-2-4 2-2 5-3 0-2 2-7 0-2-3-4 10-17 0-3-5 6-4 1-3-1-2-3 0-2-2 4-5-3-4 5-1 1-4-3-4-1-1-1 1-2 5 1 4-4 6 1 2-2 5-3-2-4 0 1-4 3 0 3-2-1-1 6-3-7-2 0-1-3-2-3 4 2 3-1 2-3-1-2 3 3 3-7 1 1 2 3 3 4-1 2 3-7 3 0-2-3-2-5 1 0 1 1 2 5 1 1 0 3 4 4-1 2 3-5 2-1 0-1-2-8-1 0-2-4-5 0-1-2-4-1 0-2-3-3 0-2 3-6 0-4-3-5 2-1-1-2-7-3 0-2 6-4-1-1-1 3-3 2-1-2-6-3 1-2-6 4 1 2-2 0-3 4-4 2 5 5-3 2 3 1 1 1-4 3 2-4 2 0 2 4 3 2-1 0-4 3-1 2-4-4-2-2 3-4-4 2-2 0-2 3-3 0 3 3 0 0 2 4 1 2-4 1-4 4 2 4-3 3 1 2-3 2-1 0-2-2-8-1-2-5 0-4-2-6 2-6 0-3 4-1-4-3 4-8-1-1-2-4 2 4 1 0 1-8 0 1-3 2 0-3-1-5 4-3-2 1 3 3 2 3 0 3 4 2 0 1 8-5 1-1 3-5-3-3 3-1 4-6 1 0 2-2 0-2-1-3 3 0 3-5 2-2-1-3 4-4-1-3 2 1 8-2 3-3-2-7 6-2 3 4 2-1 12zm88 -7 0 6-4 2 0-8zm-8 -54-1-1-2-5 0-1 3-3 6 0-2 7zm-2 53 0-6 3 2 1 4-3 1zm-19 -8 1-2 4 1 2 6 3-2 1-2 3 3-3 7-3-1-2-3 1-2zm7 -47-1 3-2 0 0-5 1 0zm-8 48 2 6-3-1-2-1zm-1 -47-4-2 3-3 3 3 0 2zm-14 19 1-5 2 0 0 2zm-21 10-3 2-1-1 2-3zm156 358 3-5-4-4-8 1 2 3 2 6zm1 -75-6-2 0 4 5 0zm-1 -164-1-4-4 1 0 4zm-2 5-5 2 1 3 4 1 1-5zm-5 -102 0 4 4-1 1-1-2-4zm-15 104 0-1-6 1-1 2 2 2 0 3 5 2 2 3 5-4 2 4 3 2 6-1-1-5-2-2-3 0-2 0-3 1 0-2 2-2-2-2 1-2 0-2-2-1-2 1-1 4zm-2 -53 1 3 4 1-3 3 0 3 4 0 2-1-3-5 2-2 2 2 3-2-3-3 4-2 4 1 2-2-2-4-3-2-3 3-2-1 1-6-5 1-1-2-4 1 2-4-4-1 1 6-2 4 1 1 5 0 2 2-4 2zm14 220 5 2-1-7-4 3zm2 -261 3-1-3-5-2 0-1 4zm2 290-3-2-4 2 2 3 1 0zm0 -231-1-1-4 0-1 3-1 0-2 3 4 1 2-2zm0 422-2-2-5 3 0 1-3 4 1 2 1 0 4-2 3-3zm-2 20 1 0 0-2zm-3 -458-2 3 3 3 2-2-1-4zm-3 80 2-2 4 1 0-10-2-1-4 3 1 7-6-4 2-3-3-6-6 7 2 4 0 1 2 4zm3 -130 2-3-1-4-3 2-2 3zm-3 320-6 1-1 2 2 7-2 3 0 5 3 3 7-8-1-4 3-4-1-3zm-5 131-3-1-4 5 2 1 5-1 0-4 8 3 1-1-1-5-2-2-4 1zm9 -167-2-1-4 2 1 3 3 3zm-14 74 8 9 6-7-5-4-1-3-7 2zm6 -271-1 3 3 1 4-3-4-4-4-1-1 2zm6 155 0-4-4-2-5 3 1 4 2 0zm-2 -216-1-1-5 4 0 1 4 2 2-2zm-1 458-4 0-1 3 1 2 4 0zm-98 -145 4 1 2 4 5-4-1 5-2 0-1 6 5 0 0 6 2 0 5-1 6 2 2-1 7 0 4-8 2-1 6-9 5-9-5-6 4-8-2-4 2-3 2 4 12-2 1 3 14 0 5-3 0-1-17-9 5-2 13 2 1-1 10 1 1-4-4-4-6 1-5-7-4 2-2-1-3 0-2-4-4-1-3 16 1 2-1 3-9-1-5-7-4 0-3 1 0 1 1 4 3 3-8 8-3 5-4 3 0 9-9 2 0 3-2 1-11-1-5-3zm18 6 8 1 2 4-2 4-3-4-5-1 0-1zm73 -74-1 0-1 4 4 1 1-2zm-6 -208 4 0 1 2 2 0 2-3-7-5-8 0-2 6 4 4-3 1-1 2 1 1 4 0 1-2 3 1 2-2zm5 27-1 3 4 2 1-5zm-8 136 0-2-1-4 3-2 5-1-3-4 5-3 1-4-5-5-4 5 0 5-2 2-5 1-3-2-2 9 4 2 2 0zm6 -170 2-1-1-3-3-2-1 3zm-13 350 0 2 6 6 3 1 5-3-3-7-5-3-1 0zm8 -128 2 4 2-1-1-4 2-1-2-4-4 3-2-1-3 7 5 4 2-2-2-3zm-33 -225 6 0 0 4 4 3 3-5 2 0 1 7 4-7 1 0-1 5-3 2 6 3 1-1-1-3 2-1-3-5 3-3-1-3 3-1 2 8 3-2-1-3 2-3 2 1 2-1 1-4-7-2-1 1-3-2-4-5-3 5-4 2 0 1 2 4 2 1 0 5-4 0 1-5-3 0-2 2-3-3-3 1-2-2-3 0-2 3zm22 -9-1 2 0-3zm3 227 5-5 1 0 0 3 1 2 4 0 1-1-3-5 1-3-5-3-1 0-1 3-3 2-1 2-1 4zm7 -180 3 0 1-1 0-3-2-2-2 0-2 3-2 0-3 2 1 4 2 2 3-2zm0 305 4-1-4-5-2 0-1 2zm-2 -144 1 0 3-1 1-5-2-1zm-15 269-3 5 4-1 3 2 6-2 3-3 6-2-1-4 0-2-10 2 0-1-10-3zm13 -173-5 8 4 1 6-1 0-4zm5 -268 0-3-4-1-2 5 3 1zm-8 424 6 2 1-1 0-2-3-2zm-11 -70 0 8 2 1 4-1 3 4 5-1 3-3-8-3-1-1zm5 -487 9 2 2 0-9-5-2-1zm-3 140-4-3-3 2-1 3 2 3 3-1 1 1 8-2 5-5-1-3-3 5-2-3-1-3 2 0 1-3 2 1 3-4-2-1-3 0 0-2 3-2-4-3-4 1 0 2 1 5 3 1 0 1-5 2-1 2 2 3zm11 147-2-3-4 2 4 4zm-6 14 3-1 2-4-4-2-2 6zm-2 230 1-3 0-2-6 0 3 5zm-10 -25 6 4 5-5-3-8-8 9-1-5-7 0-2-8-1-13-8 6-3 7 1 1 2 7 5 1 3 2 2-1 6 5zm-15 47-2-2 4-1 3-3 0 6 3 1-2 6-3-2-4 1 0 3 3 2 4-2 4 0 3 5 2 0 3-2 3-8-3-1-2 1-5-3 4-2 3 2 6-3-5-5 7-5 0-3-1-2-6 3 5-4-3-1-3 0 0 5-6 2-3 3-4 2-4-2 0-7-1-1-1 2-1 7-2 1-7 5 4 3 2 5 2-1zm21 -268-1 4 3 2 2-2 1-1zm3 -132-2 0-1-3-3-1-4 4 1 2 3 4 5 3 2-6zm-14 67 1 10 1 4 5 1 6 3 2-4-8-10 0-5zm7 4-1 7-3-1zm-2 -224 0 2 6 4 3 1 1-5-7-4 0-3-5-1 0 5zm8 424-2-11-8 3 0 8zm-40 -283 7-4 0 1-2 2-4 2 3 4 5 4 7 1 2 2 2-5-2-2 0-1 7-5-1-2 4-2 0-2 3-2 3 3 4-6-6 0 3-5 0-5-4-3-2 3-2 0-1 1 2 3 0 1 3 5-1 2-6-1-1 0-2-1-1-4-4 3-1 2 3 2 0 2-1 1-3-4-3 3-3-1-1 4-5-3-4 4zm20 1-1-3 3-2zm15 39-3 5 3 4 2-2 0-4zm-9 349-2 1 1 6 2 1 4-5 2 0 2-3 2-4-2-3-2 1-6-3-1 1 1 3 3 1-1 3zm10 -356 0-3-3-2-2 1 2 5zm-1 107-4 0-1 2 5 2zm-12 42-5 5 8 2 2 2 6-2 1-1-5-7-3 2zm1 267 2-3-1-2 8-5 0-1-2 0-1 3-4-2-3 0-2-1-5 4 3 3 3 1 0 2zm7 -379 2-7-2-7-3-1-4-6-9-2 1 4 10 5-3 3-3 6 1 2zm-30 39 0 3 5 4-1-6 3 0 2-2-1-2 6-11 8 3 4 3-2 3 0 2 3 1 3-5-2-2 1-3-1-1 0-3-8-2 4-12-6-4-2 1-10-7-1 0-5 7 3 4 5 5 0 6-6 3-1 4-6 7zm22 -76-1 1-2 5 7 2 3-5 0-6 1-1 0-6-4 0-1 4-4-3 1 4-4 1zm1 0 1-3 2-1-1 5zm0 111 3 2 1 0 1-1 1-2-3-4-3 2zm-7 -274-4 1-1 3 3 1-1 2 2 2 5-3-4-2 0-3 7 1-2-6 4-2 0-2 3-1 0-3-2-1-1-3-6 0 2 5-3 1-3-4-5 5 0 1 7 2-2 4zm7 556-4 3 0 3-1 1 1 5 5-3 2 1 1 0zm-9 -293 1 0 5 1 1 3 3 0 3-4-2-2 1-4-4-1 1-6-5 1-1 1 0 2 2 4-3 1-3-4-1 0-2 7zm7 163 2-4-2-3-5 1-1 9 3 4 3-2 1-2zm-2 -325 4-2-1-3-4 0-1 2zm0 413-2 5 5 0-1-5zm3 -16-2-3-9 0-1 4 7 4 2-1zm-6 -519 2 3 3-2-4-2-2 0zm3 256-6 0 0 4 6 3 2-4zm-23 283 1 3-5 5 8 5 2-7 5-1 1-2 6 0 1-1 0-6 2-1 2-3-5-3-1 1-2 3-3 9-4-8 1-2-3-6-8 9 0 4zm-34 -431 3-8-4-7-7 4-1 11 8 1 3 8 6 4 3-1 3 2 3 7 6 4 3-1 9 4-5 8 9-3-1-3 6-2 0-2-6-3 4-3 3 4 4-2 2 3 5 0 0-2-2-3 0-4 1 0-3-7-8 4 1-4 4-2 3-3-1-3-7 2-1 3-3 0 0-2 2-3-1-1 3-3 6 1 0-7-3-4-6 2-6 6-1 1-8 0 0-3-8-4 2 7-4 3-6 0zm16 -1 6 3 0 4-4 0zm17 20-6 1-6-5 4-7 7-4 4 3-1 6 1 1zm23 63-9 0 6 7 2-2zm-8 120 3-1 2-3-2-1-5 2zm-1 -303 6 1-2-6-3-1-1 1zm0 454-3 2-1 5 9 0 0-1 0-3zm0 125 3-3 0-5-2-1-6 4 2 5zm0 -273-9 1 0 5 3 1 4-1 2 0 3-1 0-2zm-2 288 2-3-2-3-3 1 0 5zm-13 13 1 7 2 2 11-4 0-1-2-1 1-2-2-4-3 0 1 5-4-1 0-1 3-4 0-3-1 0-2-4-1-1-4 2 2 4-2 2-3-1-3 6 1 1 4-1zm10 -53-1 0-5 4 3 5 7 1zm1 -251 0-3-1-1-4 0-2 2 2 5zm-2 -272-2 1-2 7 5-3zm1 126-4-5-5 1-2 1 1 5 5 1zm-6 129 3 3 1-1 0-4-2 0zm-7 135 0 2 2 2 3 2 5-4-1-2zm2 -90 4 2 3-2-1-6-1-1-3 0-2 4-5 0 0 7 1 1zm-3 -36 1 5 5-2 3-3-1-3-1 0-3 0-1 2-2 1 0-5-1-1-3 4zm2 -265 2 2-4 0-1 2 3 4 4-5 2-4-1-2-2 0-2-3-3-1-5-3-3 9 4 2 2-1zm-1 524-4 7 2 1 7-2 2-1-5-6zm2 -281-1 4 4 2 1-4zm-3 299-2 2 8 4-1-8zm-3 -487 2 1-1 6 7 2 0-8-2-1 1-2-4-9zm-9 111 15 3 2-8-10-4zm9 -179 3 2 4-1 1-4-1-1-2 0-3 1zm-7 432 2 4 3 2 4-1-1 2-4 2-3-3-2 1-1-5-2 0-3 4 0 3 4 3 2-2 5 1 6 4 4-3 0-3-4-5 0-3 2-1 3-7-7-3-1 1 0 7-4-2-1 1zm13 -91-2-2-3 1-1 6 4-1zm-11 118-2 1-2 6 14 1 0-2zm2 -157 6-4 2-6-6-2-7 0-1 2-2 3 3 4 0 4zm-2 202 4-5 5-10-1-3-8-1-2-2 3-7-7-6-5 7 1 5-6 8 1 4 0 5 8 9zm-11 -301 2 7 3 3 1 0-1-13 9 11 6-10-15-3-3-1zm15 66-2 0-1 2 1 3 4-1zm-10 138 3 6 5-1 0-4-5 1 4-4 2 0 2-5-7 0 0 3-3 1-2-2-4 0 0 5zm9 181-7 1 6 3zm-1 -337-3-7-5 0 2 10 5 0zm-7 195-1 3 1 3 5 0 1-5 0-1zm6 -425-4-5-2 1 2 6 1 0zm-10 138-3 8 1 2 5 2 6-3zm-20 186 1 6-6 1-2 3 5 3 4-2 1 3 6 2 5-3 7-3-2-7 4-6 4 3 1-7-3 0 0-4 2-4 0-1-4 0-4 3 0 2-4 1 0 2-4 5-3-5 6-3-1-5-3-4-5 9-4-8-6 6 1 4 3 1 6-1-1 8zm16 166-15 11 0 5 4 1-6 13-5 3 0 2 7 8-2 3 3 7 5-2 1 6 6-1 3 3 3-8 3-1 0-7-5 1-1-3 5-1-6-6 5-1 1 7 1 1 4-6-4-4 1-4-2-3 2-1 2-1 2-2-2-7-4-4-4 4-9 5-2-2 2-5-1-4 14 1 1-5-1-5zm-8 48-2-4 0-11-1-1 5-10 5 0 1 3-4 8-3 1 5 7-1 2 3 5-4 1zm-5 -150 6 2 1 1-4 2 3 4 1 1 0 5 3 0 4 4 6 0 3-5-2-4-1 0-4 1 1-2-2-2 1-2-3-1-2 2-2-2 2-2-1-3 2-1 1-4-2-1-3 0 4-4-6 0 1 4-3 3-2-1-3 3zm8 10 4 1-1 2zm9 165 0 2 5 3-4-6 0-2 4-4 0-2-8 0 1 3-3 2 0 4zm4 -316 1-4-4-3-3 5 1 2zm-5 51-1 0 2 7 4-2zm-2 -7 4 0 3-2 0-1-2-3-12-4 0 2 1 4 5-2zm5 -125 0-5-4-4-5-1-5 5-1 6 2 2 9 2zm-3 44-5 0-1 1 2 5 6-2 0-2zm-8 236 9-1-1-4 0-5-4-1-2-3-5 2-1 1 5 2 0 3-2 2zm9 -98-4 0-2 5-3 0-1 2 2 4 3-1 2-2 1 0zm-6 -109 6 1-2-7-1 0zm3 314-1-2-7 0-1 4 5 2zm-27 -355 2-7 4-3 3 2 4-1 2 3 6 2 1-2 4-4-2-4-3 0-7-4-4 2-3 5-4-3-8 2-6 1 0 6 6 5zm21 163 1 2 4 0-1-4zm1 -120-8 2 0 1 2 4 3-1 4 4 1 0 1-2-2-5 0-1zm2 213-3-2-8 10 4 5 3 1zm-11 -58-1 8 1 0 5-1 0-5zm-1 92 2 1 4-1 0-3-7-1zm-14 -181-2 0 0 7 7-3 2 0-2-8 5-2 5 0 4-2 0-5-1-2 1-12-1-2-2-1-3 1-3-6-1 0-7 8 1 5-7 6-1 3 7 8zm9 142 10-8-4-4zm2 -23-1 2 0 2 4 3 3-3 0-6-1 0zm-6 -380 6 4 1-4-1-4-3-1 4-2 0 1 2 1 3-4-6-2 1-6-4-1-1 0-2 4 3 3-4 4 0 6-5-1-4 4 6 2zm-14 343 0 2-3 1-1 6 9-7 1 1-3 5 1 5 5-2-1-3 3-3 1 1 2-1 3 1 1-4 2 1 4-1 0-1-4-3-2 2-4-4-3 4-4-3 1-1 2-6-3 0-7 2 0 2-4 2-1 1zm24 -37 0-1-2-3-5 1 1 5 4 0zm-3 140-3 0-2 3 0 4 4 0 4-4zm-4 -76 5-1 0-1-2-2-2 0-2 0zm1 -35-3 4 3 1 2-4zm2 -57-6-3-3 2 1 2 3 2zm-3 -102 3-1-6-9-3 0-1 3 4 6zm-2 157 3-1 1-1-3-1-2 1zm0 -16 3-9-2-1-2-2-4 2 1 5 3 4zm2 -98 1-3-5-2-5 1-2 2-1 4 2 1 5-1 3 1zm0 -8 0-3-2-1-4 2 1 2 3 1zm-30 202 3 4 8-3 1 1 9 1 8-5-1-8-2-2-12 6-3 4-7-6-5 3zm29 -51-4-2-2 3-3 0-1 4 4 1 2-3 2 0zm-4 -439 4-3-3-4-5-1-2 4zm-17 525 7 10 5 2-1 4 1 1 2-1 6 0 0-2-6-5 5-3-3-4-6 1-2-2-1-1-4-3-2 3zm13 -165 3 6 2 0 0-6-3-1zm4 -291 0-5-2-2 1-3-4 0 0-1 4 0 1-3-1-1-4 1-3-2-3 2 2 6 2 0 2 2 0 4zm-6 -59 0-3 2 2 2-2-2-6-2 0 0-5-4 0-2 1-4-1-3 3 3 3 4 0 1 2-6 0-2 2 4 2 3 1 3 2zm-4 267 6 1 1-2-5-5-3 1zm-7 105 3 2 2 1 2-6 3 1-4 5 7 1 0-2-2-4 1-5-6-1 0-3-2-1-3 0-1-1-5 2 0 3 2 1 2 4-1 2-4 2 6 5 1-3zm-7 -87 4 1-1 2 4 2 1 5-1 1 2 3 3 1 7-3-5-4 0-2 3-3-4-4-4 1-2 2-1-2 0-2-1-1-5 1 0-2 3-1 1-3-4-5-2 1-1 3 2 3-5 0-1 4-1 1 0 2 6 3zm13 -254 0 2 5 2 1-2-3-4zm-16 -59 1 2-6 4 2 4 2 0 6-4 5 4 3 0 5-3 1-1-1-2 4-3-6 1-5 0-2-2-6-1 0-2-2 1-1-4-4 5zm3 486-5-6-4 2-2-1-6 4 10 8 7-2 6 3 10-7 0-2-13-3zm11 -393-1-8-3 0-5-3-2 2 0 4 2 4 5 4 3-1zm-3 -39-6 2-1 2 5 2 3-3 0-2zm-3 15-6 2 4 4 4-4zm-4 308 1 3 5-1-2-4-1-1 3-2-1-5-3 1-2 4-2-1 0-2-2-3-2 1-1 7 2 4zm-2 -52 0 5 6-3 0-1-5-2zm-9 26 2 5 6 1 3-5-1-5zm10 -69 1-2-5 0 2 3 0 2zm0 7-3-3-1 2 2 2zm-5 101-1 3 3 4 2-3-2-6zm-1 23 4-1 0-5-2 0-5 2zm4 123-2 0-3-1 5 4zm-1 -435 0-8-6 0-1 3 3 6zm-12 -56 0-6 2-3 4 1 0 2 4 0 1-2-1-2 0-5-4-3 3-5-3-3-8 0-3 4 6 5-9 8-2 5 2 5 7 0zm11 341-2-7-4 4 2 3zm-6 -394 0 3 2 2 4-3-1-2-2 1zm4 138-11 0-1 3 3 3-1 3 2 0 5-1 4 1zm-2 328-3 0-1 9 2 1 3-5 0-3zm1 67-3-4-4 2-1 4 1 2-2 2 3 2 3 0 2 1 0-1-2-3zm-12 -120 2 1 2 0 3 1 4-3 1-2-1-2-4 0-1-1-3 3-3 1zm6 40-1 3-3 2 0 1 8-4-2-3zm-10 16 2 2 8 2 1-7-3-2-1 1zm6 51-3 4 4 2 4-3 0-1zm-2 -89 7-3 0-5-4-4-3 3-5-2-3 5 2 3 5 2zm1 -432 4 2 2-2-1-2-4-1zm5 106-3-1-3 4-5 2-2 9 2 2 3 0 4-1 3-4-1-5 1-1zm-9 399 5-6-3-4-3 9zm-15 -489 2 4 8 3 6-7-4-3 0-3 5 3 1-2 1-5-2-2-3 1 0-9-4 3 0 2 2 2-2 1 0-2-4 0-1 3 4 1 1 2-4 3-6-2-1 1zm10 -3-2 3-3-2 1-2zm6 499 0-2-6-1-2 4 1 2 2 2zm-1 -362-4-2-2 2 2 6 1-1zm-58 -129 2 1-1 5 2 2 0 2-1 2-2 0-1-5-2 0-3 5 0 1 2 1 4 6 3-3 3 0 3-5 1 5-3 1 1 6-1 3 3 3-3 7 4 3-1 9 7 3 4-6 0-1-6-7 2-3-4-4 3-3 0-3-4-2 4-4 5 4 3-5 5 2-3 6 4 1 5-2 1-2-3-6 2-7 4 0 2 2 9 2-3 4 0 3-7-4-1 7 8-2 2 0 7 0 1-11-4 0-7-4-7 2 1-4-4-6-8-1-3 6 6 0 3 5-5 4-3 0-5-7 0-8-7 2-2-1-3 2-6-7-2 2-3 5zm10 10-3-3 0-3 2-2 3 7zm-19 49 4 0 2 2 3 0-2 3 5 3-1 1 3 5 2 0 4-2 3 0 4-5 9 4 3-4-3-6 2-5 1 0 3 9 2-3-1-9 3 0 7-10-1 8 4 2 5-6 4 0 1-5-1-4-5-3 2-4-4-2 0-1-6 0-2 1-3 0-1 3 8 9-1 1-11 0-1-6-6-1 0-7-7 4 0 4 3 1 1 5 2 1 8-1-8 3-2 8-4 2 0 2-3 5-4 0-5 1-2-10-4 3-2 0-4 4 0-8-5 2zm21 38 2-1-2-6 6-2-7-5 0 7-2 0-2 4-2 0-2 3 0 3 3 0 3 5-2 3-1 3 11 3 0-2-5-7 8-3 0 2 11 14 3-4-1-7 4-4 2-5 7-1-2-6 9-5-3-5 2-3 3-3-1-3-6-5-4 6-1 1-1 7-5 3-6 0 2 10-4 6-7-1-2 2zm38 402-4 0-3 3-2-1-1 0-1 5 4-1 5 4 0-5 3-2zm-1 -525 1 1 1-4-1 0zm0 505-1-2-4-1 2 5zm-3 -22 2-2 0-6-2 2-3 5 0 1zm0 15 1-3-1-5-6 1-2 4 2 6 3 0zm-4 -350-1 0-1 8 3-3 1 3zm-6 -137 5-2-2-3-2 0-2 1zm-3 -3-3 2 1 5 2 1 2-3zm-8 -2 5 1 0-1-4-2-1 1zm-10 11 7-3 0-1-2-2-2 3-2-1-1 1-1-2-4 5zm-7 131 0 1 1 2 1-1zm-13 -19-2 3 2 5 3 0 2-5 2-2 0-3-1-1-1-4 4-2-3-5-5-1-2 3-3 0-1 2-3 1 0 4 2 1 1 3 4 0zm-2 -8 2-1 2 1 0 4-3 0-1-2zm9 -21-2-1-4 1 0 2-1 3 4 4 3 0 0-1-2-4zm-11 -31 4 3 7-3 0-7-3-2-1 1zm7 -17 0-6-2 0-4 3-3 4 1 3 8 2 2-4zm-24 51 0 3 6 1 0 1 5 1-3 4-1-1-2 6 4 3 4-2-2-5-2-1 6-4-3-3 2-3-1-2-4 1-2 3-2-4-2-1zm6 40 2-7 3 1 1-1 2-3 0-3-3-2 0-2-2-1-5 0 1-6-4-1-1 0 3 4-4 1 2 3 2 0-1 3-3 0 0 1-4 2-2 4 3 1 1 1-2 1 5 2 1-2zm2 -6-7-3 0-3 2-1zm2 -107 1-2-3 2zm-13 57 0 4 4-1-2 4 1 4 3 1 3-3 1-3-1-3 3 0 2-6-5-1-1 1-1 5-1 0-1 0-3-3zm5 -53-2-1-10 4 1 4 2 1 9-7zm-7 90 3 3 0-1-2-3zm3 -13 0-2-3-2 1 6zm-2 -11 0-6-4 0-2 1 5 6zm-1 -24-4-7-3 1 0 9 6 1zm-11 -21-1-12-4 0 1 4-4 4 6 5zm-25 455 4 4 1 0 3 2 3-4 1-3-3 0 0-2 3-2 0-2-1-2-4 0 0 4-2 1-2-2-1 3 2 1 0 2zm9 3-3-2 2-1zm-6 5-6 2 0 2 5-2zm-16 -5-2 8 5 3 1-2 1-4-2-3 1-3 3-2zm-9 11-1 2 6 3 1 0 0-2 0-2-4-2-1 4zm0 21-1 0-1 1-3-1-2 2-3-2-1 1 1 3 3-1 0 1 3 2 2-3 2 2-3 2 1 4 2 0 2-9zm-4 -5 4-1 0-2-4 0zm-13 17 0 9-2 3 1 6 3 0-1-5 4 2 1-1 2-4 3 0 1-3 3 1 1-5-4 1 1-4-6 0-1-2zm11 14-1 3 1 2 3-8zm-4 -30 2-3 1 0 1-1-4 1-2 2zm0 36-3 1 0 1 0 1 4-2zm-11 3 3-1-2-4-4 3zm-14 6 0 2 5-2-4-1 2-4 2 0 4-2 0-4-3-2-2 2 1 2-3 2 1 2-4 1-2 1 0 2zm-116 6-2 0 1 4 2 0 1-2-1-2 2-1 1-5 2 4-1 1-1 3 2 1 3-3-2-2 2-2 4 0-1-1 2-3 1 2 0 2-2 1-2 4 3 3-5 2 1 2-1 1 0 3 5 1 1-8 3 3 1 0 2 2-1 2 1 2 4-1-1-3 2-1 1 1 3-2 1-7-2-2 1-3-4-1 2-4 1 0 0 3 2 2-1-6-6-6-6-1 2 4 0 5-2 0-4-3-3 0-3 5-8 0-1 3zm25 9-4-4 1 0 3-2 3 2zm-21 2 1 1 2-1 0-3-3-2zm-28 -61-2-1-5 2-1 3 2 2zm-24 2 3-1 1 2 3-3 0-2-2-1-3 3-4 1zm5 12 1-2-1-3-2-1-3 3zm-1 1-3 0-2 3 2 3 3-2zm-18 -11 4 4 4-2-3-3-2 1 1-1zm1 9-1 4-3 3 3 2 3-3-2-2 4-1-1-2zm-2 16-5 0 2 4 2 0zm-12 -17-1 0 1 4 3-2 3 3-4 1 3 5 4-9-3-2 0-2 4 0-2-4 4 1-1-3-12 0 3 3 3-1 0 3-3 0 0 4zm-21 9 2 1-2-4zm-41 -48-4 6 2 0zm-13 -12 2 3 3-3 0-2-2-2-2 0zm-2 -5-2 1 1 5 1-2zm-8 84 2 0-1-2-1 1zm-4 15 2-2-2 0zm-8 -9-2-1-2 0 3 4z" fill="#ff7000"/>
<path d="m3286 541 0 2 6 3 3-6-1-1-2-1-1 2-3 0 1-2 4-2-4-6 0 2-1 0-3 1-7-3-2 4 4 4 4-1zm-16 -12 3 4 1-4 2 0 1-3-10 1zm-4 4-4 1 4 4 1-1zm-24 28 0-5-3 0-2 2 0 2 2 1zm-18 6 2 6 3-1 2-2 4 1 0 5 2-5-1 0 1-3-3-2 4-2-2-2-3-1-1 4-7-1zm1 -16-4 8-3 0 0-2-2-2-2 4 2 1 0 3-3 2 0 1 6 2 1-3-1-1 3-2 2 1 2-3 4 1 3 0 1-7-2-1-4 4zm7 26-2 0-1 3 2 2 2-3zm-6 8-1 1 2 4 3-5zm-27 -5 0 4 5 2 0-2 3 1 0 2 5 3 6 0 1 4 4-1-1-4 3-3-2-2 0-2-2-2-1-6-1-1-5 1-4-2 0-2-2-2-2 2 0 3 2 0 2-1 0 4-6 0-2 4zm15 -5 1 3-1 7-1 1-5-2 3-7zm1 -26 1 4 4 0 2-3 2 1-4-4-1 1-2-1-2 2 0-4 1-2-1-1-9 4 3 2 2-1 1 2zm-3 -179-3 3 3 3-1 5 4-6-3-4 1-1zm-18 190 2 2-2 1 1 4 2 1-1 2 2 1 1 3 3-1 1-3-4-3-1-3 4 0 2-9-5-4-3 2 0 2 3 0 3 4-4 1 0-3-3-2-4 3 1 2zm6 -195-1 7 1 1 3-6zm-16 -9 1 2 4 0 4-5 2 2 1 5 3 0 1-5-2-1 0-3-3-3 0-1 3-1 4-4-4-5-5 5-5-1-3 7 2 1 1 3zm18 20-4 1 1 5 3-2zm-25 192 3 3-1 3 3 1 1 2-2 4 1 1 4-4 2-1 0-5 3 0 0 1-2 4 5-2 2 5 2-1 0-5-2-1 0-3-4-2-1-7-2 0-2 2-2 0 0-1-2 1 2 0-1 2-4 0zm10 3-2-2 4-2zm5 -195 5-2-3-3-2 1-2-2-3-1 0 5 4 1zm-4 21 3 0 2-3 2 0 1-2-4-2-2 2-2-1-1 2zm3 -62 3-3 0-1-5 4zm-9 57 3 0 0-4-6-1-3 4 4 3zm-3 -33 4 1-1-4-1-3 1-5-2-2-4 3-2-3-1-1-3 4 0 4 4 1 1 3 3 0zm-5 215 4 4 1-1 0-3-4-2zm3 -210-2-2-4 0 0 2 4 2zm-1 206-1-1-1 1 2 1zm-12 -178 9-4-1-1 2-4-2-2 2-6-1 0-3 0 1 6-3 2-6 0 0 8zm-3 4-12-1 1 4-3 5-2 0-3 5-2 0-2 3 2 1 5-1 0 2 1 2 8-3 1 3 3 0 4-3 1 0 0 4 3-1 2-2 1-3-1-3-3-1 0-4-6 2 0 3 2 0 0 3-6-1 0-8 3 0 3-3 2 1 2 3 3-3-1-4-2-2zm6 -34-5 2 3 6 3-2 0-4zm-4 -23-5 0 1 4 1 0zm-38 48 5 0 3-1 6 1 1 2 9 2 0 2 11-1-2-9-3-1-6 7-3-5 1-7-3-3-2 1-12-4-2 4-1 0-4 12zm14 -5-4 0 0-3 4-1zm19 -21 1-1-1-4-2-1-1 2zm-5 20 3-9-1-2-3 5zm2 -22-4-3-1 0 0 3-3 1-3-1-1 8 1 1 4-4 2 0 2-2 2 0 1 0zm-9 -18 5 2 1-5-2-3-6 1zm-40 34 2 4 0 1-3-2-2-3-5 0-2 2 1 1 9 6 1 8-5 3-3 0-1 4 0 2 3 3 4-2 4 0 0 1-2 4-6-2-1 2 0 5 3 1 4-2 3 4 3-3 5 5 0 5 4 2-1 2-5 1 6 4 3-1 0 4 3 3 3-3 1-6 3-2 5 3 5-3 2 1 3-2 0-5-3-2-1 1-6-1-1 1 1 2-4 4-4-5-3 2 0 5-3 0-1-3 1-2 0-3 7-5-4-3-6 3 1-6-4 1-1-7 2-3-7-4 3-8 3-1-1-9 1-2-1-2-7-2-1 3-3-1zm7 35 1-4 3 3zm34 19-3 1 4 2zm-7 2 0 2 2 1 1-4zm-7 -86-1 1 0 6-7 2-1 3 1 1 6 0 0 3 0 7 5-1 0-6-3-4 4-1 2-1-1-8-1-2 1-1 2-8-3-3-4 4-5-4zm-6 52-3 2 3 8 12-4-1-4zm-12 238 1-2 1 2 3-1 5-6-2-1 2-3 1 2 1-3-1-1-5 4-7-1-2 2 0 1 1 1 4-1-1 4-2-1-2 1-2-2-2 1-1 2 3 3zm9 -19-1 4 3 1-2-6-1 0zm-7 29 1 3 0 1 2 3-5 2 10-1 0-3-4-5-1-2-5 2zm0 -303 5-1 2-5-3-2-6 1zm0 21 3-3 0-4-5 1-1-1-3 0-2 5 2 2 3 4 3-2zm-19 66-1 12 5 2 2 4 8-1 3-5 1 0 0-1-4-2-1-7-6 2zm18 221-1-2-3-3-1 1 4 5zm-28 -288-5 3 3 7 4-4 1 0 3-4-4-4 6-1 2-5 2 1 1 2-3 3 2 3 5-1 0 4-5 1-1 1 5 3 5-2-1-2 1-1-1-5-2 0 1-6 1 0 1-4 1-1 5 3-2-10-12-10-11 6 3 9-6 2 0 1-6 6 9 3zm5 -14 7-1-3 5-3-1zm20 80-1-8-5 0-3-2-4 9 6-1 5 4zm-7 201 0-3-3 0-2 2 3 2zm-115 -310-5 3 3 4 4-3 1 1-5 3 11 3-2 8-4-2 0-4-2-1-4 1 0 1-5 4 6 7-1 4 2 6 9-5 4 2 4-1 4 10 2 1 4-1 7 6-1 4 5 0 4 2 2-1 1-3-4-14 8-4 6 5-1 5 7 3-4 7-6-2-1 1-1 3-4 1 0 2 4 3 4 0 1 4-3 4-3-1-3 3 3 4 0 1-2 0-3-2-3 2 1 3 3 0 2 6 4-3 1-1 0-2 4-5 2 4-6 3 4 3 5-3 1 2 0 4 2 1-2 3-4 0 1 2-3 3 2 1 0 3 3 1 1 2-2 3 2 3-2 5-6 4-2 0-3 4-2-3 2-3-1-3-2 0-1 5-2 2 3 4-3 1-1 3-1 1-1 1-9 1 4 3-1 4 4 2-4 3 1 2 5 0 1-4 4 2 3-2 3-8-4-2 2-3 3 1 1 4 2 0 1 3 3 1 5 1 1-1 3 1 3-3 1-3-4-1-3 2-1 0-1-5 4-1-1-4 4 0 0 2 3 1 2-1 0 6 3 1 2-3-1-4-2-2-2-5-6-2-3-4 3-4 4 1 3-3 5-1 3 3 1 1-5 2-2 6 3 2 4 0 1 1-1 7 2 3 11 0 1-5-4-6 2-8 3-1 1-4 2 0 2 0 5-5-1-6-12 2-3 6-4-3 4-6 0-3-2-2-5-10-3 7-7-4-3-5 2-7 5 8 7 1 3-2 3 1 3-7-4-6-3 0-2 1-8-2 1-6 2-3-1-3 0-6-11-2 3-7-5-2-2-3 1-5 5-3-1-2-9-4-2 7-1 1-2 4-5 0-2-6 4-8-5-2-6 3-1-7 1-1 0-6-3 1-4-4-3 4 0 4 3 1-2 4 5 9-11 0-4 4-5 3-6-6 2-4 4-1 0-2-3-6-4 0-5-6-3 1zm64 121-5 2 0 2-4-1-4 2 0-4 8-1 1-3-1-1 0-4 1 0 3 4-1 1zm-3 10-3-2 1-1zm-7 -67 1 0 3 3-2 2zm23 25-3 5-2-2 0-5zm-11 -31 7 7-9-1-2-1zm2 41-1 2-4-1 3-3zm0 0 3-1 2 4zm-23 35-2 0 1-4zm-37 -105-5-4 5-5 1 1zm86 47 2 12 5 0 1-7-5-5zm-5 -76 2 2 3-1 5 0 1-1-3-2-5 0-2-3-2-1zm6 23-10-3-5 3-2 3 1 5 16-6zm-6 119-2 1-1 3 5-1zm-32 15 7-3-2-4 3-1 0 4 4-3 1-1-2-2 1-2 6 0 4-3 4 0 2-7-4-1-5 1-1-2-5 0 0 3 1 2 4-2 1 3 3 3-4-1-4-2-1 0-4-3-1 3 3 3 0 1-5 1 0 1-2 1-2-2 3-2-2-3-4 0-1 0 2 5-3 4 1 2-1 5zm27 -149-6-6-2 3 0 2 2 1-3 5 2 1 2 2 5-5zm-9 148 3-1 1 2 2-4-2 0-1 1-4-5-2 4 1 2zm0 3-4-1-1 2 2 3 3-1 1-1zm-14 4 2-1 0-3 4 1 1-5-2-1-3 3-2-1-2 6-2 0-1 2 2 4 3-1zm-3 -168 5 0 4-6-4-1-3 3zm4 186-3 4 0 2 4 1 2-4-1-3zm-5 11 2 3 2-2 1-2-4-1zm4 -193-8 1 4 6 3-1zm-43 174 3 3 0 1-4 0-1 3-1 0-2 1-2-2-2 0-1 4 3 1-1 1 1 5 3-2 0-2 3 0-1 2-2 6 5 1 1 4 3 1 2-1 4 2 1-10 3-1 1 2-2 3 0 1 5-1 1-4 3 1 0 5-2 0-3 4 0 2-5 3-1 4-4 2 1 5-3 1-1 4 6 2-1-6 5 1-1-5 2-4 4 3 0-4 4-3-3-3 4-5-1-1 3-2 3-1 0-2 2-1 1-3 0-1-3-1-1 0-1 4-3-3-3 0-2 2-2-2 1-2 2-1 2-4-1-2 4-2 1 0-2 3 1 3 4-1 0 1 5 2 2 2 4-2-1-3-4 0 0-2 6 1-5-4 1-4-5-4-5 0-2-5-4 4 2 1-1 4-1 0-1-2-2 0 0-4-4 0-1 1 0-4 6-1 0-2-3-4 1-4-3-2-3 2 2 3 2 1-2 2-3 0 0-3-2-2-2 1-1 1 0 4-2 1 0 4 2 2 4-2-1 3 4 2 1 3-1 2-3 0-1-3-3-3-2 0-1-4-5 6zm21 1-3 1 0-2zm-13 9 4-1 0-1 3-3 2 3 0 2-5 0-1 3-2 1zm-5 7 3-2 1 1 0 4-3 0zm22 -84 4 4 1 0 1-4 5 3 4-4-4-6-2 0-3-2 2-4-6-1-2 3 4 3-1 5zm7 95-2-3-4 5 0 6 5-3-1-1 1-1 2 1 3-2-2-8 4 1-1-2-3 1 0 4zm5 -115-5 0-4-2-1 6 2 0 5 3 4-4zm-3 72-3 2 0 3 5 2zm-39 151 1 12-1 3 3 5 2-3 2 2 3-2 1 3 3 0 0-3-3-1 0-3 1-1-1-2 3-3 0 1 3 5 5 0 4 4-2 2-2-2-4 0 2 3 3 2 1-2 3 3 3-3-1-3 2-1-6-9-5 0-6-4-1 2-3 0-2 3-1 0-1-6-1 0-3-2 4-4-9-1 0 3zm5 17-1-5 1 0 3 1zm8 -262 4 2 0 2 4 1 5-2-3-6-4 2-1-7 1-1 0-4-8-2-1 4-5 2 2 3 1 1 1 5zm5 19-7 4 1 3 4 1 3 5 2 1 3 0 0-6-1-7-4 0 0-4-3-2-5 3 0 1zm-48 50 1 3-1 6 2 0 3-4 1 1 3 0 2 2-3 3 4 3 5 0 2-2 3 8-3 1-1 4 0 2 2 2 2 5 1 0 6-3-2-2 3-2 1 5 1 0 2-2 1-5-8-1-2-1-1-1 2-1 2 2 3-1 0-2-4-5 5-1 2-2-2-2-5 4-3-4 1-3 5-9-1-3 1-1 10 1 0-6-3-1-6 4 0-5 4-3 1-2 5 5 3-2 2 0 2 5 5-2 0-4-4-2-1-6-5-2-1-2 4-5-2-4-1 0-3 3-2 1 1 4-5 3-2-4-5-1 0-5-2-2 0-4 4-3-1-1 3-6-2-3-5 1-2-3-2 1-6 1 0-3-5-1-1 5 1 1 3 0 2-1 1 2 4 0 2 3-1 5-7 5-1-2 0-3 4 0 1-4-2-1-4 0-1 1 1 4-5 0-1 2 3 6 5-1 0 3 5 2 1-1 2 4-4 2-6-4-4 1 0 3-5 4 4 3 3-4 2 8-1 2 0 2 3 2 5 0 0 1-3 1-1 3-4 3 5 2 0 3 1 1-1 2-2 0 0-4-3-3-1-7-5-1-6 1-1 2-7 5 2 3zm12 -16 6-6 5 2-1 4-2 2zm10 0 3 3-1 3zm7 93 3 1-1 3 3 2 0 1-5-1-1 2 5 3-3 3 0 2 2 2 1 0 2-4 2 3-1 1 1 5 4 1 2 2 4-1 0-7-1 0-5 0-2-2 1-4-2-1-1-3 3-2-1-4-4 2-3-3 3-3-1-3-5 2-1-2-4 1 1 5 2 1zm17 -60-3-3-5 1 1 5 3-1 0-1 3 2 1-2zm-7 -138 5 5 1-2-2-7-4 1zm1 64 5-4-2-2-6-1-1 2zm3 130-3-2-2 3 3 3zm-2 35-5 3 2 6 4-7zm-8 -36 7-2-5-2 2-2-7-3-6 4 4 4 3-2 1 1zm-7 -64 6 1 7-4-7-4zm5 218 4-4-9-3-2 3-1 5zm2 -296-5 4 3 4 2 0 2-7zm-43 -7-1 3 4 2 3-2 4 3 2 3 6 1-1-10-5 0 2-4 4 3 6-2 6 1 0 2-1 6 2 2 6-1 6 0 0-2-3-4 2-5-9-1 0-3-7-4-4 1-4-4-1 0-1 6-3-1-5 3-2 2 2 4-2 3-2-2 0-5-6 1zm-1 171 3 2 1 2 2 1 2 4-2 3-2 1 0 8 1 1-5 5 6 1 3-1 1 3 1 3-4 6 2 1 2 1 2-5 0-2 4 0 0 5-5 2 0 3 2 2 9-5 0 4 0 2-4-1-4 5-3 0-1 2 1 2-4 3 3 2 2-4 2 1 0 4 5 3 2-1 2-7-1-1 4-4-1-2 3-3 4-2 0 2 2 6 6-5-1-1 2-6-1-5 3-1 0-3-4-3-3 2-3-1 0-5 1-3 1 0 3 2-5 5 7-1 1-2-2-2 4-5-5-1-1-2-3 0-3 3-2 0-4 5 5 7 1 0 3 6 1 1 4-1 0 3-3 3-1-3-3 1 0-3-3 0-1-3-2 3 0 3-4 1 2-4-1-3 1-6-4-2 3-4 0-3-2-1-3-5-2 2 0 3 1 1 0 3-1 1-2-3-3-2 3-2-4-7 4-3 2-1 3 3 5-3-3 7 5 2 6-5-3-8-6-2-2-5 3-3 6 5 2-2 1-1-3-4-5 0 1-4-2-1 0-2 4-3 3 2 3-1-3-6-2 0-2 3-7 1-3-3-4 2-2-4-8 1 2 4-1 1-6 3 4 4-1 5 7-2-1 5-6-2-4 6zm11 19-4 2 2-4zm9 7-1 2-3-1 0-3 1 0zm3 29-4-1 0-3 3 0zm-11 -58 2-6 2 3zm0 27-3 2-1-2 3-3zm26 82 4 1 1-5-6-2-1 1zm4 -46-1 0-5 5 4 1 2-2zm-1 -8-6 1 1 3 5-1zm-3 35-2-1-2 4 1 5 2-1zm-8 -119 5 3 3-3-3-4-3 1zm1 140-2 6 7-3-1-3-2-1zm-1 -155 2 4-3 2 2 4 4-3-1-6 2-2-1-3-1-2-4 4zm5 120-1-6-2-2-4 0-2 6 3 4zm-9 68-7 1 0 2 5 6 2 0 5-5zm-4 -53-1-2-2-2-3 1 0 5 5 0 2 2 6-2-1-4 2-3-3-7-4 4 1 4 3 2zm-2 73 6-3-1-3zm6 -197-1-4-3 4 1 4 2 0zm-12 162-6 1-2 4 10 6 1-3 7-9 0-3-7-4 2-3 4-1 2-2-3-2-4 2-2 0 0-3-4-1-3 3 2 2 4 0 1 4zm6 -188 2 1 3-1-1-3-3-1zm3 38 1-3-3-2-2 2-1 2zm-7 -166 1 0 6 0-4-6-3 1zm5 288 1-2-3-4-3 1 0 4zm-8 -329-3 0-1-2-6-2-2 3-5-2-4 6 3 2 6-5 1 2 7 1 0 4 5 2 2-1 0-3 4-5 2 0-6-1-2 0zm-9 156 3 5 1 0 3-1 0-3 6 2 3-3-2-3-7 3-1-1-4 0 1-4-3-4-3 0zm11 6 0 2 3 5 1-4 0-2zm-1 242-5 1 2 5 3 0 3-2zm-18 -320-1-1-6 3 1 1 7 2 0-2 6 0 1-1 2 1 1-1 2 2-2 5-4-1-2 1 0 4 3 7 4 1 1 0 0-5 3-2-2-4 1 0 1-5 4 0 0-4-2-1 0-3-4-1-2 3-4-1-1 3-1-1-5 2zm10 287-3 1 8 14 1-1 4-6zm10 -271-3-1-3 4 6 2zm-6 -103 3 0-3-2zm-2 276-2 4 0 2 1 2 5 0 1-2zm3 -254 1-5-8-2 0 2 2 4zm-14 283-2 6-1 2 4 2 4-7 4 3-1 4 2 2 5-2-3-6 0-4-7 2zm4 115 0 2 4 0 5 2 1-3-1-3-2-1-3 3-1-4-2 0zm4 -396 3 5 3-1 0-3-5-4zm4 410-3 1 3 1 1-2zm-3 -32-4 3-2 5 1 1 5-1 1-2zm-4 -100 5-5-1-3-7-5-2 1-1 6 1 4zm-5 -166 10-8-3-2-10 0zm7 222-2 0-2-5-5 1 5 6-1 4-4-1-3 3 3 4 6 0 1-3 3-1zm-12 -195 3 8 1 1 6-4-2-7-3-2zm10 16-2-4-5 3 0 3 2 2 2-1zm-8 153 1 6-2 4 1 2 5 2 2-4-2-4-1-5zm6 -239-3-1-2 3-3 1 0 6 2 1 3-1 1-4 2-1zm-4 310-3 6 1 0 5-2zm-3 -406 1 1 5-2-1-2-3 1-2-1zm-2 200 2 1 1 4 5-5-2-3-4-1-2 2zm1 217 5 2 1-1-2-5zm-10 -331 3-1 4-3 2 1 3 2 2-1 2-3-3-1-1-3 2-4-4-2-1 1-3-1-2 5-2 1-1 3-2-3-3 5zm14 351-1-1-3 0-1 2 3 1zm-19 -221 4-2 4 4-3 3 0 3 4 2 2 3 2 0 6-12-1-2-2 0-2-2-1-5-3-2-3 1-4-2 0-1-8 1 3 10-6 3 0 4 7 3 2-2zm19 -184-3-2-4 4 1 2 3 1zm-6 399 5 0 0-5-3 1zm4 -40-6 1-1 6 3-1zm-22 21 1 4 2 1-1 3 0 1-2 4 1 2 2 0 0-5 2 0 1 3 3-1 0 4 3 1-1-6 4 3 2 0 2-4 0-2 1-3-1-2-3 0-2 4-3 2-2-3 0-4-3-2 3-2-3-2-1-2-2 0-1 3 1 2zm13 -176-1 2 1 6 1 1 0 1 0 5 1 2 3-1 2-3-5-4 3-3-1-3zm6 28-1-3-3 0-3 2 5 4zm-6 -208 0-1 4-3-1-5-4-2-1 7-4-2-2 6 5 1-4 4 1 3 5-5 1 4 5 0-1-5zm3 54-2 0-4 4 4 4 4-1 0-5zm0 298-2-4-1 0-1 2 2 4 2 0zm-12 -234-3 5 4 5 2 1 2-1 5 1 2-8-12-3 6-6 2-6-10-6-3 11zm-1 -172 2-5 3 0 3 3 4-2 1-4-5-4-1 0-2 5-2-2-2 2-2-1-2 5zm4 339 3 1 4-2-3-5-6 1 0 3zm3 52 4 0 0-8-5 1-1 2 1 4zm-15 -281 4 6 4-2 1-11 8 2-1-6-6 0-1 2-5 0zm17 285-3-2-3 2 2 3-2 1 0 5 4-3 0-2zm-4 -71-3 2-2 4 1 1 6-1 1-4zm-6 106 1 5 3 0 3-3-4-6zm-2 -42-2 4 1 2 7 0 0-3-4-3 2-5-3-2-2 1-1 1zm5 -146-4-3-4 4 0 3 6 0zm-8 108 2 4 3-3 2-5-2-2zm1 -52 4 1 1-4-5-2zm4 -211-3 0-4 3 5 4 1-1zm-2 323 0-2-1-3-2 0-2 5zm-7 -427-3 3 2 1 3 0 1-2 3 1 1-3-1-3-2 0-1 3zm4 343-3 0-2 5 0 1 1 3 6 2-2-7-1 0zm1 70-3 0-2 2-3-1-2-5 0-1-4 6 2 2 3-1 0 3 3 3 3-3 4 0zm-2 29-4 3 5 5 1-2zm-4 -371 2 2 3-1-2-6 3-4-2-3-2 1-1 2-3-2-3 1 0 1 6 4-2 2zm0 29 3-5-2-2-1-2 5 0-1-5-1-1-4 4-3 0-2 4 0 4 3 0zm-4 -63-1 2 2 4-1 5 1 2-5 1 0 4 2 3 6-1 2-3-3-3 1-2 4-2 0-3-2-1 2-4-4-3zm-1 352 2 6 3-1 0-6-4 0zm-1 -383-1 3 1 1 6-2-2-3zm0 66 4-4-3-2-3 0 0-6-3 0 0-3-2-1-7-2-1 1 6 7 3-1 0 6 2 3-6 3 2 1 5 0 1-2zm-3 218 1 3 5-1-2-5-3 1zm-8 132 0 5 3 1-1 2 4 1 4-2 3-8-1-2-4 1-1 1 1 2-3 2-2-4zm9 -413-3-4-5 2 0 3 5 0 0 5 2 4 2 1 3-2-2-4-3 0 2-2zm-2 308 4-4-3-3-4 0 0 5zm2 155-9 5 2 4 3 3 1 0 1-7 3-3zm-7 -426 5 3 3-3-7-5-4 2zm5 147 1-4-9 0-2 8 3 2 5-1 0-3zm0 -104-6-1 0 1 5 4zm-13 -67 3 2-1 5 5 2 6-4 0-3-3-1 1-3-1-3-4-1-1-3-6 1-6 3 2 5zm5 394 2 1 3 0 2-3-2-3zm-6 -421-1 6-2 0-2 4 3 2 1 3 4-1 0-3 5 0 0-3 2-1-1-5 2-1 1-4-3-1-2 2 0 3-2 3-2 1 0-4-1-1zm2 299 1 2 7-2-3-2zm7 -8-4-1-3 5 4 2zm-9 -193 1 7 7-3 0-5-7-2zm-10 -42-6 6 3 3 4 0 2-3-2-6 6-2 2-4 6-2-1-5-3-6-8 3 1 5-9 5 1 2zm5 24-2-1-4 0-1 8 4 0 7 3 1-5-5-2 0-2 5 3 4-3 0-3-2-1zm-2 152 10 2-4-7-4-1-2 1zm-3 -126 3 6 7-1 2-2-1-3-11-2zm9 -124 2-1 0-1-2-1-2 2zm-4 219 5-2 0-3-5-1-3-2-2 1 0 5zm3 -207-2-4-3 3-2-2-5-1 4 7 1 0-2 5 4 2 2-1 1-3-1-3zm-3 499 3-2-4-9-2 2-1 8zm-5 -124-2 4 2 4 4-1-2-5zm1 -352 2-5-7-1-1 5zm-2 147 0-14-3-1-3 15 5 1zm-5 44 5-5-6-1zm-2 -136 3-2-1-8-1 0-3 3-1 4zm1 -71 0-3-6-6 0-3-5-2-5 8 4 3-3 5 5 2 2-5zm-6 138 0 4 5-3 0-1-2-1zm-2 -38 6 1 1-2-4-6-1 1zm-1 -22 2 3 6-1-5-3zm-2 -21-1 6 2 1 2 0 2-1 0-4-2-2-2-1 4-5-2-3 6-2-4-8 4-4-5-5-7 1-1 2 5 7-4 5 2 3-1 5zm1 63 3 0 2-2 2-6-7-4-3-1-3 8zm-1 89-1 7 2 2-1 6 2 2 4-5-1-3 1-2-1-4zm-6 248 4 6 7-6 0-3-11 1zm-5 -442-6 11 5 1 5-2-2-9 6-1 3 2 5 0-2-9-3 0-3 7-4-9-5 4zm1 141-1 5-5-3-1 1 0 5 3 1 2 5 1 1 4-4 5 1 1 4 2-1 1-7-3-2 5-5-3-3-6 2 0 1-5-1 1-2 2-1 1-5-2-2-4 0-2 2 1 2-3 6zm5 325 8-5-6-4-3 3 0 6zm-3 -493 6-3-3-1-5-1zm-19 14 3 6 5-2 2 2 4-5 7 0-1-8-7 5 0 2-4 0-1 1-5-3-3 0-6-4-5 7 1 4 7-1zm20 51-1-7-5 6 1 1zm-8 410 2 3 2 0-1 4 4-1 1-4-3-2zm-15 -372 2 0 1 3 4 0 0 7 6-4 2 6 3-1 3-6-5-3 1-4-3-1-3 3-2 1-3-4 0-1-3-3-1 1-6 0-1 0zm16 151-6-1-1 7 8 6 1-1 2-4zm1 -199-5 3 2 4 6-4zm-21 -27-3-2-6 2 5 9 5 0 7-6 2 1-4 9 5 2-3 8-6-4-10 3 1-10-7-3-5 1-1 10 1 2 11 1 14 6 1 4 8-4 0-4 6-1 2-4-7-2-3-4 4-4-5-14-3-1-2 1 0 2zm22 198-1-2-4-1-1 1 2 5 2-1zm-8 166 6-2-5-2-2 2zm2 -184 1 0 3-6-2-4-3-1 0 9zm-17 -28 3 4 5-4-1 4 7 4 2 4 5-2-3-7-1-1-4 0-2-3 3 0 1-5-2-1-1 0-2 5-2 0-1-1zm19 214-4-1-2 3 2 3 5-1zm-7 -66 4 5 3 0 1-2-3-5zm6 130-5-1-2 6 5-1zm-4 18-3 4 6 3 0-6zm-2 55-7 4-1 7 1 1 4 0 7-6zm1 -206 2-1 0-5-1-1-4 4zm-1 -12-3-2-3 3 0 4 3 1 1 0zm-4 -85-3 3 5 4 1-4-1-2zm-63 -221 6 8 2-1 4 4-2 3 0 2 2 2 5-4 6-3 1 0 2 5-1 2 4 0 2-2-1-4 2-7 6 0-2-3-4-1 0-2 5 0 2-1 0-1-3-4-5 1-1-3 5-3 2 1 7 3 1-1 3-5 7 3 0 2 7 0 3-5-4-1-6 3 0-5-5-2-2 0-1 5-5-2-2-3 3-3-1 0-5-2-10 4-3-3-5 0-4-2 0 5-1 3 4 6-4 2-1-1-8-2 0-1-6-1-1 8-1 1 0 3zm8 6-3-5 2-4 1 5 3 1zm4 -2 0-4-4-4 4-3 1 7 3-1-1 5 2 2 2 0 3-5-2-1-1-4 3-1 3 3 1 1 0 3-3 3-2 0-1 4-3-1-3 2zm9 -17-1 0 1-3 2 1zm41 201 1 0 2-7-6-1-1 2zm1 313-4 3 1 2 3 2 1 0zm-25 -426 2-3 6 4 5-2 1-3 4-3 2 3 5-2-3-5-4 3-7-9-3 0-2 2-4-2-10 5-1 3 3 4-2 1-4 7 1 1zm17 135 4 4 3-4-2-4-4 1zm5 250-3-1-4 4 4 3 4-4zm0 -377 1-4-3-1-3 2-1 2 5 2zm-7 393 3-2 1-4-1-1-4 1 0 4zm-1 -289-3 2 1 2 3 2 2-1-1-4zm-6 -22 5-1 2-2-2-2-8 2zm6 -68-2-8-4 2 0 7 4 1zm-24 34 0 4 3 2 3 8 7-7 3 0 0-8 2 8-4 6 1 1 3 1 1 1 2 0 3-4-3-2-1-3 1-1 0-4-3-3 3-5-7-1-3 4 1 1-1 7-5-1 1-7zm15 44-4 7 6 1 1 1 5-3 0-1-3-3zm7 33-2 0-1 3 0 1 2 1 2-1zm-7 -111-7 7 5 3 1 5 7 1 1-4-3-4-3 0 1-8zm-1 389 2 11 6-4-5-7zm0 -492-1 1 3 5-3 4 1 1 6-1 1-3-2-2 1-2zm-2 474-2 1-1 5 1 1 6-4-2-3zm-2 -263 4 2 2-4-3-3-7 2-2 2 1 2zm4 295-6-1-2 1 0 4 6 2 3-3zm-5 -4 5 1-1-11-1-1-8 9 0 2 4 2zm-9 -287 2 6 2 1 3-5 2 3 4-3 0-2-3 0-3 2-1-2zm12 311-1-1-7 2-1 4 9 6zm-7 -195 0 1 4 2 3-2-3-7 1-5-1-1-2 0-4 2 0 8zm3 -154-3 3 4 4 3-2zm3 -76 0-1-6 1 3 7zm-7 134 4 9 2-1 1-3-1-6-4-3zm3 -30 2 1 2-4-3-1zm3 109-2-5-3 2 1 4zm-6 -153 4 0 0-4-4-1-2 3zm-12 346 0-2 2-11 2 11-3 3 4 3 2 8 7 0 2-1-2-7-3 0-4-1 3-5-7-14-13 0-1 3 1 2-3-1-2 4 2 2 4-2 1 3 0 2 5 3zm15 -41-7 1-3 6 1 3 6 1 4-7zm-20 -401 4-2 2 3 8-7 2 0 3-7-8-4-5 3 0 2-6-2-7 8 7 0zm19 330-1-5-4 0-1 6 3 2zm-7 13 3 3 4-2-6-4zm1 -201 4-4 1-2-2-2-4 2zm-16 71 4 0 2-1-2-6 2 0 5-6 4-12 4-2-4-8-8-1-2 2 1 9-2 5-8 2-7 6 5 5-4 9 2 2 5 0zm3 -8-5 1 3-6-2-3 6 1-2 2zm15 -101-1-3-5 0 0 3 3 3zm-21 33 7-1 1-4 4 0 1-5 1-1 6 2 0-4-2-3-1 0 0-3-4-3-2 1-2-7-1-1-3 7-4-1-2 6 4 2 0 4-6-1 1 4-3 3 1 2 2 1zm19 -94-2 1-3 3 3 3 3-3zm-7 236 1 2 3 3 2-1-1-5-1-1zm-5 -116-3 0-2 4 6 2 3-2 5 3 1-3-1-4-4 0 0-2-3 0zm6 -9 2-3-5-7 0 1 0 7zm-10 192-4-2-7 3 1 5 4 1 2 3 2 1 5-3-1-6 7-2 1-5-5-1-1 1-3-4-2 0zm7 -83-5 2 0 3 5 1zm-59 -151 2 5 4 2 1 0 1 2 1 10 5-1 2-1 5 3 3-3 3 3 2-1 0-4-1-1-2-3-4-1 2-2 7 1 0 4 4 4-3 3 0 2 3 1 7-5 0-5 2-3 0-8 5-2 7-4 0-2-2-1-5-1-2 2-5 0-1 1-2 2-3 2 1 4-2 4-3 1-7-6-1 2-4-3-2 2-2-2-3 2-4-1-1 1-4-4 1-1-1-5-4 0zm22 10-1 5-3 0 2-5zm-9 3 3-5 1 1-3 6zm32 -94 0 2 7 6 4-1-2-7-2 2-2-1 0-2-4 0zm6 226-3 6 5 0 2-2zm-10 -112 1 1 3 0 1 2 3 1-1 3-2 0-1-3-4 1 0 3 5 4 1 0 2-3 1 0 2-2 1-1 2-1-2-5-2 1-2-2-2-1-1-3-3-1zm5 -105-5-3-3 4 1 1 4 0 1 3 2 1 2-2 2 3 3 0 1-3-2-2-1-2zm8 -59-8-2-2 0 1 5 5 1 4-1zm-3 69-3-2-2 0 1 4 3 2-2 2 0 5 4-2 1-2-2-3zm2 396-3-1-3 3 2 3 3 0zm-5 -281 0-3-4-1 0 5 3 0zm-4 196-5-3-3 1-3 7 4 4 5-4 4 4 2-2zm-23 -347-5 1 0 5 4 1 2-4 8-2-1 4 0 3-1 2 3 4 2 1 1-3 3-1 1 4 4-2 1-2 1-3-3-4 7-4-7-7 0 11-3 0-5-4-3 1-5-5zm27 212-6-2 0 7 2 1 3-1zm-1 -135-1-5-2 0-1 1 0 3 2 2zm-1 346-6-1-2 5 2 3 6-4zm-2 -46-13-9-4 1-1 1-1 4 3 9 6 0zm-7 -330 6-4-1-3-3-1-3 1-2 2-2 5 4 1zm5 126 1-3-3-1-3 2 1 2zm-19 -235-4 1 4 4 1-1-1-3 6 3 3-3 0-4 8 0 1-3-3-2-4-1 0-2-2-2-8 1 1 4-5 1-2 0-3 2 3 4 3-1 2 1zm0 274 11 0 2-3 1-4 2-3 1 0-1-16-4-1 2-7-3-4 1-3-1-2-2 0-3 3 2 15 1 0 3 11-9 3-4 9zm11 -136-1 1 4 2 2 0 0-4zm-1 -59-3 6 1 1 1 3 3 2 3-2-3-4 1-2zm-1 246-1-2-7 2-1 5 4 7 5-5 6-3zm-5 -175 9 1 0-2-3-2-2-3-2 1-1 0-1 4-5-1-1 1 0 6 4-1zm8 2-4 3 0 1 2 3 3-5zm-1 -31-4 3 4 2 2-1-1-4zm-4 268-2 1-3 4 4 6 4-2 3-6-2-3zm-3 -194 4 0 3 4 1-1 1-3-5-4-2 1zm8 -150-4-3-2 2-3 9 3 1 6 0zm-3 185 3-2-1-4-5-2 1-2 0-2-3-1 0-2-2 0-3 2 0 2 1 1 2-1 3 3-1 4 2 1 0 2zm1 -215-3-6-3 0 0 5zm-8 116 1 1 2 0 1-3-2-3zm3 57-9-7-3 2 1 4 4-1 2 4 1 0zm-1 -111-1-5-1 0-3 0-1-1-5 2 0 4 4 0 0 3 5 1zm-6 132 4 1 2-3-3-4-4 4zm-18 -238-8 7 0 1 3 4 8-1 4-2 2-8 11 3 4-6-2-3-4 4-5 0-5-3-3 0-5-1-1 1zm19 63 4-1-4-7-2-1-3 5 0 2zm-4 201 5 0 1-3 1-5-4-4-3 2-2 2zm-8 -79 0 3 5 2 2-5 2-1-1-4-2-1 3-2-2-3 3-1 2 1 1 0 1-3-1-3-3 3-2-2-2 0-2-1-3 1-1 2-2 1 0 7-3 2zm1 -13 3 0 1 2-2 2-1-1zm10 68-2 1 2 5 3-3 0-2zm-1 104-1 0-1 7 5 2zm3 198-4-2-1 2-3 2 1 3 1 0 2-3 3 2 1-2zm-5 -379 2 3 3-2-3-3zm0 -13 1 1 3 0 1-1-2-3zm-5 -71 0 8 6-2 2-1-7-5zm5 -45-4 4 4 4 2-7zm-8 218 4-5 4-1 0-5-5-1-1 2-8-1-5 2 3 8zm5 -124-1 4-1 1 3 4 2-1-1-4 1-1 0-2zm-5 -73-1-3 3 1 3 0 1-3-1-1-3 0 0-4-1-1-3 1 1 5-3 1-2 4 4 2zm-5 158-6 11 1 1 6 1 5-4 0-6-1 0 5-6 0-1zm9 -105-4 0-2 3 1 1 5 2zm-9 56 6-6-2-3 3-2-1-2-3 0-3-4-2 1-1 1 3 5zm5 162-5 3 4 4zm-10 159 2 2 5-2-2-6 4-5-6-3-2 3 3 4zm8 -351 1-3-2-2-3 0 0 4zm-9 308 3 2 5 0 2-3-1-5-4-2-7 2zm1 -310-2 1-4 4 2 2 4-1 0-2 4 1 2-1zm-8 -62-1 1 2 4 3-1 0 1-3 2 3 2 2-1 2 0 5-5-3-2-5 1-3-3-2 0 2-6 2 0-3-5-2 4 2 1-3 1-1 4zm10 394-3 0 0 4 1 1 2 0 2-2zm0 -424 2-3-5-3-1 1zm-6 415 3 4 3-2 1-3-6-2zm-6 -154 7 0 1-3-7 0zm6 -279-5 2-1 2 0 1 2 2 4-1 2-3zm-2 22 3-1-3-5-3 1 0 2 1 3zm-4 326 7-6-1-8-9 3 0 8zm0 37 6-2-2-7-5-5-5 7 1 4zm5 83-6 5 1 2 6-3zm-10 -338 1 3-6 5-6-2-1 4 3 1-3 4 3 2 5-6 2 5-3 3 8 4-2 1-7 1 0 6 4 5 3-2 6-3 3-5-1-2-5-1-1-7 4-2-1-5-2-1-2-4 3-1 0-4-2-1zm1 -54 2 3 3-3 2 0 1-6-4 0 1 5-2-1zm0 445 1 2 4 1 2-3-3-3zm2 -528-3 3 0 2 2 1 4-1 1-2-1-2zm-27 100 1 2-2 2 1 3 2-1 2 2 5 2 0 1-3 2 3 5 2 0 1-1 0-4 2 0 6 2 1-3 4 0 3-2-2-2-4 0 0-7-2-5-3 0-1 3-2 0-2 2 1 4 2-1 3 1-1 3-2-1-2 3-2-2 0-2-1-1-4 0 0-2-1-1 1-2-1-6 2-4 3 0 1-1-2-4 4-2 3 1 2-1-1-3-4-1-1 1-2-1-3 4 2 2-3 2-1 1-2-1 2-4-4 0-2 3-1 1 4 4-3 2 2 3 1 0 1 2zm22 175 0 5 3-1 3-6-4 1zm-13 -200 9 1 4-2-2-3-6 0 1-4 5-1 1 2 5-1-2-4-3-1 4-4 0-1-6-3-2 2 2 5-2 1-2 4-4-1-2 3 1 3-1 1-5-5 1-1 0-7-4-2-4 9 3 2 3 6 4 2zm-3 393-2-1-2 5 6 3 5 0 0-8 1-1 5 2-2 2 3 4 6-3 0-2-7-1 1-3 4 0 1-6-3 0-2-7-3-2-2 0 1 5-4 2-1 3zm18 -421-2-1 0-1 4-2-1-3-1 0-3 2-1 0-4 3 3 3 0 3 0 2 6-1 0-4zm-3 75-2 4 6 1 0-1-1-4zm-6 -122 5 2 2-1 0-1-2-4zm4 29 2 0 1-5-2-3-3 1zm0 -43 2-1-3-1zm-1 1-6 0-2 10 9-9zm0 559-1 1-2 3 3 0 1-3zm-2 -421 1-3-5-1-1 7 2 2-2 4 7-1zm1 318 0-7-5 1 3 7zm-4 -404-5 2-1 6-1 2 6 4 3-3-1-3 2-2-2-5zm-16 -19 16 2 2-6-1-2-7-2 0 2-10 3-1 2zm-2 123-2 5 2 3 10-3 0-2 2-4 5 0 2-2 0-3-2-2-5 1 1-6-2-1-4 3 0 2-3 2 0 1zm-25 -166 3 4 4-1-2-5 5-1 0 4 5 0 0-4-3-3-3 0-4-2-2 2-6 0 1 5-4-1-5 1-2 0-3 4-3-1-4 3 0 2 2 3 0 3 6 0 3 3 3-2 1 2 3 1 2 0 0-3 3 0 0 4 7 2 1-1 9 1 2-2 6 3-3 7 1 2 3 0 5-3-2-3 4-3 6 0-2-7-5-5 2-2 5 3 2-1 0-5-4 0-10-3 0-3-9 1 0 1 7 5-1 3-7-4-2 1-3-1-3 1 0 1-4 2 2 6-6-1 0-3-6-2-1-1zm9 16 1-3 0-5 3 0 2 3 0 2zm25 308 4 0 1-4-2 0-3 3zm0 -69 5-1-2-4-5-3-2 6zm-3 78-3-1-3 7 3 0 4 0 0 4 2 3 5-4-6-4 1-2zm-5 -279-1 11 1 1 8-5 0-7zm-4 220 6 2 3-9-1 0-9-1zm9 -42-1-10-7-3-5 2 0 6 7 9zm-12 -109 0-7 4 1 0 4 2 3 4-2 1-2-5-4-2 1-1-8-2 0-3 6-2 2 0 2zm5 19 2-3-3-3-4 2 0 1 3 3zm-20 -52 1 5 3 1-1 5 1 1 3 1 2 2 4-3 4 2 3 0 1-1-2-4-5 0 0-1 4-5 0-2-7-2-2 6-4 0 0-9zm1 160-6 9 4 6 4-1 4-3 7 3 5-11-1-1-8-1-2-1-3-2zm14 -105-2 1-2-2-2 1-1 4 2 1 0 4 2 1 3-3-1-3 4 0-1-4zm3 349 0-5-7-1 0 5zm0 -452-3-4-5-1-2 4 6 7zm-7 89-2-5 0-1-2-3 0-5-3-1-6 5 0 3 6-2 0 1 0 2 1 2-1 5 7 2zm-7 438 6 1 1-1-4-6-4 0zm6 -537-1-4-2-2-5 2 0 1 2 3 4 2zm-7 108 3 3 4-3-2-3zm4 143 3-3-1-3-2-1-3 4zm1 -51 0-10-3 0-5 12zm-14 320 2 4 3 0 0 4 4 3 3-7-3-2-2 1-2-4zm3 -365 6 2 3-5-6-2-2 0zm7 -123-1-11-9 5 0 3 1 4zm-2 218-2 1 0 2 1 2 3-4zm1 124-6 1 3 6 3 0zm-4 -265 1 4 1 0 2-6-2-1zm2 66-9-1-1-3-6-4-4 3 8 6-2 4 9 8 4-1 1-9zm-14 370 0 3 5 4 3 0 0-5 6 3-1-6-7-2-4 3zm11 -466-2 0 1 5 2 0 2-3zm-4 129 0 8 7 1-5-12-1 0zm2 331 3-6-2-2-3 2-3 0 0 5 1 1zm-33 -543-1 3-2 1 5 9 2 0 2 2 2 1 1 3 0 1 4 6 0 1 2 1 5-7-5-1-1-1 4-2 1-6 8 0-4-4 1-3-1-2 6-5 3 2 3-3-1-2-2-2-4 2-3-1-4-4-4 2 0 2 4 4-1 2 1 3-1 1 1 4-3 2-4-6-4 5-2-3 1-1-1-4-2 0-2 1-3-1 2-4-1-1 1-3-4-1-4 1 0 5 3 2zm23 163 2 5 5 2 3-4 0-4 0-2-6-6-7 6zm-13 331 9-6 1 1 6-2 3-3 2-10-3-7 2-7-2-4-2-8-2 0-2 2-2 8-4 6 4 3 0 5-2 2-7 3-2-1-8 15zm15 -382-1-1 1-3 2 0 0-5-3-1-1 4-4 1-1 1 5 3-6 3 0 1 2 1zm2 462-2 0-3-3-3 0 0 4 4 1 1 3-1 2 3 2zm-4 -309-6 2 1 4 3 0 2 1 3-1 0-4zm3 -299-4-3-1 1-3-3 2 9zm-2 132 2-3-4-4-4 3 0 1zm0 315 1-3-4-1-2 1zm-16 -234 1 3 13 2-6-11-5-1zm14 347 0-8-4-2-5 4-2 5 4 5 2 0zm-5 -99 3-2 0-3-2-1-3 3 1 2-3 2 1-6-4 5 1 2 0 3 10 2zm-10 155-1 1 3 0 2 6 4-3-3-3zm1 -297-5 2 4 5-1 1-5-1-1 2 5 4 1-3 6 2 2-2zm0 -296-2-2-2 0-1 5 5 3 3 0 2-2-1-5zm-4 401 6 2 2-5-8-1zm-10 69 7 5 10-3-1-6-13-1-3 1-3-2-9 9 7 4zm13 -437-4-2-1 1 0 6 2 2 4-2zm1 558-5-4-1 0-1 3 1 2 5 0zm-5 -187-2 3 0 4 3 2 3-1 0-2-2-5zm3 -70 1-2-3-2-3 1 4 4zm-7 50 2-1 1-6-6 4zm-1 48-3 2 2 5 2-1 2-3zm0 -1 2-3-4-5-2 4zm-6 -155 6 1 1-1 0-4-3-2-2 1zm-17 -265 2 6 2 1 2 0 2 7 2 1 1-1 4-1 5 3 4-1 0-5-1 0-2-5-3-1-2-2-4 1-3-1-1-3zm9 404 3-3 1-3 3 1 0 3 2 2 4-1 1-3-4-6-4 0-2 1-2-1-2 1 0 4-2 1zm14 -71-4-4-4 7 8-2zm-9 93-5 3-1 1 6 2 6 4 0-5-3-2 0-3zm0 -45 5 4 0-6zm2 -61 3-3-3-2-3 2zm-4 71 6-1 1-5-8 1-2 4zm-28 128-4 2 8 0-1 6 3 3 0 3 5-3-5-11 8-4-1-4 6-4 1 3-2 5 2 3 11-5 3-4 0-3-14 0-2-2-4-1-4 4-6 1-5 4 7 7zm28 -543 3 0 2-4-2-3-3 1zm5 596-6 0 5 3zm-11 -258 10 0-1-7-11 2zm2 -324-3-4-5 5 0 3 7 1 1-2 7-1-3-4zm3 295-2 0-3 5 7 3 1-6zm3 67-3-3-3 6 3 2zm-12 181 4 0 2-1 5-7-2-5-5 0-6 11zm9 -507-2-7-1 0-4 5 2 2 4 1zm-4 -62 2 0 1 0-2-3zm-3 307 4-2 0-1-4-3-2 1zm-1 165-1 4 2 1 3-2-1-4zm2 123-3 3 3 2 1-4zm-6 -154-4-1-2 3 6 1 1-2 4 2 1-2-2-4-1-1-3 2zm3 -311 3-13-8 7 4 6zm-2 325 2 1 2-2 0-2-4-1-1-3-2 0-2 5-1 4 3 2zm-3 -407 5 0-1-6-2 0-2 4zm4 177 0-2-4-2-3 3-4-1-2 3 0 3 5 4 3-5zm-1 369-4-4 0 2 4 3zm-11 -247 1 9 2 1 5-6 3-5-6-1zm1 -287 0 2 6 2 2 0 0-7-1-1zm2 422-6 7 1 4 3 2 4-2 2-5 2-8zm-12 -472 1 6 2 0 2 5 4 2 4-6 2-14-4-1 0-3-5 0-1-2-4 0-4 3 1 2 4 2 1 3 5 1 2 3-3 2-6-4zm-6 250 6 4 2 0 4-4 1-2-2-3 8-8-7-5-5 1-1 9-3 1-3 3zm15 163 3-1-4-4-1 3zm-2 -21-1-4-4-1 0 5zm-9 -191-4 6 1 7-2-1 2 3 4-2 5-6zm2 -192 0 5 2 0 2-2zm-9 412-2 2 3 5 4-2 0-2-5-3 5-3 0-1 7-3-5-4-1 1-5-5-6 4 8 4-5 2zm-3 -370 0 5 8 4 3-2 3-5-7-2 0-3-6-1zm3 251 1-2-1-3 2-1 3 3 2-3 1-1-3-4-3 2-2-1-2 0-1 4 0 3zm7 -310-6 3 5 6 1-1zm-2 54 1-1-1-5-2-1-3 2 0 2zm-3 313-4-2-3 3 2 2zm-18 -28 7 3 2 4 1 0 7-6-7-2-1-1-6-3zm-1 -293 9 7 2-1 0-2 6-2-1-1-3-2 1-2-4-2-2 3 2 3-5 0 1-2 0-5-2-1-4 5zm16 315 0-5-2 0-3 2-1-3-2-2-1-3-3-1-2 8 2 0 2 3 4-1 2 4zm-1 -351-4-2-5 7 7 2zm-3 375-5 3-1 3 1 1 4-3 2-3zm-11 -353 0-2-6 0-2 3 0 6 6 1 1-1 1-3 2 0 1 1 3-2 3 1 0-5-4 0-1-1-2 2zm7 345-3-5-2 1 1 7 4 1zm-6 112-8 8 3 2 4 0 4-4zm-2 -101 0-4-1-2-3 1 2 6 1 0zm-9 -406 4 1 1 3 3 1 1-1-2-1-1-4-1 1 0-6-5 4-3 1 0 2zm2 497 5-4-1-4-2-2-5 0-2 8 1 2zm-4 -125 2 4 6 0 0-6-3-2-3 1zm7 -276-2-6 3-4-9-3-1 9 3 2 1 1-7 4 2 1 5 0 2 1 4-5zm-9 -47 10-9-8-5-4 0-1 11zm3 -40 0 5 5 2 1-3-2-5zm5 320-1-3-2 2-4 1zm-10 -276-4 1-2 5 6 3 0 4 8-6 0-2-6-1zm-9 -35 5 3 2-5 4 4 2-1 0-4-5-3-1 4-6-2zm-9 78-9 8 0 3 3 2 6 0 5-3 1-7 1-1 4-7-6-1-2-1 0-5 2-1 8 1 6-2 1-10-2-2-5-1-4 6-4-2-2 4-2 0-2 6-4 3-3-8-2 1-2 6 3 5 5-1zm10 377-1 6 5 1 6-6-3-5 1-2-2 2-3 2zm7 -123-2 0-2 2 4 8 2-1 1-2zm-49 -328 0 2 4 2 2-2 1-2 7-3 2 1 2-1 4 4 8 1 3 6 0 3 1 1 7-2 1-3 5-4-8-3-1-3-1-6-5-2-3 0-2 2-4 0-3-5-5 2 0 2-6 2-4 0-4 3-3 0-2 2zm42 24 0-4 3-5-11-2-1 4-2 2-2 8 2 2 3-3 1-6 6 4zm-3 20 0-3-7-9-7 6 2 5 10 1zm-8 71 8-10-8 0-4 4 0 7zm-3 -137-2 5 1 1 3 0 1-2-2-4zm-9 110-3 0-11 4 2 6-2 2 10 4 1-2 0-4zm-14 -63 4 3 0 2 5 1 2-5 0-2-7-4zm-31 34 4 1-2 5-3 1 1 3 5 0 1-1-1-2 0-1 3 1 2-2 1 3-2 1-2 6-2-4-4 2-1-1-4 4 1 2 2 0 2 6 2-4 4-1 2 2 0 2 4 2-1 0-4 1 2 4-6 1 2 6 5-6 3-1 2 2 5 1 1-7 1-1 3-1 6 2 2-2 0-1 4-4-4-6-3 0-4 3-2-1-2-4 1-1-5-4-2 1 0-4-1-1 11-8 4-2 1-9-4-3-4-2-3 1 0 7-6 2-3-2-4 5-3 1 0 2-4 2zm22 11-2 2-4 0-1 0 2-3zm0 15-2-1-4-3 1-3 0-1 3-1 1 1-1 3zm-3 0-5 2-1-2zm-15 -25 3-3 8-3-1 6-3 0-1 2zm20 42 2-6-2-1-5 2 1 5 2 1zm-3 12 3-1-3-7-2 1-1 5-4 1 2 2 4 3 2-1zm0 -93-2 0 0 8 4-5zm-12 -4-4-4-9 9 0 1-2 8 8 3 4-7-2-3 4-4 4 6 5-4-5-5zm-6 -11 1 2 8 1 2-5-5-1-5 2zm5 94-4 2 0 2 3 3 1 2 5-1-4-8zm-10 1 5 1 0-6-3-2 2-5 1 0 3-5-6 0 0 3-6 1 1 6 3 1zm-7 -15 4-5-1-2-3-2 4-3-1-4 3-5-1 0-5 1 0 3-2 1-1 6 2 8zm-2 13 3 4 4-2-3-2zm2 16 0-2-4-2-1 3 4 2zm-17 -79 3 7 1 0 0 1 4 3 3-1 5-4 0-8-8-4-6 1zm-28 457-2 1-2 5-3-3-1 1-2 6 1 2 14-7 0-2 3-1 0 2 3-2 4-4-3-2-1 0-3-2 4 0 0-4-3 0 1-3-2 3-2 0 0 2-5 2 0 3zm-11 -1-4 8 2-1 0-2 2-1 1-2 4 0 1-3 0-3zm-10 45 1 1 4-1-2-5-2 1zm1 -15 0-3 1-1 0-3-3-2-1 1-2 3 1 2-1 3 3 2zm-1 28-4 3 1 2 2-2zm-4 1 2-1-3-4-3 4zm-11 1 1 0 1 3-2 0-2-1-2 1 2 5 11-4-2-5-4-1 0-6-3 5-2-2-3 2 0 2zm5 -22 1-2 0-3-1-1-2 3zm-5 6 4-3-2-3-4 5zm-3 8 4-2 1-3-2-2-3 1-2 6zm-25 21 2-2 0-1-6 2zm-86 -10 4 0-1-4-4 0 0 2zm3 26 1-1-4-3-2 1-1 2 2 2 0 2 4-1zm-13 -15 3 2 1-4-1 0-3 1zm-6 -1 1-3-1-1-1 4zm-29 -52-3 0-1 2-3-4-7 5 2 2 2 1 0 3 4-1 1 1 3 1 1-3 4-2 2 1 2-3-1-4-4 2zm-15 20 4 2-3 2 2 2 5-6 4-5-3 0-2-2-2 0-1-1 0-2-3-1-1 1 1 7zm-2 8-1 3 3-3zm-20 7 6-1 0 4 6-2 0-3-1-1-5 1 0-2 1-1 3 1 0-6 2 1 3-3 3 1 1-4-2-2 0-6-5-1 0 3-1 2-2 0 2 4-2 1 0 4-3 3-4-4-4-2-3 7 6 10zm-3 -25 3 5 2 1 1-4-1-1zm-3 13-2-4-1 1 2 4zm-3 -14-5 1 4 8 1 0 3-7zm-74 -35-3 2 1 1 1 2 2 8 2 1 2-2 4-1 3-5 1-4-2-2 2-2 0-6-2 3-4 0 1-8-5 3 0 2-3 2 3 4 0 3zm7 6-1-4 3-1 0 2zm-2 10-3-1 1 4zm-22 62 3 1-3 4 2 2 4-4-1 0-1-2 2-1 1 2 3-3-3-2 2-1-2-4-2 1 0 2 2 2-1 2-5-3zm-8 -1-1-2-2 0 2 2z" fill="#ffde00"/>
<path d="m3280 529 4-1 2 1-3 4 1 1 4-1 2 0 0-2-6-4-2-2-4 0zm7 11-5 1 5 2zm-14 -6 4 0 2-4-3-2-2 1zm-40 20 0 4 4 1 2-2 3 0 0-1-8-4-2 2zm6 7-2-1-2 2 4 3zm0 7-3 0-1 3 2 1zm-29 5 4 2 5-1 1 6 2 2 4-1 0 5 3 0 3-5-2-1-1 3-2-2-2-5 0-2-2-1-4 1 0-4-1-1-2 0-2 2-4-1zm6 -29 4 0 5-7-11 5zm6 48-2 1-2-4-6 0 7 8 4-4 2-3-2-2-2 0zm-13 -237 6 2-1-5 3-5-2-2-3 0-2 4-3-2-4 1-5-3-4 1 1 1 7 4 1 2 1 3zm3 204 2 5 2-1 1-3-3-2zm1 -192 1 2 1-3-1 0zm-4 -29 3 1 2 0 1-1-5-2-1 0zm-2 246-4 0 0 2 5 2 0-3 5 2 1-2 1-3-6-2zm-7 -28 0-2-3 0 0-1-3 3 3 2 0 3 7-1 2 5-1 1-3-1-4 2 4 4-1 2 3 2 3-2 0-2 2-2 1-3 3-1-5-5 2-3-4-3-3 1-1 4zm-72 -158 9 2 1 2-11 5 2 4 4 5-1 5 3 5-1 7-4 0-2 3-2-2-1-5-3 1-6-4-3 1-2 2 0 2 7 3-1 5-1 1-1 1 10 3 3-3 0-3 0-1 2 1 2 0 10-4-1-2 2-1 0-1 2 1 2-1 1 2 4-2 0-2-2-3-3 1-3-1-4 3-4-2 5-5-1-2 2-3 1 2 3 2 1-1 0-4-1-1-4 1-3-3 2-3 2 1 2-6 2 0 4-5-1-3 10 1 1 0 4-2 2 1 1 3 3 0 1 1-3 1 0 2-4 0-2-4-2-1-4 4-3 0 0 8 8 2 0-4-2-1 0-1 4-1 0 3 3 1 1 2-1 3 3 1 2-1 2 1 1-3 2-1 0 1 3-1 2-2-3-1 0-6-3 3-1-1 2-3 4 2 2-3 5 2 1 0 1-2 2 1 2-1 1-5 0-1-3-1-2 3-2 0 0-3-5 1-3 4-1-1-3 2-1-3 2-1-1-3 1-1 2-3 3 0-1-6 4 2 1-4 6-2 2 2 4 2 2-1-3-7-4 1-1-1-7 0-6 4 2 3-2 1-3-3 2-2-1-1-4-1 0-3 4 1 2-3-3-3 0-1-4-3 2-4 3 6 4 1 1-2 6 2 1-1 3 2 0 1-2 2 2 3 2-2 2-3 1 3 2 1 6 3 2 4-3 2 0 4-2 0-1 2-4 1-1 1-3-1-1-4-4 2-1 3 1 3 3 1 1-2 3 1 1-1 2 2 6-1 1-7 1 1 1-3 5-4 1-4-3-2 2-3-3-2-4 2-1-3 2-1-3-4-5-3-2 0-1 3-4-1-1 2-2-3-2 1-2-2 3-6-6-2-1 3 2 2 0 3-2-1-1-2-4 0-1 2-4-2 5-2 0-1-4 0-1-2 4-5 2 4 4-3 1 2 5-1 3-7-5-2-5 4 0 1-6 2-1-3 1-6 3 0-1-2-3 1-6 4-4-1-2 3-3 1-1 7-3 0-1-7-1-1-5-1-1-5-4 1-2-2-1 9 2 0 6 4-4 2-5-4 1 8-2 2-3 0-1 1 3 5 0 5 2 0 3 8 1 1 3-1 2 2-1 7 4 6-9-2-1-2-6-1-3 1-6 1 1 12zm71 -26 1-6 2 1zm-26 3-2 6 3 2-3 4 2 4-2 3-2 0-1-4-5 1 0-8-6 0 2 8-9 1 0-2 5-7 7-6-1-1 2-5 1 0-7-10 1 0-2-5-2 3 0 2-2 0-2 3 1 5-5 1-2-3 1-8-1-1 1-2 3-1 3 1 3-1 4 2 3 0 0 7 2 1 3-2 1 1 0 4-3 3 5 11 2-1 0-5zm-6 -35 2 3-2 4-6-4zm-3 15-3-4 0-1 6 2-1 3zm-9 17-2 6-1-3zm55 -16-3 3 1 2-1 5 2 1 2-3-1-1 0-4 2-1zm-17 -24 5 5 0 1 4 4 4-1 0-1-4-6 1-1-1-2-5-1-3 1zm7 241-1-2-2-2-2 1 0 4 2 0 0 5 1 0 1 2 3 0 1-3-3-1zm-3 10 1 1 2 1-1-2zm-6 -17 1 2 4-1-1-4zm-2 -208 3 1 3-5-2-3zm-5 211 3 3 0 5 4-1 1-3-1-1-3-1 2-5-5 2zm5 -10-9 7 0 1 5-1 1-2 1 0 3-3zm-17 15 3-1 3 1 0 3-1 1 5 4 2-5-1-2-3-2 1-2-3-4-8 5zm-12 -154-3 1-2-6-6 5 1 2 6 0 1 3 2 1 3-1 0-3 2 0 0-2 4-2-2-2-3 0-2 1zm-53 -65 4 2 3 0 1-4 3-1 2 4 5 1 1-3-1-6 7-1 2-2-5-11-1 0-3 3-1-1-2 4-4 1-3 2-3 0 2 9-4-3-2 2zm18 266 0 2-3 4 2 1 2-3 0-2 2 1-2-4zm-53 -278 4-3 9 2 0 6-12 6 1 2-4 7 0 6 1 3-2 3 0 7 9 2 4-2 3 6-2 6-4-1-2 2-7-1-5 5 8 5 3-6 4 9 3 2 5-2-2-11 2 0 4 4 6 0 2-5-2-2-7 0 0-6 2-1-6-7-1-6 6 1 1-3 5 0 0 5 4 0 2 3 4 2 1-2-2-4 1-1 4 1 0-3 6 2 1 1-1 2 1 8-3 1-3 9 8 5 2 0-2-10 0-3 3 0 3-12-6 0 1-6-4-4 6-2 0-1-5-2-3 3 0 2-1 1-3-4-3-1-2 0 1 4-1 2 1 2-4 1-4-2-1 1-3-2-5 0-2 1-3 2-2-5 5-2 1-2 3 4 6-3 0-2-3-2-6 1-7-2 5-7 5-2 0-1-2-8-7-7-4 3-1 0-1-2 6-4-2-9-8 7 0 3-4 4-1-2-3-1-1-1-5-2-1 7 2 6 8 5zm47 301 3 2-2-3zm-1 5-4 1 3 4 4-2zm3 -26-2-5 0-2-6 2 0 2 3 3 0 3 1 1 3-1zm-9 -200 7-3-1-3-5 0-3-2-6 3 3 3 4-1zm6 -13-4-5-1 0-1 4 1 2zm-10 215-2 1-1-2-3 3 3 0 0 2-2 1 5 4 0-3 1-1 3 3 2-1 2 1 1-1 0-4-4 0-1-1 2-2-2-4-3 1zm1 1 3 1-3 3zm-4 -180-2-4-5-2-11 2-1 4 2 8 1 0 2-1 3-1 5 2 5-2 5-6zm-7 -119 2 2 1 5 2 2 5-2-7-12-2 0zm1 59 8 2 0-5-5-2zm7 -25-6 1 0 5 6-1zm-4 42-4-3-4 6 6 2 2-2zm-13 4 0 7 5 0 2-1-3-6zm-2 7-4-4-6 7 6 4zm-14 -101 1 5 7 2-1-7-4-1zm1 122-3 0-1 4 4 4-6-1 0 5 8-1-1-3 1-6zm-10 -5 3-2 4 0 4-2-1-2-4-3-5 1-3 3 1 5zm-2 12-3 10-3 2 1 2 4-1 1-2 3 0 2 2 6-2-2-3-6-2 0-7zm4 -9-2 2 0 3 1 2 6-5-3-2zm1 24-2 3 0 1 4 1 1-1zm-7 -133 7 1 2-3 1-3-7-2zm3 157-1-3-4 1 2 6 2 3 2-1 1-5 2-1zm-2 -5 1 2 4 1 0-5-2-1zm1 -166 1-2-6 0zm-5 147-3 2 0 1 6 2 0-2zm-11 -13 5 1 0-3 4-1 0 3 2 1 3-3 0-3-5 0-1-2 0-1-3-5-2 0 0 6 1 1-1 1-8 1 0 6zm5 24 5 3 1-4zm2 12-2 1 0 5 3 1 0-3 3-3zm-5 20 1 3 2 1 3-3-3-3zm-6 -51-3 1-2 3 4 3-4 2 4 4 1-1 5 4 2-2-2-5 4 0 2-4-5 0-2-2-1-2zm8 32 3-5-1-2-4 1-2-2-4 5 2 5 1 1 3-1 1-1zm2 -80 0-2-2-2-4 3-3-2 5-3-3-5-5 6 2 10 4 0 2-4zm-2 -15-3-4-3 0 2 7zm-4 129 4-2-2-3-2 3zm2 -98 0-3-2-1 3-3-1-2-2-1-5 6-2 4 4 2zm-9 12 2 6 3 1 2-2-3-3-1 1zm0 -5-1 5 6 0 1-2zm-4 80-1 3 2 3 1 0 3-6 3 0 1-2-5-2zm-4 -118 3-3 1-3 2 0 1 4 5-4 0-3-1 0-3 0-3-2 0-1 4-1 1-4-7-2-5 9-1 0-2 5 3 5zm9 -67-8 1 1 6 1 0zm-7 158-4 2-1 2 1 2 6-1 0-2 3-2 1-2-2-2-3 1zm-5 -62 1 5 3 0 1 0 5-3-3-3zm2 82 4 6 2-3-1-2 2-3-2-1-4 2zm0 -97 5 3 1-1 1-1-3-4-4 1zm6 123-3-7-2 4-2 2 3 3 1 4 3-2zm-20 -73 1 0 3 5 2 1 0 3 2 1 5-3-1-1-4-1 1-4-4-4 1-2 5 0 3 2 2-1 1-4-2-4 3-2-4-4-3 4-1 3-4 2-1 3-6-5-2 2 0 6zm7 65 1 3 1 1 4-3 1 0 3 0-1-5-3-2-2 5-4 0 3-3-2-3-3 2-1 3 0 1zm7 -12-3 0 0 4 2 2 2-3 0-2zm-18 -176-7 0 4 6 5-2 0-2 2-1 3 6-1 6 13 0-6-10 2-4-3-2-5 1 0-3-3-2-4 4zm17 135 0-1-5 1 0 1 1 3zm-5 66-2 5 1 5 3 0 3-7zm-3 -25 6 0 0-3-2-2zm-25 -133 10 1-3 5 4 4 4-3-1-3-4-3 8-3 8 3 3-5-7-7-5 1-2-1-4-10-4 1-4-1-9 5 3 3 0 3 5 4zm3 -6 2-4 7 1-3 4zm22 177-2 1-3 3 0 2 2 1 2-1 1 3 3-8zm-14 -16 6 0 1-1 3 2-1 5 1 1 4-3 2-3-2-6-5-3-2 1-2-1-1-3-5-2-2 2 0 1 6 3-2 2 4 2-4 1-1-2-2-1-3 2-2-2-4 4 1 2 4-1 2 2zm13 -41-2-2-3 2 0 4 3 3 4-3-3-2zm-7 168 2 3 2-1 1-6-3-1-3 2zm-4 -13-2 1 2 6 1 0 3-5zm3 -172-4 4 5 2 0-6zm-4 22 2-2 0-1-4-3-2 1-2 6 1 3 4 1 1 2 4 0 1-1-4-4zm-2 -164 4-2 2 0-3-5-4 3zm2 58-2 7 1 1 3-1 2-1 0-6zm1 151 3-2-5-3-1 0 0 1zm-5 -33 4-1 0-4-6 0 0 2zm-1 -115 5-3-1-2-7 0-1 1 2 4-2 3 2 4 5-3zm-5 214 6-1 0-1-1-6-5 4-1-5-4 3 1 2-2 1-2-4-2 2 1 2 2 1-1 4 2 2 6-5zm-3 -13 4-1 1 4 4-4 0-4-5 0-3-7-3 1 0 4 3 3zm-35 -197-2 3 3 3 5-1 1 3 5 0 0-2-1-1 0-2 3-1 3 1 0 4 3 0 1-3 2-1 4 2 1 3 5-1 3-1 1 3 6-1 0-2-2-3-4 1 0-6-1 0-6 3-2 2-4-3 0-3-2-2 4-4-1-4-4 2 0 5-5-1-1-1-4 1-2 2 1 2-3 4-3-1 0-3-2-3 0-2-4 0-3 4 2 4zm39 267-7 2-1 1 2 4 5 2 5-5zm-25 -328 5 2-2 3 1 4 4-2 2 2 5-4 0-2 3 0 1 0 0 5 5 2 2-10-3 0-1-2-6 0 5-2-1-2 2-1 6 5 1-6-4-2-4 1-4-1-4-3-5-1-3 4-1 4-6-2 2 6zm13 -7 4-2 2 2-4 3zm15 330-2-6-5 1 1 7 1 0zm-3 -207 1-7-3-2 0-5-5-2-6 6-3-8-4 4 1 5 4 2 2-1 8 2 2-1zm-3 48 3-3-1-2-5 0-1 2zm0 -110-2-2-2 0-3 4-1 2 7-1zm-5 88-2 1-3 1 2 6 4 1 1-3 1-4zm-12 208-1 3 4 7 7-2 4-6-2-4-1-4-3-3zm10 -235 4 0 0-3-6 0zm-51 -54-2 14 3 2 1 5 6-1 0 6 3 4 2 0 2-6-1 0-2-4 6 0 3-2 1-3 2 0 0 4-1 0 0 2-2 2-3 1 1 5-5 1 0 5-3 1-3-3-4 0-4 2 8 8 2-2 5 1 5-4 1 0 1 2-3 9 10 0 3 1 2 4 7 0-2-5-6 0 3-6-4-3 0-3 4 0 1-3 6-1 1-1 2-1 7 4 2-6-5-1-1-4-5 1-1 5-2-1-4-1 1-4 0-1-1-1-4 3 0 4 4 5-5-1 0 3-6-2 7-3 0-1-3-2-3-6 1-4 4 1 1-3 2-2-2-4-3 1-2-1 0 2-5 0 4-3-1-2-5 2 0 4-6-1 5-3-2-2-2-1 0-1 3 0 0-2-2-2-3 0-6 3-4-3zm44 114-1 3 2 2 5-2 0-3zm4 82-10 5 1 1 3 3 2-2 0-2 5-1 0-3zm-6 49-2 3 1 2 3-1 3-3 0-1zm3 -158-2 1 1 2 3 1-1-3zm-7 -102 0 1 5 0 2-3-5-3zm-2 189 4 2 1 4 2-1 1-4-1-2-1-2-3 0zm-5 101-1-4 4-2 1 6 0 2-3 2-1 0-3 1 1 8 3-1 1-3 7-2 2-9-1-4 3 0 0-2-2-2-2 0 0 3-3 0-4-3-4 2-2 2-2 0 0 6 5 2zm10 -17-1 2 3 4 1 0 0-5zm-1 -245-2 0 1 5 2 2 2-2 1-4zm1 184-1-3 3-4-6-1 1 3-2 5 2 1zm0 -80-4 3 2 3-2 3 0 3 3 0 2-2 1-3-2-1 2-3zm-1 100 1-4-3-2-3 5 4 2zm-8 119-4 2 2 6 3-4 2 1 3-1-2-3 3-2-2-1-2-4-3-1-2 3zm3 10 2 3 2 0 0-5zm2 -283-6 3-3-3-4 6 2 4 3 0 4-2 3 1 2-7zm-4 147 4 0 1-2-1-3-5 1zm-5 -276-4 1-4 6 6 2 1 3-1 3 6 2-2 3 1 2 5 0 0-6-2 0-3-4 0-1 4 3 1-5-4-1-2-4zm5 58 0-4-1-1-3 2 1 2zm-1 197-2-2-2 0 0 4 3 0zm-3 -60-6 1-3 5 0 1 5 2 6-2 1-2zm-3 129-3 2 3 4 5-2 0-1 0-1zm-5 64-1 2 3 3 8-3zm2 -404 6 1 1-2-5-2-3 1zm4 311 2-4-2-2-5-2-2 3 2 4 4 2-3 6 0 1 2 0 5-5zm-7 -69 2 4 8-4-1-3-4-2zm1 -178 1 6 1 1 3-1 1-3-2-4zm-1 119 5-3-4-5-1 0-4 3zm0 147-3-4-3 9-1-2-5 0-1-1-6 1 2 4 4-1 4 5 3 5 5 1 2-5-1-1-8-1 2-4 4 0 1 1 2 0 2-3-2-4zm0 92-1 3 0 2 4 0 0-6zm-1 -10-2 0-2 4 2 3 1 0 3-4zm0 -362-7-2 1 6 5 5 1 0 2-3-3-4zm-7 388 1 2 1-2 3 1 0-2-1-1zm-4 -15-1 1 2 6 3-2 1-1zm4 -346-5-5-2 6 0 1 4 3 1-3zm-1 273-4-3-4 2 0 4 3 1 2-1zm-1 64-5 1 0 4 5-1 0-3zm-1 -155-5-2-2 4 4 1zm-11 133 8-2 0-1-6-2zm3 -125-1 3 5 3 1-6zm-8 41 4 8 8-6-6-5zm6 -251 1 1 2-1 2-6-1-1-3 1zm-30 -89 3-1 2 3 3-1 6 6 0 1-4-1-2 3 4 2 0 2 3 1-2 4 4 1 1 1-1 3 4 5 3-3 5 0 1 2 2 0 2-1 0-4-5 2-2-5-3 3-1-2-3 0 2-3-1-3 2 0 2 1 2 0 2-2-2-1-3 0 2-2-1-2-6-6-1 2-3-2-4 0 3-3 3 2-3-4-3-2-2 2-3-2 2-2-3-2-5 2-1 0zm32 17 1 2 1 1-3-5-1-1zm1 417-3-1-2 3 3 4 3-1zm-7 -75 5-1 1-2-6-4-1 1zm3 102 1-1-5-5-6 2 0 1 2 2-2 3 1 1 4-3 1 5 0 1 6 1 0-3-3-1zm-6 -34 4 0 2-4-5-2-2 5zm0 -302 5-3-5-3-2 0-2 6zm-8 313-1 5 12-3-4-5-2 3-2-2zm-4 -20 3-1 3-2 2 2 4-2 1-3-5-1-3 2-3-1-4 3zm5 9 1 6 4 1 2-3-1-4-1 1zm-2 -348 1 0 3 0 3 2 1-3-2-3 0-1-6 1zm1 12-2 5 1 2 4 0 2-1 0-2-2-4zm-8 369 7 0 1-3 4 0 0-3-2-4 2-1-4-6-1 0-2 3 3 4-2 4-7 4zm10 -38-6-3-1 2 2 3zm-7 -120 4 1 2-1-4-3-1 0zm-38 -300 0 3 6 6 0 2-7-1-2 5 5 3-1 2 3 4 5-4 1 3 6 1 0 2 6 1 2 4 1 0 4-1 3-2 1-4 9-3-1-3-4-1 1-3-6-2 1 5-2 2 0 3-4 0-1 2-3 1-1-3-3-1-2 1-2-3 2-5-3-1 2-5-1-1-4-6 6 4 3-2 1 2-3 3 2 3 6 1 2-3 3 1 2-2-1-5-2 0-2-5-4 0-4 3-3-4-5-1-4 3-4 0zm36 353 5 3 1-6-1-2-3 1zm-4 -307-4-2 1-4-3-2-5-1-2-4-3-2-5 5 2 7 5-1 7 5-1 2 4 6 6-4 2 1 1-1 1-4-4-2zm-2 -30 2-4-6 0 1 5zm-1 328-3-3-2 5 3 0zm-7 -349 1-2-1-2-3 5zm-12 66 9-4-1-6-6-3-1-1-7-2-4 4 4 8-6 3 4 5 4 1 5-3zm0 387-5-6-6 4-2 9 5 3 9-1zm-3 -225-2-1-5 2 1 5 4 0 1-1zm-48 -204-1 1-4 2-2-5-4-1-7 7 0 2 4 5 2 0 1 7 7 4 4-4-5-8 5-2 3 2 7-2 1-2 1-1 2 1 5-1 2-4 3 1 1-2 5-1 3 8-6 2 2 9 3 0 2 6 8-1-1-5 1-6 0-2-5-1-2-2 2-6 0-1-6-2 0-2-7-1-4 5-2-2-4 2-5-7-2 6zm3 3 5-1 2 3-6 0zm6 19-4 6 6 6 4-11 3 4 7 3-2 3 0 3 5 4 1 5-5 1 2 6 3-1 2 3 6-2 0-2-2-5 2-5-10-11 1-1-3-8-4-2 6-10-6 0-4 4-1 1 3 6-4 4-5-2 4-8-3-2-8 6zm18 149 5 3 4-2 1-1 0-6-5 1-4 1zm6 -22-3-4-2 1-1 4 6 1zm-25 -176 3 1-1 4 4 6 1 7-3 2 6 4 1-2 1-3-1-2 2-3 4-3-2-4-1-3 2-1-4-4-6 4-3-4zm7 449-5 3 1 3 4 1 1-1 1-4zm-3 -118 5-4-1-1-6 0zm-2 153 2 5 2-1 2-3-1-2zm-2 -175-3 4 5 3 4-6-1-2zm2 -241-6 5 3 7 5-2zm-4 30 5 4 1-4-1-1-4 0zm3 53 2-6-8 2 2 4 3 1zm-9 244 6 2 1-4-3-2-4 2zm-6 -383-1 2 2 3 9-3 0-2-1-2-1-6-7-3 0-5-2 0-4-3-3 3 2 4 6 2-2 3-2 1-1 4zm7 481 0-2-8 0 0 2 4 4zm-85 -245 3 6 5 0 1-3 3-1 3 4 4 2 1 4-6 2 0 5 8 8-1-14 3-3 1 0 2-3 1 3-2 1-1 3 2 4-2 8 8 1 6-5 9-2 2-7-1-7 2-3-1-1-2-1-2 3-1-1 1-3 5-2 4-1 2 8 5 8 13 3 7-7-1-2-4-3-9 0-4-8 2-3-1-2 2-4 0-2 3-2-4-5-3 4-3-3-3 1 0 4-3-1 0 4-3 0 2-4-5 1 1 4 2 0 0 2 4 0 1 3 0 2-5-3-4 2 1 1-3 1-1 2-1-1-3 4 4 3-1 1-1 2-3 0-2-2-3 2-1 5 0 3-5 3 2-5-1-2 2-1-1-4-3 1-2-2-2 2-3-1-1-5 1 0 6 2 5-1-1-2 4 1 1-1 2 0 2-2-1-3-3 1-2 0-3 3-2-4-2 0-1 3-5 0-1 2-3-3-2-1 2-3-2-2-2 3-3 0 0 3-2 2-4-2zm38 12 4 1-3 5-4-3zm41 -237 3 0-3-5-6 1zm-3 191 1 3 2 1 1-3 0-2-2-1zm3 -155-11-2-4 4-3 7 10 6 4 1 3-1zm-5 452-6 0-2 4 7 1zm-3 -309-1-5-4-1-1 2 1 4 3 1zm-1 294-6-3-11 2 0 5 18-1zm-11 -271 6 0 0-4-2-2 2-2 3-7-2-1-3 1 0 2-4 3-4 1 3 8zm7 294 0-4-5-1-2 4zm-2 -359 1 0 0-2-3-8-1 7zm-6 36 2 2 5-3-2-2-2 0-3-3-2 2 0 3zm6 -158-3 0-5 4 1 3 3 0zm-7 447-1-4-9-3-1 5 8 11zm-5 -469-2 4-2 0 0 3 3 2 1-4 2 0 1-2zm0 -18-2 5 3 0 2-4zm-1 108 1-1-3-5-2 0-2 3zm-5 118 5-5 0-2-4-4 0-4-5 1 2 4-2 0-3-1-2 1 0 4 2 1 2 2 2-1 2 4zm4 113-4-3-2 3 1 3zm-4 -223-2 4 1 1 1 0 4-3zm2 157-8-1 3 4-4 6 8 0 0-5 2-2zm-14 -75-2 3 0 4-3 2 5 5 2-2 0-2 2-3 0-3 6 1 0-6-4-1 2-5 4 1 3-7-2-2-7 5-6 1 0 3zm-8 -203-1 2 1 5 4 2 6 1 1-2-1-6 5 0 1 3-2 2 4 5 4-4-2-3 1-3 0-5-5 0-7-2-2 6-2-3zm13 298 2 2 6-3 0-4-4 0zm8 -231-3-3-3 1-2 10 1 0zm-3 114 1-4-3-2-7 3-1 2 6 5 0-4zm-1 51-3 3 4 2 1-1zm1 -105-2 0-2-3-2 0-1 2 0 4 5 2 3-3zm-1 193 1-2-2-5-1-1-3 7 0 1 1 1zm-8 -80-3 0-1 3 0 4 5 0 0-4 3 1 4-1 0-3-3-1-2-2-1 0zm5 -217-1-6-2 1-2 5 4 6 4-3zm-1 426 3-4-1-4-2 1zm2 14-2-9-3-2-4 3 6 11zm-4 -361-3 0-1 4 4 4 2-2 1-2zm-5 284 0 4 3 2 3-2 0-6zm-37 -173 1 5 8-3-4 5 2 1 6-1-1 3-3 3 2 1 4 1-2 5 2 0 3 2-9 1 4 4 4 1 3-4 1-3-2-3 3 0 0 3 3 0 2-2-2-4-1 0 1-3-2-4 2 0 4 0 2 1-3 4 3 2-1 3 4 2-4 0 0 2-1 1-1 3 1 1-1 4 4 0 0-2-1-2 2-2 2 0 2-4 0-2 4-1 2-2-1-3-4 0 1-6-2-1-3-7-3 4-2-1 0-2 2-3 0-1-4-3-3 2 0 3-2 3-2 0-2 4-4 2-2-4-1-2-1-4-5 1zm18 5 4 3-3 1zm20 8-1 5-3-4 2-2zm1 -49 2-5-1-2-2 1-2 3-3 0-2 3 2 3 5-3zm-5 -160-7-5-2 1 3 8 2 1-1 3 5 1 2 2 3-4-6-5zm2 174 1-3-5-5-1 2 0 2-3 4 1 2 3 0zm-7 163 8-5-7-4-2 1-2 4zm2 -204 2 1 2-2 0-3-3-2-3 3-2 1-1 3 3 2zm-2 -153 2 1 0-3zm-4 108-4 0 2 5 4-1-6 5 1 1 7-3 1-2-2-1zm4 96-1-6-6-1-1 2 6 6zm-8 -43 5 0 1-1-2-3-3 0zm5 82 1-1-1-3-5 2 1 2-1 2 1 2 4 0zm-8 -62-2-2-3 2 1 3 3 1 2-1-1-3 6 0-1-2-3-1zm-11 -173 0 3 10 9 2 0 2-4-2-6-10-3zm8 34-1 7 4-1 1-2-2-4zm0 0-2-3-6 3 3 3zm-3 101-2-5-2 4 2 2zm-1 -80-4-1-1 5zm-13 132 6 5 2-2 1-3-1-3-6 1zm-8 197-7 7 2 3 17-7zm2 110 6-1 0-2-7-1zm5 -26-5-2-2 1 3 6 1-1zm-11 -449 1 5 5-2 1-3-1-1-4-1zm-10 121-1 3 4 1 3-1 0-3zm-6 -66 5 3 3-1-3-6-4 0zm4 20 1-4-4 0-1 4zm-5 -15-4-2-4 2-1 2 6 6 2-2-1-2zm-4 -41 2-3-13-2 2 5zm-3 94 3-3-1-2-4-1-1 2 1 3-4 3 0 2 4 1 3-3zm-1 340 3-2 1-3-6-2-3 0 0 3 0 2zm3 -36-3-4-3 0-2 1-1 7 3 2 6-4zm-5 -335 2 2 2 0 1-2-2-4zm1 11 0-2-2 0-3 3 3 2zm-7 32 4 1 1-1 1-2-4-2-2 2zm0 -50 5-4-3-2 2-6-2-2-2 0-5 2 0 2 2 5 4-1zm-4 6 6 1 0-6-3-2-2 2zm-2 -1 2-4-5-3-2 3zm-5 91 2 0 2-7-2-5-5-1-2 11 1 2zm-12 36 9 2 2-1-1-4-1-1-7 2zm10 -128-6 1-1 1 1 3 6 0zm-9 473 0 2 2 1 3 0 3-4-3-2zm7 -298-2-3-3 0 0 3 1 2 2 0zm-14 -287 6-1-2-3-4 1-2-1-1 3zm0 103-6-2-4 3 4 5 7-2 1-2zm-9 114 2 1 2-1 2-4-8-7-4 0zm4 -81-2-4-5 2 1 6 5-1zm-8 159 5 5 2-2 0-1-6-3zm5 -143-5-5-4 4 0 6 5-1zm-11 -119-4 1 1 3 5 0 4 6 2-7-3-2 5-2 0-2-4-3-2 5 0 2-2 2zm7 -16-1 1-1 5 1 2 4-2 0-3zm-5 324 2-4-4-3-5 6 1 0zm1 -281-6 0 1 10 5-2zm-7 552-1 4 6 1-1-6zm1 -400 4-6-1-4-15-2-3 3-1 5zm-2 -191 1-2 3-2-2-4-3-1-3 4-3-1-2 4 4 2zm-8 27 2 1 3-3-2-4-1 0-2 1zm-6 -10 3 1 5-2 1-5-3-1-2 3-2-1 0-2-4-3-4 2-3 1-1 2 1 3 4 1 4-2zm-2 353-2 7 3 1 5-7-2-3zm-1 -295 3-5-2-1-9-2-2 1-1 2 5 7zm3 253-1-2-10-1 3 5 0 4 2 1 5 0 0-3-2-3zm-19 -354-1 4 9 0 1-2-8-3zm2 44 1 6 1 0 3-6-3-1zm4 391-5-1-1 4-3 0 0 4 5 0 2-2zm-9 148-1 2 2 5 0 3 3-3zm-7 -163 3 4 2 1 3-3-2-3zm0 -382 6 2-5-6zm4 428 1-3-1-1-5 1 4 4zm-7 -412-5 6 1 3 7-4-2-5 5-2 0-8-5 1-1 7 1 2zm4 -20 0-5-5 2 0 3zm-7 524-1-2 0 3zm-4 -347 3-4-2-5-1 1-5 9zm-11 140 7 0 2-1 1-5 3-4 1-3-11-6-6 3 0 8 6 2-6 5zm11 98-2 0-2 3 6 3zm-10 -386 1-2-7-3-2 5-2 2 0 2 5 2 5-1zm-8 458-1 3 3 1 3-5 0-1zm1 -248-2 5 1 1 4-1 0-5zm0 122 0-1-4-3-3 0-1 2 2 5zm-14 -348 0 9 8-6-1-2 5-4-1-4-1-1-3 0-1 4-5-1-2 2zm6 308 3 6 3-8-4 0zm-4 12 3-2 0-3-2-1-5 0 0 1 3 3 0 2zm0 161-6-3-1 1 5 4zm-17 -490 3 3 4-1 2-6-2-3-8 1zm-8 38 1 0 3-7-2 0-3 1zm-1 -12 2-1 2-3 0-9-1 1-7 9-1 0-2 1 2 10 3-3zm-7 -19-3-9-4-1 0 10 6 1zm-18 -45 1-3-2-1-1 1zm-2 133-4 0-1 2 5 5 2-2zm-7 -43-3 1-2 2-1 6 2 2 7-1-3-4 6-3zm-3 -12-6-2-3 4 2 1 5 0zm-14 16 4-1 1 3 6-3-1-1-6 0 0-1-4-2-1 4zm2 -17 1-2-2-5-3 3 0 3 2 1zm-6 43 4 2 3-1-4-5zm-5 -24 0-5-6-2-3 4 0 2 4 2zm-4 -78 2-2-5-3-2 1zm-2 70 4-4-1-1-3-2-4 4zm-41 405 0-2-5 2 0 2zm-16 17 1-5-3-2-2 1 0 4zm-8 17-3-1-1 1 0 3 4 1 1-1 3 2 0-4-3 1 0-2 3 0-2-6-1 1zm1 12-3 2 2 4 1 0 1-3zm-6 -17 3 2 0-1 0-2-3 0zm3 19-2-2-6 0 2 3zm-11 19 4-5-5-2 0 6zm-3 -7-2-4-1 0-4 3 1 1 0 2 3 3zm-2 -10-2-1-2 5 3-1zm-33 29 11 4 8-4 0-3-5-2-5 2 0 2-3 0-2 1zm-126 -49 5-2-3-3-8 0-3 2 3 4 3-2 2 0zm-13 2-3 3 1 2 2 1 2-1 1-3zm0 21-2-1 0 4zm-7 -16-5-1-1 3 5 1-1 4 1 0 2 0 2-3zm-13 10 3 1 1-4-1-1-6-1-1 3zm0 -10-4 0 2 4 3-2zm-11 10 0-5-3-1 0 4 2 2zm-64 -48-4 3 4 3zm-9 1-1-2-2-1-2 5 4 2zm-4 7-3-2 2 4 1 0zm-11 68-1-2-4 4z" fill="#bfe80c"/>
<path d="m3284 533 3-4-4-4 0 2-3 1-2 3zm-58 48 0 1 4 3 1-4-1-2zm-7 -28 4 2 2-3-1-2-2-1zm2 -5-2-2 1-2-1-1-2 1 0 4 2 1zm-6 -210-5-1-1-1-4 1-3-5-1 2 5 6-3 2-1-1-4 5 5 3 4-1 4 2 2-4 2 0 1 1 0 3 1-3-2-5zm1 216-7 3-1 4 0 1 7-3 1-3zm-7 -188-1-1-3 0-1 2 0 4 5-1 0-3 5 0 1-1-4-2zm6 -9-5-3-5 1-2-2 0-2-8-4-1 2 3 3 0 2 2 1-1 5 3 2 2 0 5-1-1-2 3-2 1 2zm-37 14-1 1-4-1 0 4 4 2-2 2 4 4 1 0 2 5 6 1 1-3 3-1 5 1 0 3 2 0 3-1 1-2 1-1 0 7-2-1-3 1 5 0 2-7-1 0-1-4 4-2-2-5-7-2-3 2 1 3 4 0 0 3-3 1-3-1-2-3-7 2-1 4-4-2-1-3 4-3 4 0 0-5 2 1 2-2 0-3-3-1-1 0-2-1-4-1-2 2-3-1-2 2 0 1zm21 197 4-2 3 0 1-1-2-4-2 4-1-1-4 0 0 4zm-6 -225 5-5 1-2-5-4-3 3 0 7zm1 28 4 0-2-4-3 3zm1 23-2 5-1 2 5-3 1-2zm3 174-2-2-5 1 1 2 4 2zm-8 -7 1 6 6-5 0-1-3-2-2 0zm-5 -203-2 1 3 3 2-1 2 3 1-2 5 1 1-3-1-5-2-1-3 4-2-1zm5 43-2 0-5-2-2 3-5-2-2 4 2 2 2-2 0 4 3 2 7-5zm-8 -4 2-3-2-2-2 1-3-2-2 0 1 4-2 1 1 3 1 1 2-2 1 2zm-16 -49 2 0 2-5-2-3 5-4-2 7 2 3 7-2 0-1-5-7-2 0 1 0-6 1-1 2-7 4zm11 61-2 3 3 0zm-5 -47 4 1-2-5 2-2-1-3-6 3 5 3zm2 213 1-2-4 0zm-3 -162-1 1-2 0-2 2 1 2 6 0 1-4zm-15 -52 7 10-3 5 1 1-6 6 3 1 10-1 2-1-5-11 1-1-3-6-1 0 0-8-2 0-3 0 1 4zm9 -11-4-1-1 3 3 3 4 1 1-5-3 0zm-3 62-4 3 4 3 2-1-1-4zm-1 9 0 4-2 0-2-1 0-3-7 1-1 3 2 3 0 2 4-4 7 0 2-5zm-10 -78 1 7 4 1 1-1 1-7zm-1 78 6-6-2-3-8 3 1 4zm-10 -78-2 0-2 2 6 6 5-2 0-1zm-8 25-1-7 2-4-8 0-5-2 0 1-1 4 4 2 1 2 7 4zm-8 -21 1 8 7-2 0-7zm3 90 0 5 3-4 1 0-2-2zm-7 179-2 0 0 2 2 3 4-1 0-2zm-5 29 0 5 3 0 1-2-1-4zm-7 -20 1 6 1 0 3-3-1-1-3-2zm2 -3 1-1-1-2-2 3zm-6 -173-1 4 2-3zm-43 -125 2-6 6 1 0 3 5 6 7-6 2 7-6 4 2 3 1 0 4-3 6 6 11-5 0-5-2-3-9-7-6 0-2 1-2-1-5-2-2-4-5-2-3-3-3 0-1 1-4-1-4 6 6 2-3 4 3 7zm35 44 3 1 1-1 0-5-1-2-6 3-3 4 2 1zm1 10 1-2 1-5-6-1-2 3-5-1-1 1 1 7 2 1zm-8 75-7 4-3 5 2 2 2-1 1-5 4-2 2-2zm-17 -18-2 0-5 4 0 2 3 1 3-3zm-6 -1 2 0 2-6-3-1-6 3-3 3 6 3zm-4 13-5-2 0 3 3 2zm-26 20 2 0 0 4 2 1 6-2 1-1-1-2-4-2-1-4-4-4-3 2 2 3-1 1-3 1-2 3 4 3zm6 -17 0-5-4-1-3 4 5 2zm-13 53 1 1 1 3 3 0 2-3 3-2 0-3-4 1-1 2-2-3-2 2zm10 -119-5-2-4 4 3 2 3 0 3-3zm-7 52-2 2 3 5 3-2zm-11 89 1 1 4-2 2-2-1-2-3-3-4 3zm-3 -201 1 2 5-1-1-5-3 3-2-2zm3 112-3 1-3 1-1 2 8 5 1-4zm-5 89-1 2-2-1 1-2-7 0 1 3 3 1 1 4 5-1 1-6zm0 -156-1-2-9 3 0 2 3 2 6-1zm-18 -4 7 1 4-5-9-2zm4 21-2-4-1 0-4 1-1 2-6 2-5 0 0 3 5 4 2-2 6-3 3 0zm-8 -14-6 0 0 2 1 5-2 2 2 5 4-5 1 0 1-6zm-4 -28-3-3-5 2-1 4 2 2 6-1zm0 100-2-3-4-2-2 5 0 4 1 2 6-2zm-14 -44 3 0 1-3 3 1-1 3 0 3 3 1 1-1 0-6-3 0 1-4-1-2-3 1-1 3-3 0zm3 66 3 5 2 1 1-2 1-5-3-2zm-9 -39-1 3 5 4 7 2-1-5-3-2 5-4-1-3-5 1-4-4-10 5zm0 0 1-3 3 0 0 3zm11 -113-6-3-2 0-1 2 1 3zm-6 15-1 6 3 0 4-5zm1 258-5-1 0 3 4 5 2-2zm0 14-1-2-4 0 0 6zm-21 -222 6-1 0 7 3 2-1 3 4 2 1 0 2-4 0-3 5-3 0-1-4-4 2-3-2-4 1-2 0-3-2-1-7 1-1 4 1 3 4-1 0 4 3 3 1-1-1 4-7-4-2 1-1-6-3-1 0-5-1 0-5 1 1 5-1 5zm17 18 2-1 1-4-1-1-3 1-1 3zm-5 260 4-1-2-5-5 3zm2 -313-4 0 0 5 2 1 3-3zm-13 53 3 3 5-2 2 3 2-4-2-3-5 1-2-3-2 1-1 1-3 0 1 3zm5 121 4-7-4-2-4 5zm-2 62-1 0 1 9 2 0 2-4zm-1 -160-2-7 0-4-7 0 2 5 1 1-2 4 2 2zm-5 166 4-5-5-4-3 3-1 3zm-5 72-2 2-2 2 2 6 3 0 2-2-1-8zm-13 -356 7-3-3-7-5 1 0 3zm0 435-1 4 3 0 4-3-3-2zm2 -349-4 0-1 1 0 4 5 3 2-6zm-15 -107 4 1 1-2-4-4-1 3zm-27 -6 4 5 4-3 3-1 3 5 2 0 0 5 3 0-1 3-3 1 1 1 5 1 0 3 3 1 2 5 4-1 1-3-1-2-4 0 2-4 0-1-3 0 0-3-4-1 1-2 5 1-1-2-5-7-4 1-2-2-2 0-2-5-3-1-2 3-3 1-1 2zm28 428-5-1 0 6 2 1zm-9 -433-2 2 4 3 3-3zm-11 25 0-5-1-2-3 0-6 9 2 4 4-1 2-4zm-8 15 2 1 6-3-1-3-7-1-1 2zm-12 -5 6 0 1-5-2-3-5 5zm-6 24-5-7 1-2-2-5-3-1-6 3 3 8-1 1 8 8 1 0zm-6 -45 4-8-3-1-5 2-4 4 4 4 1 8 4-1 3-6zm-14 5 0 4 5 0-1-4zm-2 21 5-5-3-4-5 1zm-4 500 5 5 3-2-1-5zm-16 -517 2 1 6-6 4 3 4-1 2-2 0-8-5-6-8 1 0 5 1 4-8 2 0 2zm10 199 0-1-1-4-5 0 1 6zm-29 -209 1 4 3 0 2 2-6 0-1 6 5 1 3 3 1-1 3-3 4 0 3-2-7-5 3-3-3-5-4 1-1 2zm3 228 5-2 1-2-4-2-3 4zm-7 -86 4 2 1-6-4-2zm-1 74 3-1 0-4-2-1-2-7-4 0-2 0 0 3 4 6-1 2zm-6 16-5 2-2 5 3 1 1-3 2 2 8 1-2-9zm-38 -20 2 2-1 2 3 3 3-2 1 2-1 1 0 3-3 0-1-1-4-1-1 3 5 4 1 1 0 1 3 2 0 2 5 0 1-3-1-2 2-3 3 2 0 1-3 2 3 5-5 1 6 3 3-2 3 1 2-1 6-7 0-3-6-3-2 1-5 0-1-3 2-2 2 0 2-3 2 2 3 0 0 3 2 2 3 0 3-3-1-2 5-2-1-4-6 2 0-4-1-1-3 0 0 2 1 3-5-2-2 3-2-2-3-1-2 3-2 0-3 2-1 0 1-2 1-1 0-2 4-1-3-3-2 1-3-4-2 1 1 4-1 2-2-1 0-3-5 1zm12 8 1 2 0 2-2-1zm12 14-2 0-1 1-3-1 2-2 2 0 3-1 0 1zm-11 -70 6 5 2-2 4 1 2-3 6 3 3-4 2 0 1-3-4-2-1 2-6-2-1 1-1 4-4-4 1-2-3-2-6 3zm21 -159 0-5-3 1 0-7-5 3-1 1 4 4 0 4 3 7 3-3 1-2zm-5 11 2-3-5-5-1 1 2 6zm-13 231-2 5 0 2 7-3 5 4 4-7-6-2-3 4-1-3zm12 -37 0-1-4-1-2 2 1 4 4 0zm-16 -58 4-1 0 3 2 1 2-4 2 0-1-3-4 1-1-2-2-3-5 4zm3 90-1 0-2 3 1 2 3-1zm1 -66-1-4-4 0-2 3 1 6 4-1zm-5 24-4 0-2 1 2 5 2-1 1 1 4-3 0-1zm3 -219-2-4-3 2-4-1-2 1 1 3 9 0zm-10 296 10-3-4-13-1 0-7 6 0 1zm3 149 4-15-4 1-4 5-3 0 0 7 6 3zm-5 -182-2 4 1 1 7-1-1-5zm-5 -88 5-3-4-3-2 1-1 2zm0 12 3-1-1-5-3 2zm-7 65 4 2 3-3-1-3-5 1zm2 -17 2-2-1-7-1-1-3-1-6 5 7 6 1 9 4 0 1-6zm0 -99-4-3-2 1-1 3 3 2 3-1zm-10 50 0 4 6-1 1-1-5-5zm-2 368 2 2 2-2-2-3-2 2zm0 -76 1-4-1-3-2 1-3 4zm-4 -15 0 4 4 1 1-4zm-1 19-2-2-3 0-6 8 2 4 6 0 3-5zm-29 -8-3 1 1 5 5 2 2-3 0-3zm1 -336 2-2-3-4-3 3 1 3zm-21 -60 7-1 1-5-1-1-6 0-1 2zm1 142-5 7 5 2zm-48 -204 1-1 0-4-3 0-3 4zm-4 6-3-3-2 1-1 3 3 2zm-7 540 2 0-1-8-8 1zm-3 -358-6 6-3 6 2 1 3 0 4-3 3-5zm-2 -183 4-3 0-2-2-1-6 0-1 3 1 4zm-13 312-2 5 4 9 6-11-2-4-2-1zm3 141 2-1 0-7-6 1 1 3zm1 -480-3 0-7 5 2 1 8 2zm-34 48-5-2-1 1-1 3 7 2 1-1zm-16 330 1 5 3 0 2-4zm0 0 1-3-5 2 1 2zm-21 -309 3-9-2-1-6 1-3 7 1 1zm-40 23 3-1 0-7-7 3zm2 -73-2-7-4 6 2 2zm-36 74 0-6-4-1-1 2 5 6zm-37 382 3 2 3 0 1 2 0-2-6-4zm3 -2 2-2-2-2-2 1 0 3zm-21 20-4-1-2 3 4 2 2-3zm-10 25 1-4 0-1-5 1 0 3 3 2 1 2 3-1-1-3zm-6 23-3 0-1 4 4 0 0-4 3 3 2-5-3-1zm-308 29-1-1 3-4-3-1 1-4-2 2-5-1-2 2 0 2 4 5 4 1z" fill="#4da41a"/>
<path d="m2929 355 2-1 1 1 4-4-8-4-2 4zm2 129-2-3-5 0 3 6 1 0zm-12 -138 7-1-3-4-3-2-3 3 0 3zm-6 111-4 5 6 4 10-4-4-6zm8 -103-3 0 1 7 3-1 1-4zm-33 108-5-7-7-1-1 8 6-2 2 5zm-5 39 4 0 0-4-9-5-1 1zm4 -188-2 0-5 7 3 4 2 0zm-43 148-3-2-2 4 4 4 2-3zm0 -89 1-4-5-2-3 2 5 5zm-14 10-2 9 4 0 2 3 7-1-1-3 1-8-2-1-4 2zm7 88-1-1-5 3 0 1 3 2 3-2 2 1 2-2-1-2zm-2 -35-3 1 0 5 4-1 1-2zm-11 7 4 6 1 0 2-5-5-2zm4 -63 3-3-5-5-3 4 0 3zm-4 107 2 0 2-3-4-3-1 1-1 3zm-3 -31-1 1 4 6 2-8zm0 23 1-1 0-1-3-3-5 1 1 3zm-1 -9 0-3-2-1-5 3 0 4z" fill="#ffffff"/>
</g>
</g>
<text x="708.3" y="242.9" class="lt">Life expectancy quintiles</text>
<rect x="708.8" y="251.00" width="18" height="18" fill="#ff0000"/><text x="733.3" y="264.7" class="li" xml:space="preserve">Q1 (lowest life expectancy) = 4.4 - 10.6 years</text>
<rect x="708.8" y="271.15" width="18" height="18" fill="#ff7000"/><text x="733.3" y="284.7" class="li" xml:space="preserve">Q2 = 10.6 - 10.8</text>
<rect x="708.8" y="291.30" width="18" height="18" fill="#ffde00"/><text x="733.3" y="304.7" class="li" xml:space="preserve">Q3 = 10.8 - 10.9</text>
<rect x="708.8" y="311.45" width="18" height="18" fill="#bfe80c"/><text x="733.3" y="324.7" class="li" xml:space="preserve">Q4 = 10.9 - 11.0</text>
<rect x="708.8" y="331.60" width="18" height="18" fill="#4da41a"/><text x="733.3" y="344.7" class="li" xml:space="preserve">Q5 (highest life expectancy) = 11.0 - 11.1</text>

<text x="1698.3" y="242.9" class="lt">Life expectancy quintiles</text>
<rect x="1698.8" y="251.00" width="18" height="18" fill="#ff0000"/><text x="1723.3" y="264.7" class="li" xml:space="preserve">Q1 (lowest life expectancy) = 4.7 - 12.8 years</text>
<rect x="1698.8" y="271.15" width="18" height="18" fill="#ff7000"/><text x="1723.3" y="284.7" class="li" xml:space="preserve">Q2 = 12.8 - 13.1</text>
<rect x="1698.8" y="291.30" width="18" height="18" fill="#ffde00"/><text x="1723.3" y="304.7" class="li" xml:space="preserve">Q3 =  13.1 - 13.2</text>
<rect x="1698.8" y="311.45" width="18" height="18" fill="#bfe80c"/><text x="1723.3" y="324.7" class="li" xml:space="preserve">Q4 = 13.2 - 13.3</text>
<rect x="1698.8" y="331.60" width="18" height="18" fill="#4da41a"/><text x="1723.3" y="344.7" class="li" xml:space="preserve">Q5 (highest life expectancy) = 13.3 - 13.3</text>

</svg>
</body></html>
